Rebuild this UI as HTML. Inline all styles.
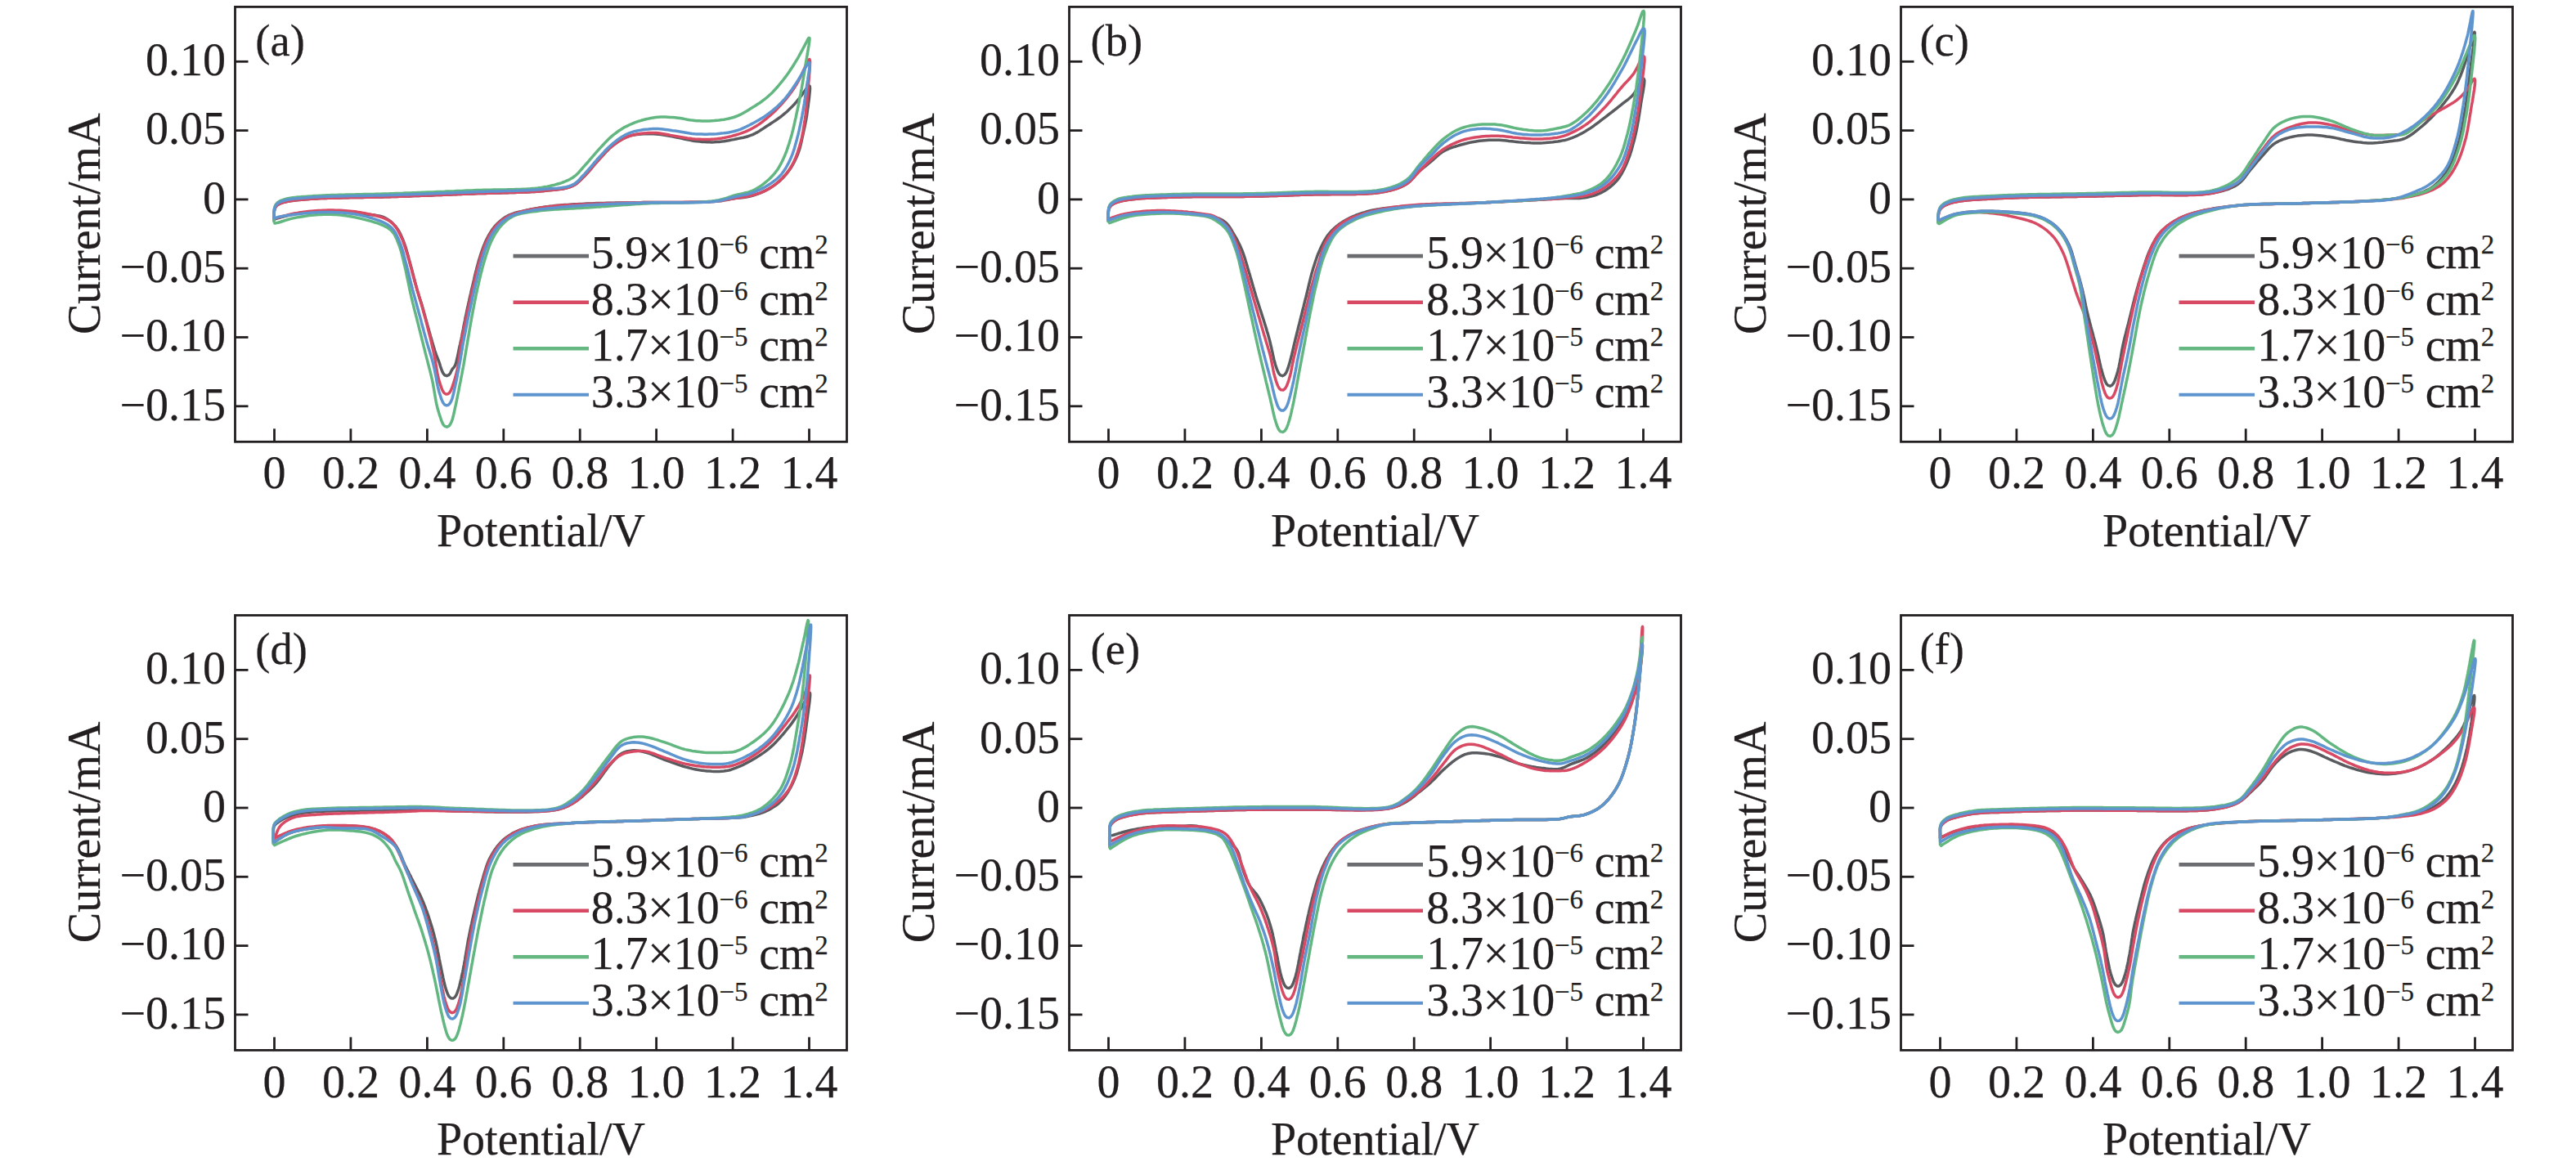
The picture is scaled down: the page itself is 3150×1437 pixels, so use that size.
<!DOCTYPE html>
<html><head><meta charset="utf-8"><style>
html,body{margin:0;padding:0;background:#fff;width:3150px;height:1437px;overflow:hidden}
svg{display:block}
text{font-family:"Liberation Serif",serif;font-size:56px;fill:#231f20;stroke:#231f20;stroke-width:0.25px}
</style></head><body>
<svg width="3150" height="1437" viewBox="0 0 3150 1437">
<g><path d="M334.9,269.2 334.9,266.9 334.8,264.0 335.0,261.0 335.4,258.0 336.1,255.1 337.4,252.5 339.5,250.5 342.1,249.1 344.9,248.1 347.8,247.2 350.7,246.6 353.6,246.0 356.6,245.5 359.6,245.2 362.6,244.8 365.5,244.5 368.5,244.3 371.5,244.0 374.5,243.8 377.5,243.6 380.5,243.3 383.5,243.1 386.5,242.9 389.5,242.8 392.5,242.6 395.5,242.5 398.5,242.4 401.5,242.3 404.5,242.2 407.5,242.1 410.5,242.0 413.5,241.9 416.5,241.9 419.5,241.8 422.5,241.8 425.5,241.7 428.5,241.6 431.5,241.6 434.5,241.5 437.5,241.5 440.5,241.4 443.5,241.4 446.5,241.3 449.5,241.3 452.5,241.2 455.5,241.2 458.5,241.1 461.5,241.0 464.5,241.0 467.5,240.9 470.5,240.8 473.5,240.8 476.5,240.7 479.5,240.6 482.5,240.5 485.4,240.4 488.4,240.3 491.4,240.2 494.4,240.1 497.4,240.0 500.4,239.9 503.4,239.7 506.4,239.6 509.4,239.5 512.4,239.4 515.4,239.3 518.4,239.2 521.4,239.1 524.4,239.0 527.4,238.9 530.4,238.7 533.4,238.6 536.4,238.5 539.4,238.4 542.4,238.3 545.4,238.1 548.4,238.0 551.4,237.9 554.4,237.8 557.4,237.7 560.4,237.6 563.4,237.4 566.4,237.3 569.4,237.2 572.4,237.1 575.4,237.0 578.4,236.9 581.4,236.7 584.4,236.6 587.4,236.5 590.4,236.4 593.4,236.4 596.4,236.3 599.4,236.2 602.4,236.1 605.4,236.0 608.4,236.0 611.4,235.9 614.4,235.8 617.4,235.7 620.4,235.7 623.4,235.6 626.4,235.5 629.4,235.4 632.4,235.3 635.4,235.2 638.4,235.1 641.4,235.0 644.4,234.9 647.3,234.7 650.3,234.6 653.3,234.4 656.3,234.2 659.3,234.0 662.3,233.7 665.3,233.4 668.3,233.1 671.3,232.8 674.3,232.5 677.2,232.3 680.2,231.9 683.2,231.6 686.2,231.2 689.1,230.7 692.1,230.1 695.0,229.3 697.8,228.4 700.5,227.2 703.2,225.7 705.6,224.0 707.9,222.0 710.1,220.0 712.2,217.8 714.3,215.7 716.4,213.6 718.4,211.4 720.4,209.1 722.4,206.8 724.3,204.5 726.2,202.2 728.1,199.9 730.1,197.7 732.1,195.4 734.1,193.2 736.2,191.0 738.2,188.8 740.2,186.6 742.3,184.4 744.4,182.3 746.6,180.3 748.9,178.4 751.3,176.5 753.7,174.8 756.2,173.1 758.7,171.5 761.3,170.0 764.0,168.6 766.8,167.4 769.6,166.4 772.5,165.6 775.4,165.0 778.4,164.5 781.3,164.2 784.3,163.9 787.3,163.8 790.3,163.7 793.3,163.6 796.3,163.7 799.3,163.7 802.3,163.9 805.3,164.2 808.3,164.5 811.2,165.0 814.2,165.5 817.2,166.0 820.1,166.6 823.0,167.1 826.0,167.7 828.9,168.3 831.9,168.9 834.8,169.5 837.7,170.2 840.7,170.8 843.6,171.4 846.6,172.0 849.5,172.4 852.5,172.8 855.5,173.1 858.5,173.4 861.5,173.6 864.5,173.7 867.4,173.8 870.4,173.9 873.4,173.8 876.4,173.6 879.4,173.4 882.4,173.1 885.4,172.7 888.3,172.2 891.3,171.7 894.3,171.1 897.2,170.6 900.1,170.0 903.1,169.4 906.0,168.8 909.0,168.2 911.9,167.5 914.8,166.7 917.6,165.7 920.4,164.6 923.1,163.3 925.7,161.9 928.3,160.4 930.8,158.8 933.4,157.1 935.8,155.5 938.4,153.8 940.9,152.2 943.4,150.5 945.9,148.9 948.4,147.2 950.9,145.5 953.3,143.8 955.7,142.0 958.0,140.1 960.3,138.2 962.6,136.2 964.8,134.1 966.9,132.0 969.0,129.9 971.1,127.7 973.1,125.5 975.0,123.2 976.9,120.9 978.7,118.5 980.5,116.1 982.3,113.6 984.0,111.2 985.7,108.7 987.5,106.3 989.2,104.7 990.3,105.6 990.5,108.3 990.3,111.3 990.0,114.3 989.7,117.3 989.4,120.3 989.0,123.2 988.6,126.2 988.3,129.2 987.8,132.2 987.4,135.1 987.0,138.1 986.6,141.1 986.1,144.0 985.6,147.0 985.0,149.9 984.4,152.9 983.8,155.8 983.2,158.7 982.5,161.7 981.9,164.6 981.2,167.5 980.6,170.5 980.0,173.4 979.3,176.3 978.6,179.2 977.8,182.1 976.8,185.0 975.8,187.8 974.7,190.6 973.5,193.3 972.2,196.0 970.9,198.7 969.4,201.3 967.9,203.9 966.2,206.4 964.5,208.9 962.7,211.3 960.8,213.6 958.8,215.8 956.8,218.0 954.6,220.1 952.4,222.1 950.1,224.0 947.7,225.9 945.2,227.6 942.7,229.2 940.2,230.8 937.6,232.2 934.9,233.6 932.2,234.9 929.4,236.1 926.6,237.1 923.8,238.1 920.9,239.0 918.0,239.8 915.1,240.5 912.2,241.0 909.2,241.4 906.2,241.7 903.2,241.9 900.2,242.3 897.3,242.7 894.3,243.3 891.4,243.8 888.4,244.4 885.5,244.9 882.5,245.4 879.5,245.8 876.5,246.1 873.6,246.4 870.6,246.6 867.6,246.7 864.6,246.9 861.6,247.0 858.6,247.1 855.6,247.2 852.6,247.2 849.6,247.3 846.6,247.3 843.6,247.3 840.6,247.4 837.6,247.4 834.6,247.4 831.6,247.4 828.6,247.4 825.6,247.4 822.6,247.4 819.6,247.4 816.6,247.4 813.6,247.4 810.6,247.4 807.6,247.4 804.6,247.4 801.6,247.5 798.6,247.5 795.6,247.5 792.6,247.5 789.6,247.6 786.6,247.6 783.6,247.7 780.6,247.7 777.6,247.8 774.6,247.8 771.6,247.9 768.6,247.9 765.6,247.9 762.6,248.0 759.6,248.0 756.6,248.1 753.6,248.1 750.6,248.2 747.6,248.2 744.6,248.3 741.6,248.3 738.6,248.4 735.6,248.5 732.6,248.6 729.6,248.6 726.6,248.7 723.6,248.9 720.6,249.0 717.6,249.1 714.6,249.2 711.6,249.4 708.6,249.5 705.6,249.7 702.6,249.8 699.6,250.0 696.6,250.2 693.6,250.4 690.6,250.6 687.6,250.8 684.7,251.1 681.7,251.3 678.7,251.6 675.7,252.0 672.7,252.3 669.7,252.7 666.8,253.1 663.8,253.5 660.8,253.9 657.9,254.4 654.9,254.9 652.0,255.4 649.0,256.0 646.1,256.6 643.1,257.3 640.2,257.9 637.3,258.6 634.4,259.2 631.5,260.0 628.6,260.8 625.7,261.8 623.0,262.9 620.3,264.3 617.7,265.8 615.2,267.5 612.8,269.3 610.6,271.2 608.4,273.3 606.3,275.4 604.3,277.7 602.5,280.1 600.8,282.6 599.2,285.1 597.7,287.7 596.3,290.3 594.9,293.0 593.6,295.7 592.5,298.5 591.3,301.3 590.3,304.1 589.3,306.9 588.3,309.7 587.4,312.6 586.5,315.5 585.6,318.3 584.8,321.2 584.0,324.1 583.2,327.0 582.5,329.9 581.7,332.8 581.0,335.7 580.3,338.6 579.7,341.6 579.0,344.5 578.3,347.4 577.6,350.3 576.9,353.2 576.2,356.2 575.6,359.1 574.9,362.0 574.2,364.9 573.6,367.9 572.9,370.8 572.3,373.7 571.6,376.7 571.0,379.6 570.4,382.5 569.8,385.5 569.1,388.4 568.6,391.3 568.0,394.3 567.4,397.2 566.8,400.2 566.3,403.1 565.7,406.1 565.1,409.0 564.6,412.0 564.0,414.9 563.3,417.8 562.7,420.8 562.0,423.7 561.4,426.6 560.8,429.6 560.2,432.5 559.6,435.4 558.9,438.4 558.3,441.3 557.5,444.2 556.5,447.0 555.0,449.4 553.2,451.3 551.8,453.8 550.6,456.5 548.8,458.7 546.3,459.7 543.8,458.8 542.0,456.6 540.6,453.9 539.6,451.1 538.6,448.2 537.8,445.4 536.8,442.5 535.7,439.7 534.6,437.0 533.5,434.2 532.6,431.3 531.6,428.5 530.7,425.6 529.9,422.7 529.0,419.9 528.2,417.0 527.4,414.1 526.5,411.2 525.7,408.3 524.9,405.4 524.1,402.6 523.3,399.7 522.5,396.8 521.7,393.9 520.9,391.0 520.1,388.1 519.3,385.2 518.5,382.3 517.7,379.4 516.9,376.5 516.1,373.6 515.2,370.8 514.3,367.9 513.3,365.1 512.4,362.2 511.5,359.3 510.6,356.5 509.8,353.6 509.0,350.7 508.3,347.8 507.5,344.9 506.8,342.0 506.0,339.1 505.3,336.2 504.5,333.3 503.8,330.4 503.0,327.5 502.2,324.6 501.4,321.7 500.6,318.8 499.8,315.9 499.1,313.0 498.3,310.1 497.4,307.2 496.6,304.3 495.7,301.5 494.7,298.6 493.7,295.8 492.6,293.0 491.4,290.3 490.2,287.5 488.9,284.8 487.5,282.2 485.8,279.7 484.0,277.3 482.0,275.1 479.9,272.9 477.7,270.9 475.3,269.1 472.8,267.5 470.1,266.1 467.3,265.0 464.5,264.2 461.5,263.6 458.6,263.1 455.6,262.8 452.6,262.5 449.6,262.2 446.6,262.0 443.6,261.6 440.7,261.3 437.7,260.9 434.7,260.6 431.7,260.2 428.7,259.9 425.8,259.6 422.8,259.3 419.8,259.0 416.8,258.8 413.8,258.6 410.8,258.4 407.8,258.2 404.8,258.2 401.8,258.1 398.8,258.1 395.8,258.2 392.8,258.3 389.8,258.4 386.8,258.6 383.8,258.8 380.8,259.0 377.9,259.3 374.9,259.6 371.9,259.9 368.9,260.3 365.9,260.7 363.0,261.2 360.0,261.7 357.1,262.3 354.2,263.0 351.2,263.7 348.3,264.5 345.5,265.2 342.6,266.1 339.7,266.9 337.2,267.7 336.6,267.9" fill="none" stroke="#5a5b5f" stroke-width="3.5" stroke-linejoin="round" stroke-linecap="round"/><path d="M334.9,269.2 334.9,266.9 334.8,264.0 335.0,261.0 335.4,258.0 336.1,255.1 337.4,252.5 339.5,250.5 342.1,249.1 344.9,248.1 347.8,247.2 350.7,246.6 353.6,246.0 356.6,245.5 359.6,245.2 362.6,244.8 365.5,244.5 368.5,244.3 371.5,244.0 374.5,243.8 377.5,243.6 380.5,243.3 383.5,243.1 386.5,242.9 389.5,242.8 392.5,242.6 395.5,242.5 398.5,242.4 401.5,242.3 404.5,242.2 407.5,242.1 410.5,242.0 413.5,241.9 416.5,241.9 419.5,241.8 422.5,241.8 425.5,241.7 428.5,241.6 431.5,241.6 434.5,241.5 437.5,241.5 440.5,241.4 443.5,241.4 446.5,241.3 449.5,241.3 452.5,241.2 455.5,241.2 458.5,241.1 461.5,241.0 464.5,241.0 467.5,240.9 470.5,240.8 473.5,240.8 476.5,240.7 479.5,240.6 482.5,240.5 485.4,240.4 488.4,240.3 491.4,240.2 494.4,240.1 497.4,240.0 500.4,239.9 503.4,239.7 506.4,239.6 509.4,239.5 512.4,239.4 515.4,239.3 518.4,239.2 521.4,239.1 524.4,239.0 527.4,238.9 530.4,238.7 533.4,238.6 536.4,238.5 539.4,238.4 542.4,238.3 545.4,238.1 548.4,238.0 551.4,237.9 554.4,237.8 557.4,237.7 560.4,237.6 563.4,237.4 566.4,237.3 569.4,237.2 572.4,237.1 575.4,237.0 578.4,236.9 581.4,236.7 584.4,236.6 587.4,236.5 590.4,236.4 593.4,236.4 596.4,236.3 599.4,236.2 602.4,236.1 605.4,236.0 608.4,236.0 611.4,235.9 614.4,235.8 617.4,235.7 620.4,235.7 623.4,235.6 626.4,235.5 629.4,235.4 632.4,235.3 635.4,235.2 638.4,235.1 641.4,235.0 644.4,234.9 647.3,234.7 650.3,234.6 653.3,234.4 656.3,234.2 659.3,234.0 662.3,233.7 665.3,233.4 668.3,233.1 671.3,232.8 674.3,232.5 677.2,232.3 680.2,231.9 683.2,231.6 686.2,231.2 689.1,230.7 692.1,230.1 695.0,229.3 697.8,228.4 700.5,227.2 703.2,225.7 705.6,224.0 707.9,222.0 710.1,220.0 712.2,217.8 714.3,215.7 716.4,213.6 718.4,211.4 720.4,209.1 722.4,206.8 724.3,204.5 726.2,202.2 728.1,199.9 730.1,197.7 732.1,195.4 734.1,193.2 736.2,191.0 738.2,188.8 740.2,186.6 742.3,184.4 744.4,182.3 746.6,180.3 748.9,178.4 751.3,176.5 753.7,174.8 756.2,173.1 758.8,171.5 761.4,170.0 764.0,168.7 766.8,167.5 769.6,166.4 772.5,165.5 775.4,164.8 778.3,164.2 781.3,163.7 784.2,163.3 787.2,163.0 790.2,162.8 793.2,162.6 796.2,162.5 799.2,162.5 802.2,162.6 805.2,162.8 808.2,163.2 811.1,163.7 814.1,164.2 817.0,164.8 820.0,165.4 822.9,165.9 825.9,166.4 828.8,166.9 831.8,167.4 834.8,167.9 837.7,168.4 840.7,168.9 843.6,169.3 846.6,169.7 849.6,170.0 852.6,170.2 855.6,170.3 858.6,170.5 861.6,170.5 864.6,170.5 867.6,170.5 870.6,170.3 873.6,170.1 876.6,169.8 879.5,169.4 882.5,169.0 885.5,168.5 888.4,167.9 891.3,167.3 894.3,166.6 897.2,165.8 900.0,165.0 902.9,164.1 905.8,163.2 908.6,162.1 911.4,161.1 914.1,159.9 916.8,158.6 919.5,157.2 922.1,155.8 924.7,154.2 927.2,152.6 929.7,150.8 932.1,149.1 934.5,147.2 936.8,145.4 939.1,143.5 941.4,141.5 943.6,139.5 945.8,137.5 948.0,135.4 950.1,133.3 952.2,131.1 954.2,128.9 956.2,126.7 958.2,124.4 960.2,122.1 962.1,119.8 963.9,117.5 965.8,115.1 967.5,112.7 969.3,110.2 971.0,107.8 972.6,105.2 974.2,102.7 975.7,100.1 977.1,97.5 978.5,94.8 979.8,92.1 981.0,89.4 982.3,86.6 983.6,83.9 984.8,81.2 986.1,78.5 987.3,75.7 988.6,73.2 989.9,72.5 990.5,74.5 990.5,77.5 990.4,80.5 990.2,83.5 990.0,86.4 989.8,89.4 989.5,92.4 989.2,95.4 989.0,98.4 988.7,101.4 988.4,104.4 988.2,107.4 987.9,110.4 987.7,113.3 987.5,116.3 987.2,119.3 986.9,122.3 986.7,125.3 986.4,128.3 986.1,131.3 985.8,134.3 985.4,137.2 985.1,140.2 984.7,143.2 984.3,146.2 983.8,149.1 983.4,152.1 982.9,155.1 982.4,158.0 981.9,161.0 981.3,163.9 980.8,166.9 980.1,169.8 979.4,172.7 978.6,175.6 977.8,178.5 976.9,181.4 976.0,184.2 975.1,187.1 974.1,189.9 973.0,192.7 971.8,195.4 970.6,198.2 969.2,200.8 967.7,203.5 966.2,206.0 964.5,208.5 962.7,210.9 960.8,213.3 958.9,215.5 956.8,217.7 954.7,219.8 952.5,221.9 950.2,223.8 947.9,225.7 945.4,227.4 943.0,229.1 940.4,230.7 937.8,232.2 935.1,233.5 932.4,234.7 929.6,235.8 926.7,236.8 923.9,237.7 921.0,238.5 918.1,239.3 915.2,239.9 912.2,240.5 909.3,241.0 906.3,241.4 903.3,241.8 900.4,242.3 897.4,242.8 894.4,243.3 891.5,243.9 888.5,244.4 885.6,244.9 882.6,245.4 879.7,245.8 876.7,246.1 873.7,246.3 870.7,246.6 867.7,246.7 864.7,246.9 861.7,247.0 858.7,247.1 855.7,247.1 852.7,247.2 849.7,247.2 846.7,247.3 843.7,247.3 840.7,247.3 837.7,247.3 834.7,247.4 831.7,247.4 828.7,247.4 825.7,247.4 822.7,247.4 819.7,247.4 816.7,247.4 813.7,247.4 810.7,247.4 807.7,247.4 804.7,247.4 801.7,247.4 798.7,247.4 795.7,247.5 792.7,247.5 789.7,247.6 786.7,247.6 783.7,247.7 780.7,247.8 777.7,247.8 774.7,247.9 771.7,248.0 768.7,248.0 765.7,248.1 762.7,248.2 759.7,248.2 756.7,248.3 753.7,248.4 750.7,248.5 747.7,248.5 744.7,248.6 741.7,248.7 738.7,248.8 735.7,248.9 732.7,249.0 729.7,249.1 726.7,249.2 723.7,249.3 720.7,249.5 717.7,249.6 714.7,249.7 711.7,249.9 708.7,250.0 705.7,250.1 702.7,250.3 699.8,250.4 696.8,250.6 693.8,250.7 690.8,250.9 687.8,251.1 684.8,251.3 681.8,251.6 678.8,251.8 675.8,252.2 672.8,252.5 669.9,252.9 666.9,253.3 663.9,253.7 661.0,254.1 658.0,254.6 655.0,255.2 652.1,255.7 649.2,256.3 646.2,257.0 643.3,257.6 640.4,258.2 637.4,258.9 634.5,259.6 631.6,260.4 628.8,261.3 625.9,262.3 623.2,263.5 620.5,264.9 618.0,266.4 615.5,268.1 613.1,270.0 610.9,271.9 608.7,274.0 606.6,276.2 604.7,278.5 602.9,280.9 601.3,283.4 599.7,285.9 598.2,288.5 596.8,291.2 595.5,293.9 594.3,296.6 593.1,299.4 592.0,302.2 591.0,305.0 590.0,307.8 589.0,310.7 588.1,313.5 587.2,316.4 586.4,319.3 585.5,322.1 584.7,325.0 584.0,327.9 583.2,330.8 582.5,333.8 581.8,336.7 581.1,339.6 580.4,342.5 579.8,345.4 579.1,348.4 578.4,351.3 577.7,354.2 577.0,357.1 576.4,360.0 575.7,363.0 575.0,365.9 574.4,368.8 573.7,371.8 573.1,374.7 572.4,377.6 571.8,380.5 571.2,383.5 570.6,386.4 569.9,389.4 569.3,392.3 568.7,395.2 568.1,398.2 567.5,401.1 566.9,404.0 566.3,407.0 565.7,409.9 565.1,412.9 564.6,415.8 564.1,418.8 563.6,421.7 563.1,424.7 562.7,427.7 562.3,430.6 562.0,433.6 561.6,436.6 561.3,439.6 560.8,442.6 560.4,445.5 559.9,448.5 559.3,451.4 558.6,454.3 557.9,457.2 557.1,460.1 556.3,463.0 555.4,465.9 554.5,468.8 553.6,471.6 552.6,474.5 551.5,477.2 550.0,479.8 548.0,481.7 545.4,482.1 543.1,480.6 541.5,478.2 540.2,475.5 539.2,472.6 538.3,469.8 537.4,466.9 536.5,464.1 535.8,461.2 535.1,458.2 534.6,455.3 534.1,452.3 533.6,449.4 533.1,446.4 532.7,443.4 532.2,440.5 531.6,437.5 531.0,434.6 530.4,431.6 529.8,428.7 529.1,425.8 528.4,422.9 527.8,419.9 527.1,417.0 526.4,414.1 525.7,411.2 524.9,408.3 524.2,405.4 523.5,402.5 522.7,399.6 522.0,396.6 521.2,393.7 520.5,390.8 519.7,388.0 518.9,385.1 518.1,382.2 517.3,379.3 516.5,376.4 515.7,373.5 514.9,370.6 514.1,367.7 513.2,364.8 512.4,362.0 511.5,359.1 510.7,356.2 509.8,353.3 509.0,350.4 508.1,347.6 507.3,344.7 506.5,341.8 505.7,338.9 504.9,336.0 504.1,333.1 503.4,330.2 502.6,327.3 501.8,324.4 501.1,321.5 500.3,318.6 499.4,315.7 498.6,312.9 497.7,310.0 496.8,307.1 496.0,304.3 495.1,301.4 494.1,298.5 493.1,295.7 492.0,292.9 490.8,290.2 489.5,287.5 488.1,284.8 486.7,282.2 485.2,279.6 483.5,277.1 481.6,274.8 479.5,272.7 477.1,270.8 474.6,269.2 471.9,267.9 469.2,266.7 466.3,265.7 463.5,264.8 460.6,264.0 457.7,263.3 454.8,262.6 451.8,262.0 448.9,261.4 445.9,260.8 443.0,260.3 440.0,259.7 437.1,259.3 434.1,258.8 431.1,258.5 428.1,258.2 425.2,257.9 422.2,257.7 419.2,257.5 416.2,257.3 413.2,257.2 410.2,257.2 407.2,257.1 404.2,257.1 401.2,257.1 398.2,257.2 395.2,257.3 392.2,257.4 389.2,257.6 386.2,257.8 383.2,258.0 380.2,258.3 377.2,258.6 374.3,258.9 371.3,259.3 368.3,259.7 365.3,260.1 362.4,260.6 359.4,261.1 356.5,261.8 353.6,262.4 350.7,263.2 347.8,263.9 344.9,264.7 342.0,265.6 339.1,266.4 336.6,267.2 336.0,267.4" fill="none" stroke="#d84a64" stroke-width="3.5" stroke-linejoin="round" stroke-linecap="round"/><path d="M334.9,271.0 334.9,268.8 334.8,265.8 334.8,262.8 334.9,259.8 335.2,256.8 335.7,253.9 336.7,251.1 338.4,248.7 340.7,246.8 343.3,245.4 346.1,244.3 348.9,243.4 351.9,242.7 354.8,242.2 357.8,241.8 360.8,241.4 363.7,241.1 366.7,240.9 369.7,240.6 372.7,240.4 375.7,240.2 378.7,240.0 381.7,239.8 384.7,239.5 387.7,239.4 390.7,239.2 393.7,239.1 396.7,238.9 399.7,238.8 402.7,238.7 405.7,238.6 408.7,238.5 411.7,238.4 414.7,238.3 417.7,238.2 420.7,238.2 423.7,238.1 426.7,238.0 429.7,238.0 432.7,237.9 435.7,237.8 438.7,237.8 441.7,237.7 444.7,237.6 447.7,237.6 450.7,237.5 453.7,237.4 456.7,237.4 459.6,237.3 462.6,237.2 465.6,237.2 468.6,237.1 471.6,237.0 474.6,236.9 477.6,236.8 480.6,236.7 483.6,236.6 486.6,236.5 489.6,236.4 492.6,236.3 495.6,236.1 498.6,236.0 501.6,235.9 504.6,235.8 507.6,235.7 510.6,235.6 513.6,235.5 516.6,235.3 519.6,235.2 522.6,235.1 525.6,235.0 528.6,234.9 531.6,234.7 534.6,234.6 537.6,234.5 540.6,234.4 543.6,234.3 546.6,234.1 549.6,234.0 552.6,233.9 555.6,233.8 558.6,233.6 561.6,233.5 564.6,233.4 567.6,233.2 570.6,233.1 573.6,233.0 576.6,232.9 579.6,232.7 582.6,232.6 585.6,232.5 588.6,232.4 591.6,232.3 594.6,232.3 597.6,232.2 600.6,232.2 603.6,232.1 606.6,232.1 609.6,232.0 612.6,232.0 615.6,231.9 618.6,231.9 621.6,231.8 624.5,231.8 627.5,231.7 630.5,231.6 633.5,231.5 636.5,231.4 639.5,231.3 642.5,231.2 645.5,231.0 648.5,230.8 651.5,230.5 654.5,230.3 657.5,230.0 660.5,229.6 663.4,229.1 666.4,228.6 669.3,228.1 672.3,227.5 675.2,226.8 678.1,226.1 681.0,225.3 683.9,224.5 686.7,223.6 689.6,222.5 692.3,221.4 695.1,220.2 697.7,218.8 700.3,217.2 702.7,215.5 705.0,213.6 707.2,211.5 709.2,209.2 711.1,207.0 713.1,204.7 715.1,202.4 717.1,200.2 719.1,198.0 721.0,195.7 723.0,193.4 724.9,191.1 726.9,188.8 728.8,186.6 730.8,184.3 732.8,182.1 734.9,179.9 736.9,177.7 739.0,175.5 741.0,173.4 743.1,171.2 745.3,169.1 747.5,167.1 749.8,165.2 752.2,163.3 754.6,161.5 757.0,159.8 759.5,158.2 762.1,156.6 764.7,155.1 767.4,153.8 770.1,152.5 772.8,151.3 775.6,150.2 778.4,149.2 781.3,148.2 784.2,147.3 787.0,146.5 789.9,145.8 792.9,145.1 795.8,144.5 798.8,144.0 801.7,143.6 804.7,143.3 807.7,143.1 810.7,143.1 813.7,143.1 816.7,143.2 819.7,143.4 822.7,143.6 825.7,143.8 828.7,144.2 831.6,144.6 834.6,145.1 837.5,145.6 840.5,146.2 843.4,146.7 846.4,147.1 849.4,147.4 852.4,147.7 855.4,147.8 858.4,147.9 861.4,148.0 864.4,148.0 867.4,148.0 870.4,147.8 873.4,147.6 876.4,147.3 879.3,147.0 882.3,146.6 885.3,146.2 888.2,145.6 891.2,145.0 894.1,144.3 897.0,143.5 899.8,142.5 902.6,141.4 905.3,140.2 908.0,138.8 910.6,137.3 913.2,135.8 915.7,134.2 918.3,132.6 920.8,131.0 923.4,129.5 925.9,127.8 928.4,126.2 930.9,124.5 933.3,122.7 935.7,120.9 938.0,119.0 940.2,117.0 942.4,115.0 944.6,112.9 946.6,110.7 948.7,108.5 950.7,106.3 952.6,104.0 954.5,101.7 956.4,99.4 958.3,97.0 960.1,94.6 961.9,92.2 963.7,89.8 965.4,87.3 967.0,84.8 968.7,82.3 970.3,79.8 971.9,77.2 973.4,74.7 975.0,72.1 976.5,69.5 977.9,66.9 979.4,64.2 980.8,61.6 982.2,58.9 983.6,56.3 985.0,53.6 986.4,51.0 987.7,48.3 989.1,46.3 990.0,46.7 989.9,49.3 989.5,52.3 989.1,55.2 988.6,58.2 988.1,61.2 987.6,64.1 987.1,67.1 986.6,70.0 986.1,73.0 985.6,75.9 985.1,78.9 984.6,81.9 984.2,84.8 983.7,87.8 983.2,90.8 982.7,93.7 982.2,96.7 981.7,99.6 981.2,102.6 980.7,105.5 980.2,108.5 979.6,111.4 979.1,114.4 978.5,117.3 977.9,120.3 977.4,123.2 976.8,126.2 976.2,129.1 975.6,132.1 975.0,135.0 974.3,137.9 973.7,140.9 973.1,143.8 972.4,146.7 971.8,149.7 971.1,152.6 970.5,155.5 969.8,158.4 969.0,161.3 968.3,164.2 967.5,167.1 966.6,170.0 965.7,172.9 964.9,175.7 963.9,178.6 963.0,181.4 962.0,184.3 960.9,187.1 959.8,189.8 958.6,192.6 957.4,195.3 956.1,198.0 954.7,200.7 953.2,203.3 951.7,205.9 950.0,208.4 948.2,210.8 946.3,213.1 944.3,215.3 942.2,217.5 940.1,219.5 937.8,221.5 935.5,223.4 933.1,225.3 930.7,227.1 928.2,228.8 925.7,230.3 923.1,231.8 920.4,233.1 917.6,234.2 914.7,235.1 911.8,235.8 908.9,236.5 906.0,237.1 903.0,237.7 900.1,238.4 897.2,239.2 894.4,240.1 891.5,241.1 888.7,242.1 885.8,243.0 882.9,243.8 880.0,244.5 877.1,245.1 874.1,245.6 871.2,246.0 868.2,246.3 865.2,246.6 862.2,246.9 859.2,247.0 856.2,247.2 853.2,247.4 850.2,247.5 847.2,247.6 844.2,247.7 841.2,247.7 838.2,247.8 835.2,247.9 832.2,247.9 829.2,248.0 826.2,248.0 823.2,248.1 820.2,248.1 817.2,248.2 814.2,248.2 811.2,248.3 808.2,248.3 805.2,248.4 802.2,248.5 799.2,248.5 796.2,248.6 793.2,248.8 790.2,248.9 787.2,249.0 784.3,249.2 781.3,249.4 778.3,249.6 775.3,249.8 772.3,250.0 769.3,250.2 766.3,250.4 763.3,250.6 760.3,250.8 757.3,251.1 754.3,251.3 751.3,251.5 748.3,251.7 745.3,252.0 742.4,252.2 739.4,252.4 736.4,252.6 733.4,252.9 730.4,253.1 727.4,253.3 724.4,253.5 721.4,253.7 718.4,253.9 715.4,254.1 712.4,254.2 709.4,254.4 706.4,254.6 703.4,254.7 700.4,254.9 697.4,255.0 694.5,255.2 691.5,255.4 688.5,255.6 685.5,255.8 682.5,255.9 679.5,256.1 676.5,256.3 673.5,256.5 670.5,256.7 667.5,257.0 664.5,257.3 661.5,257.6 658.6,258.0 655.6,258.4 652.6,258.7 649.6,259.1 646.7,259.5 643.7,260.0 640.7,260.5 637.8,261.1 634.9,261.8 632.0,262.6 629.2,263.7 626.5,264.9 623.9,266.4 621.4,268.1 619.1,270.0 616.8,272.0 614.7,274.1 612.6,276.2 610.7,278.5 608.9,280.9 607.2,283.4 605.6,285.9 604.1,288.5 602.7,291.2 601.3,293.8 600.1,296.6 598.9,299.3 597.8,302.1 596.8,305.0 595.9,307.8 594.9,310.6 594.0,313.5 593.1,316.4 592.3,319.2 591.4,322.1 590.6,325.0 589.8,327.9 589.1,330.8 588.3,333.7 587.6,336.6 586.9,339.5 586.2,342.5 585.5,345.4 584.9,348.3 584.2,351.2 583.5,354.2 582.9,357.1 582.3,360.0 581.7,363.0 581.1,365.9 580.5,368.8 579.9,371.8 579.4,374.7 578.8,377.7 578.2,380.6 577.7,383.6 577.1,386.5 576.6,389.5 576.1,392.4 575.5,395.4 575.0,398.3 574.5,401.3 574.0,404.3 573.5,407.2 573.0,410.2 572.5,413.1 572.0,416.1 571.5,419.0 571.0,422.0 570.5,425.0 570.0,427.9 569.5,430.9 569.0,433.8 568.5,436.8 568.0,439.8 567.5,442.7 567.0,445.7 566.5,448.6 565.9,451.6 565.3,454.5 564.8,457.5 564.2,460.4 563.6,463.4 563.1,466.3 562.5,469.2 561.9,472.2 561.3,475.1 560.8,478.1 560.2,481.0 559.6,484.0 559.0,486.9 558.4,489.8 557.8,492.8 557.2,495.7 556.5,498.6 555.9,501.6 555.3,504.5 554.6,507.4 553.9,510.3 553.1,513.2 552.0,516.0 550.7,518.7 549.0,521.0 546.5,522.2 544.0,521.4 542.1,519.3 540.7,516.7 539.6,513.9 538.7,511.0 537.7,508.2 536.8,505.3 536.0,502.5 535.1,499.6 534.4,496.7 533.7,493.7 533.1,490.8 532.6,487.9 532.1,484.9 531.6,481.9 531.1,479.0 530.6,476.0 530.1,473.1 529.6,470.1 529.0,467.2 528.4,464.2 527.7,461.3 527.0,458.4 526.3,455.5 525.6,452.6 524.8,449.7 524.1,446.8 523.3,443.9 522.6,440.9 521.8,438.0 521.1,435.1 520.3,432.2 519.6,429.3 518.9,426.4 518.1,423.5 517.4,420.6 516.7,417.7 515.9,414.8 515.2,411.9 514.5,409.0 513.8,406.0 513.0,403.1 512.3,400.2 511.6,397.3 510.8,394.4 510.1,391.5 509.4,388.6 508.6,385.7 507.9,382.8 507.1,379.9 506.4,377.0 505.7,374.0 504.9,371.1 504.2,368.2 503.5,365.3 502.8,362.4 502.2,359.5 501.5,356.5 500.9,353.6 500.3,350.7 499.7,347.7 499.1,344.8 498.5,341.9 497.8,338.9 497.2,336.0 496.6,333.0 496.0,330.1 495.3,327.2 494.6,324.3 493.9,321.4 493.2,318.4 492.5,315.5 491.8,312.6 491.1,309.7 490.3,306.8 489.4,303.9 488.5,301.1 487.4,298.3 486.3,295.5 485.2,292.7 483.9,290.0 482.6,287.3 480.9,284.8 479.0,282.5 476.8,280.5 474.4,278.8 471.8,277.3 469.1,276.0 466.3,274.8 463.5,273.7 460.7,272.7 457.8,271.8 455.0,270.9 452.1,270.1 449.2,269.4 446.3,268.6 443.4,267.9 440.4,267.1 437.5,266.5 434.6,265.9 431.6,265.3 428.7,264.8 425.7,264.3 422.8,263.8 419.8,263.5 416.8,263.1 413.8,262.8 410.8,262.6 407.8,262.4 404.8,262.3 401.8,262.2 398.8,262.2 395.8,262.3 392.8,262.4 389.8,262.5 386.9,262.7 383.9,263.0 380.9,263.3 377.9,263.6 374.9,264.0 372.0,264.4 369.0,264.9 366.0,265.4 363.1,265.9 360.1,266.5 357.2,267.1 354.3,267.9 351.4,268.7 348.6,269.6 345.7,270.5 342.8,271.5 340.0,272.3 337.2,272.9 335.9,273.1" fill="none" stroke="#62b680" stroke-width="3.5" stroke-linejoin="round" stroke-linecap="round"/><path d="M334.9,266.6 334.9,264.3 334.9,261.3 335.1,258.3 335.6,255.4 336.5,252.6 338.1,250.1 340.4,248.3 343.0,246.9 345.8,245.8 348.7,245.0 351.6,244.3 354.6,243.8 357.6,243.3 360.5,243.0 363.5,242.7 366.5,242.4 369.5,242.2 372.5,241.9 375.5,241.7 378.5,241.5 381.5,241.3 384.5,241.1 387.5,240.9 390.4,240.7 393.4,240.6 396.4,240.5 399.4,240.4 402.4,240.3 405.4,240.2 408.4,240.1 411.4,240.0 414.4,239.9 417.4,239.9 420.4,239.8 423.4,239.7 426.4,239.7 429.4,239.6 432.4,239.6 435.4,239.5 438.4,239.5 441.4,239.4 444.4,239.4 447.4,239.3 450.4,239.3 453.4,239.2 456.4,239.1 459.4,239.1 462.4,239.0 465.4,239.0 468.4,238.9 471.4,238.8 474.4,238.7 477.4,238.6 480.4,238.5 483.4,238.4 486.4,238.3 489.4,238.2 492.4,238.1 495.4,238.0 498.4,237.9 501.4,237.8 504.4,237.7 507.4,237.6 510.4,237.5 513.4,237.4 516.4,237.3 519.4,237.2 522.4,237.0 525.4,236.9 528.4,236.8 531.4,236.7 534.4,236.6 537.4,236.5 540.4,236.3 543.4,236.2 546.4,236.1 549.4,236.0 552.4,235.9 555.4,235.8 558.4,235.6 561.4,235.5 564.4,235.4 567.4,235.3 570.4,235.2 573.4,235.0 576.4,234.9 579.3,234.8 582.3,234.7 585.3,234.6 588.3,234.5 591.3,234.4 594.3,234.3 597.3,234.2 600.3,234.1 603.3,234.1 606.3,234.0 609.3,233.9 612.3,233.8 615.3,233.7 618.3,233.6 621.3,233.6 624.3,233.5 627.3,233.4 630.3,233.3 633.3,233.2 636.3,233.1 639.3,233.0 642.3,232.8 645.3,232.7 648.3,232.6 651.3,232.4 654.3,232.2 657.3,232.0 660.3,231.8 663.3,231.6 666.3,231.3 669.3,231.1 672.2,230.8 675.2,230.6 678.2,230.4 681.2,230.2 684.2,229.9 687.2,229.6 690.2,229.1 693.1,228.5 696.0,227.7 698.8,226.7 701.5,225.4 704.0,223.7 706.3,221.8 708.4,219.7 710.4,217.5 712.4,215.3 714.5,213.1 716.5,210.9 718.5,208.7 720.5,206.4 722.5,204.1 724.4,201.8 726.3,199.5 728.3,197.3 730.2,195.0 732.3,192.8 734.3,190.6 736.3,188.4 738.4,186.2 740.4,184.0 742.5,181.8 744.7,179.7 746.9,177.7 749.1,175.7 751.5,173.9 753.8,172.0 756.2,170.2 758.7,168.5 761.2,166.9 763.8,165.4 766.5,164.0 769.2,162.8 772.1,161.8 774.9,160.9 777.8,160.2 780.8,159.6 783.7,159.1 786.7,158.6 789.7,158.2 792.6,158.0 795.6,157.7 798.6,157.6 801.6,157.5 804.6,157.6 807.6,157.7 810.6,158.0 813.6,158.4 816.6,158.8 819.5,159.2 822.5,159.7 825.5,160.1 828.4,160.5 831.4,161.0 834.4,161.5 837.3,162.0 840.3,162.5 843.2,163.0 846.2,163.4 849.2,163.7 852.2,163.9 855.2,164.0 858.2,164.1 861.2,164.2 864.2,164.2 867.2,164.1 870.2,164.0 873.2,163.9 876.2,163.7 879.1,163.4 882.1,163.1 885.1,162.8 888.1,162.4 891.1,162.0 894.0,161.4 896.9,160.8 899.8,160.0 902.7,159.1 905.5,158.1 908.3,156.9 911.0,155.7 913.7,154.3 916.4,153.0 919.0,151.6 921.7,150.2 924.3,148.8 927.0,147.3 929.6,145.8 932.1,144.3 934.6,142.7 937.1,141.0 939.6,139.2 941.9,137.4 944.3,135.6 946.6,133.6 948.9,131.7 951.1,129.7 953.3,127.6 955.4,125.5 957.5,123.3 959.5,121.1 961.4,118.8 963.3,116.4 965.1,114.1 966.8,111.6 968.6,109.2 970.2,106.7 971.9,104.2 973.6,101.7 975.2,99.2 976.8,96.6 978.3,94.1 979.9,91.5 981.4,88.9 982.9,86.3 984.4,83.7 985.9,81.1 987.5,78.6 989.0,76.5 990.0,76.9 990.2,79.5 989.9,82.4 989.5,85.4 989.1,88.4 988.7,91.4 988.2,94.3 987.8,97.3 987.3,100.3 986.8,103.2 986.4,106.2 986.0,109.2 985.6,112.1 985.1,115.1 984.7,118.1 984.3,121.0 983.8,124.0 983.4,127.0 982.9,129.9 982.4,132.9 981.9,135.8 981.3,138.8 980.8,141.8 980.2,144.7 979.7,147.6 979.1,150.6 978.5,153.5 977.8,156.5 977.2,159.4 976.5,162.3 975.8,165.2 975.0,168.1 974.3,171.0 973.5,173.9 972.7,176.8 971.9,179.7 971.1,182.6 970.1,185.4 969.1,188.3 968.0,191.1 966.9,193.8 965.6,196.5 964.3,199.2 962.9,201.9 961.4,204.5 959.9,207.1 958.2,209.6 956.4,212.0 954.5,214.3 952.4,216.4 950.2,218.5 947.9,220.4 945.5,222.2 943.1,223.9 940.6,225.6 938.0,227.2 935.5,228.7 932.8,230.1 930.1,231.5 927.4,232.7 924.6,233.9 921.9,235.0 919.0,236.0 916.2,236.9 913.3,237.7 910.4,238.3 907.4,238.9 904.5,239.5 901.5,240.1 898.6,240.8 895.7,241.5 892.8,242.3 889.9,243.1 887.0,243.9 884.1,244.6 881.2,245.2 878.2,245.8 875.3,246.2 872.3,246.5 869.3,246.8 866.3,247.0 863.3,247.2 860.3,247.3 857.3,247.5 854.3,247.5 851.3,247.6 848.3,247.7 845.3,247.7 842.3,247.7 839.3,247.7 836.3,247.8 833.3,247.8 830.3,247.8 827.3,247.8 824.3,247.8 821.3,247.7 818.3,247.7 815.3,247.7 812.3,247.7 809.3,247.7 806.3,247.7 803.3,247.8 800.3,247.8 797.3,247.8 794.3,247.9 791.3,247.9 788.3,248.0 785.3,248.1 782.3,248.2 779.3,248.3 776.3,248.4 773.3,248.5 770.3,248.6 767.3,248.7 764.3,248.8 761.3,248.9 758.3,249.0 755.3,249.1 752.3,249.2 749.3,249.3 746.3,249.5 743.3,249.6 740.3,249.7 737.4,249.9 734.4,250.0 731.4,250.2 728.4,250.3 725.4,250.5 722.4,250.7 719.4,250.8 716.4,251.0 713.4,251.2 710.4,251.4 707.4,251.6 704.4,251.9 701.4,252.1 698.4,252.3 695.4,252.6 692.4,252.8 689.5,253.1 686.5,253.3 683.5,253.6 680.5,253.9 677.5,254.2 674.5,254.5 671.5,254.8 668.6,255.1 665.6,255.4 662.6,255.7 659.6,256.0 656.6,256.4 653.7,256.8 650.7,257.3 647.8,257.9 644.8,258.4 641.9,259.0 638.9,259.7 636.0,260.4 633.1,261.2 630.3,262.1 627.5,263.1 624.7,264.4 622.1,265.8 619.5,267.4 617.1,269.1 614.7,270.9 612.5,272.9 610.3,275.0 608.3,277.2 606.4,279.5 604.6,281.9 602.9,284.4 601.4,287.0 599.9,289.6 598.5,292.2 597.2,294.9 596.0,297.7 594.9,300.5 593.8,303.3 592.8,306.1 591.9,308.9 591.0,311.8 590.1,314.7 589.2,317.5 588.3,320.4 587.5,323.3 586.7,326.2 586.0,329.1 585.2,332.0 584.5,334.9 583.8,337.8 583.1,340.8 582.5,343.7 581.8,346.6 581.1,349.5 580.4,352.4 579.7,355.4 579.1,358.3 578.4,361.2 577.7,364.1 577.1,367.1 576.5,370.0 575.8,372.9 575.2,375.9 574.6,378.8 573.9,381.7 573.3,384.7 572.7,387.6 572.1,390.5 571.5,393.5 570.9,396.4 570.3,399.4 569.7,402.3 569.2,405.3 568.6,408.2 568.0,411.1 567.4,414.1 566.9,417.0 566.3,420.0 565.8,422.9 565.3,425.9 564.8,428.9 564.3,431.8 563.8,434.8 563.3,437.7 562.8,440.7 562.3,443.6 561.7,446.6 561.2,449.5 560.6,452.5 560.0,455.4 559.4,458.4 558.9,461.3 558.3,464.3 557.7,467.2 557.0,470.1 556.4,473.1 555.8,476.0 555.1,478.9 554.5,481.8 553.7,484.8 552.9,487.6 551.8,490.4 550.4,493.0 548.5,495.2 546.0,495.9 543.5,494.8 541.8,492.5 540.5,489.8 539.4,487.0 538.5,484.1 537.6,481.3 536.7,478.4 536.0,475.5 535.3,472.6 534.7,469.6 534.1,466.7 533.6,463.7 533.1,460.8 532.5,457.8 531.9,454.9 531.3,452.0 530.7,449.0 530.0,446.1 529.3,443.2 528.5,440.3 527.7,437.4 526.8,434.5 526.0,431.7 525.1,428.8 524.2,425.9 523.3,423.1 522.5,420.2 521.6,417.3 520.8,414.4 520.0,411.5 519.2,408.6 518.4,405.7 517.7,402.8 516.9,399.9 516.1,397.0 515.3,394.1 514.6,391.2 513.8,388.3 513.0,385.4 512.2,382.5 511.5,379.7 510.7,376.8 509.9,373.9 509.1,371.0 508.3,368.1 507.5,365.2 506.7,362.3 506.0,359.4 505.2,356.5 504.4,353.6 503.7,350.7 502.9,347.8 502.2,344.9 501.5,342.0 500.8,339.0 500.1,336.1 499.4,333.2 498.7,330.3 497.9,327.4 497.2,324.5 496.4,321.6 495.6,318.7 494.9,315.8 494.1,312.9 493.4,310.0 492.6,307.1 491.7,304.2 490.8,301.3 489.8,298.5 488.6,295.8 487.5,293.0 486.3,290.2 485.0,287.5 483.6,284.9 482.0,282.3 480.2,280.0 478.1,277.9 475.7,276.0 473.2,274.3 470.6,272.9 467.9,271.6 465.2,270.4 462.4,269.3 459.5,268.3 456.7,267.4 453.8,266.5 450.9,265.7 448.0,264.9 445.1,264.2 442.2,263.5 439.3,262.9 436.3,262.3 433.4,261.8 430.4,261.3 427.4,261.0 424.4,260.6 421.5,260.4 418.5,260.1 415.5,260.0 412.5,259.8 409.5,259.7 406.5,259.6 403.5,259.5 400.5,259.5 397.5,259.5 394.5,259.5 391.5,259.6 388.5,259.7 385.5,259.9 382.5,260.1 379.5,260.3 376.5,260.6 373.5,260.8 370.5,261.1 367.6,261.4 364.6,261.8 361.6,262.1 358.6,262.5 355.6,262.9 352.7,263.3 349.7,263.7 346.7,264.2 343.8,264.7 340.8,265.3 338.0,266.1 336.0,267.0" fill="none" stroke="#5f95cf" stroke-width="3.5" stroke-linejoin="round" stroke-linecap="round"/><rect x="287.5" y="8.4" width="748.0" height="531.9" fill="none" stroke="#231f20" stroke-width="2.8"/><line x1="287.5" y1="75.3" x2="303.5" y2="75.3" stroke="#231f20" stroke-width="2.8"/><text x="276.0" y="92.1" text-anchor="end">0.10</text><line x1="287.5" y1="159.6" x2="303.5" y2="159.6" stroke="#231f20" stroke-width="2.8"/><text x="276.0" y="176.4" text-anchor="end">0.05</text><line x1="287.5" y1="243.9" x2="303.5" y2="243.9" stroke="#231f20" stroke-width="2.8"/><text x="276.0" y="260.7" text-anchor="end">0</text><line x1="287.5" y1="328.2" x2="303.5" y2="328.2" stroke="#231f20" stroke-width="2.8"/><text x="276.0" y="345.0" text-anchor="end">−0.05</text><line x1="287.5" y1="412.5" x2="303.5" y2="412.5" stroke="#231f20" stroke-width="2.8"/><text x="276.0" y="429.3" text-anchor="end">−0.10</text><line x1="287.5" y1="496.8" x2="303.5" y2="496.8" stroke="#231f20" stroke-width="2.8"/><text x="276.0" y="513.6" text-anchor="end">−0.15</text><line x1="335.5" y1="540.3" x2="335.5" y2="524.3" stroke="#231f20" stroke-width="2.8"/><text x="335.5" y="597.4" text-anchor="middle">0</text><line x1="428.9" y1="540.3" x2="428.9" y2="524.3" stroke="#231f20" stroke-width="2.8"/><text x="428.9" y="597.4" text-anchor="middle">0.2</text><line x1="522.4" y1="540.3" x2="522.4" y2="524.3" stroke="#231f20" stroke-width="2.8"/><text x="522.4" y="597.4" text-anchor="middle">0.4</text><line x1="615.8" y1="540.3" x2="615.8" y2="524.3" stroke="#231f20" stroke-width="2.8"/><text x="615.8" y="597.4" text-anchor="middle">0.6</text><line x1="709.2" y1="540.3" x2="709.2" y2="524.3" stroke="#231f20" stroke-width="2.8"/><text x="709.2" y="597.4" text-anchor="middle">0.8</text><line x1="802.6" y1="540.3" x2="802.6" y2="524.3" stroke="#231f20" stroke-width="2.8"/><text x="802.6" y="597.4" text-anchor="middle">1.0</text><line x1="896.1" y1="540.3" x2="896.1" y2="524.3" stroke="#231f20" stroke-width="2.8"/><text x="896.1" y="597.4" text-anchor="middle">1.2</text><line x1="989.5" y1="540.3" x2="989.5" y2="524.3" stroke="#231f20" stroke-width="2.8"/><text x="989.5" y="597.4" text-anchor="middle">1.4</text><text x="661.5" y="667.9" text-anchor="middle">Potential/V</text><text transform="translate(121.7,273.7) rotate(-90)" text-anchor="middle">Current/mA</text><text x="312.3" y="67.9" style="font-size:54.5px">(a)</text><line x1="627.5" y1="313.2" x2="720.0" y2="313.2" stroke="#6b6c70" stroke-width="4.8"/><text x="722.8" y="328.2" style="letter-spacing:-0.15px">5.9×10<tspan font-size="33" dy="-18">−6</tspan><tspan dy="18"> cm</tspan><tspan font-size="33" dy="-18">2</tspan></text><line x1="627.5" y1="369.7" x2="720.0" y2="369.7" stroke="#d84a64" stroke-width="4.5"/><text x="722.8" y="384.7" style="letter-spacing:-0.15px">8.3×10<tspan font-size="33" dy="-18">−6</tspan><tspan dy="18"> cm</tspan><tspan font-size="33" dy="-18">2</tspan></text><line x1="627.5" y1="426.2" x2="720.0" y2="426.2" stroke="#66b883" stroke-width="4.5"/><text x="722.8" y="441.2" style="letter-spacing:-0.15px">1.7×10<tspan font-size="33" dy="-18">−5</tspan><tspan dy="18"> cm</tspan><tspan font-size="33" dy="-18">2</tspan></text><line x1="627.5" y1="482.7" x2="720.0" y2="482.7" stroke="#5f95cf" stroke-width="4.0"/><text x="722.8" y="497.7" style="letter-spacing:-0.15px">3.3×10<tspan font-size="33" dy="-18">−5</tspan><tspan dy="18"> cm</tspan><tspan font-size="33" dy="-18">2</tspan></text></g>
<g><path d="M1355.1,270.0 1355.1,267.7 1355.1,264.8 1355.2,261.8 1355.4,258.8 1355.9,255.8 1357.1,253.2 1359.0,251.0 1361.5,249.3 1364.2,248.0 1367.0,247.0 1369.9,246.2 1372.8,245.6 1375.8,245.0 1378.7,244.6 1381.7,244.1 1384.7,243.8 1387.7,243.4 1390.6,243.1 1393.6,242.8 1396.6,242.6 1399.6,242.4 1402.6,242.3 1405.6,242.1 1408.6,242.0 1411.6,241.9 1414.6,241.8 1417.6,241.7 1420.6,241.6 1423.6,241.5 1426.6,241.4 1429.6,241.3 1432.6,241.2 1435.6,241.1 1438.6,241.0 1441.6,241.0 1444.6,240.9 1447.6,240.8 1450.6,240.8 1453.6,240.7 1456.6,240.7 1459.6,240.6 1462.6,240.6 1465.6,240.6 1468.6,240.5 1471.6,240.5 1474.6,240.5 1477.6,240.5 1480.6,240.5 1483.6,240.5 1486.6,240.5 1489.6,240.5 1492.6,240.5 1495.6,240.5 1498.6,240.5 1501.6,240.5 1504.6,240.5 1507.6,240.5 1510.6,240.4 1513.6,240.4 1516.6,240.4 1519.6,240.4 1522.6,240.3 1525.6,240.3 1528.6,240.2 1531.6,240.2 1534.6,240.1 1537.6,240.1 1540.6,240.0 1543.6,239.9 1546.6,239.8 1549.6,239.7 1552.6,239.6 1555.6,239.6 1558.6,239.5 1561.6,239.4 1564.6,239.3 1567.6,239.1 1570.6,239.0 1573.6,238.9 1576.6,238.8 1579.6,238.7 1582.6,238.6 1585.6,238.5 1588.6,238.4 1591.6,238.3 1594.6,238.2 1597.5,238.1 1600.5,238.0 1603.5,237.9 1606.5,237.8 1609.5,237.8 1612.5,237.7 1615.5,237.7 1618.5,237.7 1621.5,237.7 1624.5,237.7 1627.5,237.6 1630.5,237.6 1633.5,237.6 1636.5,237.6 1639.5,237.6 1642.5,237.6 1645.5,237.6 1648.5,237.5 1651.5,237.5 1654.5,237.4 1657.5,237.4 1660.5,237.3 1663.5,237.2 1666.5,237.1 1669.5,237.0 1672.5,236.8 1675.5,236.6 1678.5,236.4 1681.5,236.1 1684.5,235.8 1687.5,235.4 1690.4,234.9 1693.4,234.4 1696.3,233.8 1699.2,233.1 1702.1,232.4 1705.0,231.5 1707.9,230.6 1710.7,229.6 1713.5,228.4 1716.2,227.1 1718.8,225.7 1721.3,224.0 1723.6,222.2 1725.8,220.1 1727.8,217.9 1729.8,215.6 1731.8,213.4 1733.8,211.2 1736.0,209.1 1738.2,207.2 1740.5,205.2 1742.9,203.3 1745.2,201.4 1747.5,199.5 1749.8,197.6 1752.1,195.7 1754.3,193.6 1756.5,191.6 1758.8,189.6 1761.1,187.7 1763.5,186.0 1766.1,184.4 1768.8,183.1 1771.5,181.9 1774.3,180.9 1777.2,179.9 1780.0,179.0 1782.9,178.1 1785.8,177.3 1788.7,176.5 1791.6,175.7 1794.5,175.0 1797.4,174.3 1800.3,173.7 1803.3,173.2 1806.3,172.7 1809.2,172.3 1812.2,172.0 1815.2,171.7 1818.2,171.5 1821.2,171.3 1824.2,171.3 1827.2,171.2 1830.2,171.2 1833.2,171.3 1836.2,171.4 1839.2,171.7 1842.2,172.0 1845.1,172.4 1848.1,172.7 1851.1,173.1 1854.1,173.4 1857.1,173.7 1860.0,173.9 1863.0,174.2 1866.0,174.4 1869.0,174.6 1872.0,174.8 1875.0,174.9 1878.0,175.0 1881.0,175.0 1884.0,174.9 1887.0,174.8 1890.0,174.6 1893.0,174.3 1896.0,174.0 1899.0,173.7 1901.9,173.3 1904.9,172.9 1907.9,172.4 1910.8,171.9 1913.8,171.4 1916.7,170.6 1919.5,169.7 1922.3,168.7 1925.1,167.5 1927.8,166.3 1930.5,165.0 1933.2,163.6 1935.8,162.2 1938.4,160.7 1941.0,159.1 1943.6,157.6 1946.1,155.9 1948.5,154.2 1950.9,152.4 1953.3,150.6 1955.7,148.8 1958.1,146.9 1960.5,145.1 1962.9,143.3 1965.3,141.5 1967.6,139.7 1970.0,137.8 1972.4,136.0 1974.8,134.2 1977.1,132.3 1979.5,130.4 1981.8,128.6 1984.2,126.7 1986.5,124.9 1988.9,123.1 1991.3,121.3 1993.6,119.3 1995.8,117.2 1997.7,114.9 1999.4,112.5 2001.0,109.9 2002.5,107.3 2003.9,104.7 2005.4,102.1 2006.9,99.5 2008.5,97.1 2010.1,96.3 2010.8,98.2 2010.7,101.1 2010.4,104.1 2009.9,107.1 2009.5,110.0 2009.0,113.0 2008.4,115.9 2007.9,118.9 2007.4,121.9 2006.9,124.8 2006.4,127.8 2006.0,130.7 2005.5,133.7 2005.1,136.7 2004.6,139.6 2004.1,142.6 2003.7,145.6 2003.2,148.5 2002.6,151.5 2002.1,154.4 2001.5,157.4 2000.9,160.3 2000.3,163.2 1999.6,166.2 1998.9,169.1 1998.2,172.0 1997.4,174.9 1996.6,177.8 1995.8,180.7 1995.0,183.6 1994.1,186.4 1993.2,189.3 1992.2,192.1 1991.1,194.9 1990.0,197.7 1988.8,200.5 1987.6,203.2 1986.4,205.9 1985.0,208.6 1983.6,211.3 1982.1,213.9 1980.5,216.4 1978.8,218.8 1976.9,221.1 1974.8,223.3 1972.7,225.4 1970.4,227.4 1968.1,229.3 1965.7,231.0 1963.2,232.7 1960.6,234.2 1957.9,235.6 1955.2,236.9 1952.4,238.0 1949.6,239.0 1946.7,239.8 1943.8,240.6 1940.9,241.2 1937.9,241.7 1935.0,242.1 1932.0,242.4 1929.0,242.5 1926.0,242.5 1923.0,242.4 1920.0,242.4 1917.0,242.5 1914.0,242.5 1911.0,242.7 1908.0,242.8 1905.0,243.0 1902.0,243.1 1899.0,243.2 1896.0,243.4 1893.0,243.6 1890.0,243.7 1887.0,243.9 1884.0,244.0 1881.0,244.2 1878.0,244.4 1875.0,244.5 1872.0,244.7 1869.0,244.9 1866.0,245.0 1863.1,245.2 1860.1,245.4 1857.1,245.5 1854.1,245.7 1851.1,245.9 1848.1,246.0 1845.1,246.2 1842.1,246.3 1839.1,246.5 1836.1,246.7 1833.1,246.8 1830.1,247.0 1827.1,247.1 1824.1,247.3 1821.1,247.4 1818.1,247.6 1815.1,247.7 1812.1,247.9 1809.1,248.0 1806.1,248.1 1803.1,248.2 1800.1,248.4 1797.1,248.5 1794.1,248.6 1791.1,248.7 1788.1,248.8 1785.1,248.9 1782.1,249.0 1779.1,249.2 1776.2,249.3 1773.2,249.4 1770.2,249.5 1767.2,249.6 1764.2,249.7 1761.2,249.8 1758.2,250.0 1755.2,250.1 1752.2,250.2 1749.2,250.4 1746.2,250.5 1743.2,250.7 1740.2,250.8 1737.2,251.0 1734.2,251.2 1731.2,251.4 1728.2,251.6 1725.2,251.8 1722.2,252.0 1719.2,252.3 1716.2,252.6 1713.3,252.8 1710.3,253.1 1707.3,253.3 1704.3,253.6 1701.3,253.9 1698.3,254.2 1695.3,254.5 1692.4,254.8 1689.4,255.2 1686.4,255.7 1683.5,256.1 1680.5,256.7 1677.6,257.3 1674.6,258.0 1671.7,258.7 1668.9,259.6 1666.0,260.4 1663.2,261.4 1660.3,262.4 1657.5,263.5 1654.8,264.7 1652.0,265.9 1649.3,267.2 1646.7,268.6 1644.1,270.1 1641.5,271.6 1639.0,273.3 1636.6,275.0 1634.2,276.9 1631.9,278.8 1629.7,280.9 1627.6,283.0 1625.7,285.3 1623.8,287.6 1622.1,290.1 1620.5,292.6 1619.0,295.2 1617.6,297.9 1616.3,300.6 1615.0,303.3 1613.8,306.0 1612.6,308.8 1611.4,311.5 1610.4,314.3 1609.4,317.2 1608.4,320.0 1607.5,322.9 1606.6,325.7 1605.7,328.6 1604.9,331.5 1604.0,334.4 1603.3,337.3 1602.5,340.2 1601.8,343.1 1601.1,346.0 1600.4,348.9 1599.7,351.8 1599.0,354.8 1598.3,357.7 1597.6,360.6 1596.9,363.5 1596.1,366.4 1595.4,369.3 1594.7,372.2 1594.0,375.1 1593.2,378.0 1592.5,381.0 1591.8,383.9 1591.1,386.8 1590.3,389.7 1589.6,392.6 1588.9,395.5 1588.1,398.4 1587.4,401.3 1586.7,404.2 1585.9,407.1 1585.2,410.1 1584.5,413.0 1583.8,415.9 1583.1,418.8 1582.4,421.7 1581.7,424.6 1581.0,427.6 1580.4,430.5 1579.7,433.4 1579.0,436.3 1578.2,439.2 1577.5,442.1 1576.6,445.0 1575.8,447.9 1574.8,450.7 1573.8,453.5 1572.5,456.2 1570.7,458.5 1568.3,459.7 1565.8,458.9 1563.9,456.8 1562.5,454.2 1561.4,451.4 1560.4,448.5 1559.5,445.7 1558.7,442.8 1557.9,439.9 1557.2,437.0 1556.6,434.0 1556.0,431.1 1555.3,428.2 1554.7,425.2 1554.0,422.3 1553.3,419.4 1552.6,416.5 1551.8,413.6 1551.0,410.7 1550.2,407.8 1549.3,404.9 1548.5,402.1 1547.6,399.2 1546.7,396.4 1545.8,393.5 1544.9,390.6 1544.0,387.8 1543.1,384.9 1542.2,382.0 1541.2,379.2 1540.3,376.3 1539.4,373.5 1538.5,370.6 1537.6,367.8 1536.7,364.9 1535.8,362.0 1535.0,359.2 1534.1,356.3 1533.3,353.4 1532.4,350.5 1531.6,347.6 1530.8,344.7 1530.0,341.9 1529.1,339.0 1528.3,336.1 1527.4,333.2 1526.6,330.4 1525.7,327.5 1524.9,324.6 1524.0,321.7 1523.1,318.8 1522.3,316.0 1521.3,313.1 1520.4,310.3 1519.3,307.5 1518.2,304.7 1517.0,301.9 1515.8,299.2 1514.4,296.5 1513.1,293.9 1511.6,291.2 1510.1,288.6 1508.6,286.1 1507.1,283.5 1505.6,280.9 1504.0,278.3 1502.2,275.9 1500.3,273.6 1498.1,271.6 1495.7,269.8 1493.0,268.4 1490.3,267.2 1487.5,266.2 1484.6,265.3 1481.7,264.6 1478.8,263.9 1475.9,263.2 1472.9,262.6 1470.0,262.1 1467.0,261.6 1464.0,261.3 1461.0,260.9 1458.1,260.6 1455.1,260.4 1452.1,260.2 1449.1,260.0 1446.1,259.9 1443.1,259.7 1440.1,259.6 1437.1,259.4 1434.1,259.3 1431.1,259.2 1428.1,259.2 1425.1,259.1 1422.1,259.1 1419.1,259.2 1416.1,259.2 1413.1,259.3 1410.1,259.4 1407.1,259.6 1404.1,259.7 1401.1,259.9 1398.1,260.1 1395.1,260.4 1392.2,260.7 1389.2,260.9 1386.2,261.3 1383.2,261.6 1380.2,262.1 1377.3,262.5 1374.3,263.1 1371.4,263.7 1368.5,264.5 1365.6,265.3 1362.8,266.3 1359.9,267.2 1357.5,268.1 1356.9,268.3" fill="none" stroke="#5a5b5f" stroke-width="3.5" stroke-linejoin="round" stroke-linecap="round"/><path d="M1355.1,268.3 1355.1,266.0 1355.2,263.1 1355.3,260.1 1355.6,257.1 1356.5,254.3 1358.1,251.9 1360.4,250.0 1363.0,248.5 1365.8,247.4 1368.6,246.6 1371.6,245.8 1374.5,245.3 1377.4,244.8 1380.4,244.3 1383.4,243.9 1386.4,243.6 1389.4,243.2 1392.3,242.9 1395.3,242.7 1398.3,242.5 1401.3,242.3 1404.3,242.2 1407.3,242.1 1410.3,242.0 1413.3,241.9 1416.3,241.8 1419.3,241.7 1422.3,241.5 1425.3,241.4 1428.3,241.3 1431.3,241.2 1434.3,241.1 1437.3,241.1 1440.3,241.0 1443.3,240.9 1446.3,240.8 1449.3,240.8 1452.3,240.7 1455.3,240.7 1458.3,240.6 1461.3,240.6 1464.3,240.6 1467.3,240.6 1470.3,240.5 1473.3,240.5 1476.3,240.5 1479.3,240.5 1482.3,240.5 1485.3,240.5 1488.3,240.5 1491.3,240.5 1494.3,240.5 1497.3,240.5 1500.3,240.5 1503.3,240.5 1506.3,240.5 1509.3,240.4 1512.3,240.4 1515.3,240.4 1518.3,240.4 1521.3,240.4 1524.3,240.3 1527.3,240.3 1530.3,240.2 1533.3,240.2 1536.3,240.1 1539.3,240.0 1542.3,239.9 1545.3,239.9 1548.3,239.8 1551.3,239.7 1554.3,239.6 1557.3,239.5 1560.3,239.4 1563.3,239.3 1566.3,239.2 1569.3,239.1 1572.3,239.0 1575.3,238.9 1578.3,238.8 1581.3,238.7 1584.3,238.5 1587.3,238.4 1590.3,238.3 1593.3,238.2 1596.3,238.1 1599.3,238.0 1602.2,237.9 1605.2,237.9 1608.2,237.8 1611.2,237.8 1614.2,237.7 1617.2,237.7 1620.2,237.7 1623.2,237.7 1626.2,237.7 1629.2,237.6 1632.2,237.6 1635.2,237.6 1638.2,237.6 1641.2,237.6 1644.2,237.6 1647.2,237.6 1650.2,237.5 1653.2,237.5 1656.2,237.4 1659.2,237.3 1662.2,237.3 1665.2,237.2 1668.2,237.0 1671.2,236.9 1674.2,236.7 1677.2,236.5 1680.2,236.2 1683.2,235.9 1686.2,235.6 1689.1,235.1 1692.1,234.6 1695.0,234.0 1698.0,233.4 1700.9,232.7 1703.8,231.9 1706.7,231.0 1709.5,230.1 1712.3,228.9 1715.0,227.7 1717.7,226.3 1720.2,224.8 1722.7,223.0 1724.9,221.1 1727.0,218.9 1729.0,216.7 1731.0,214.4 1733.0,212.2 1735.0,210.0 1737.1,207.9 1739.2,205.7 1741.3,203.6 1743.4,201.4 1745.5,199.3 1747.7,197.2 1749.9,195.1 1752.1,193.1 1754.3,191.1 1756.5,189.1 1758.8,187.1 1761.1,185.3 1763.6,183.5 1766.1,181.8 1768.6,180.3 1771.2,178.8 1773.9,177.4 1776.6,176.0 1779.3,174.8 1782.1,173.6 1784.9,172.6 1787.7,171.6 1790.6,170.8 1793.5,170.0 1796.4,169.4 1799.4,168.8 1802.3,168.3 1805.3,167.8 1808.2,167.4 1811.2,167.1 1814.2,166.8 1817.2,166.6 1820.2,166.4 1823.2,166.3 1826.2,166.2 1829.2,166.2 1832.2,166.3 1835.2,166.4 1838.2,166.6 1841.2,166.9 1844.1,167.2 1847.1,167.6 1850.1,168.0 1853.1,168.3 1856.1,168.6 1859.1,168.9 1862.0,169.1 1865.0,169.3 1868.0,169.5 1871.0,169.7 1874.0,169.9 1877.0,170.0 1880.0,170.0 1883.0,170.0 1886.0,169.9 1889.0,169.7 1892.0,169.5 1895.0,169.3 1898.0,169.0 1901.0,168.6 1903.9,168.2 1906.9,167.6 1909.8,166.9 1912.7,166.1 1915.5,165.1 1918.3,164.0 1921.0,162.7 1923.7,161.4 1926.4,160.1 1929.0,158.7 1931.7,157.2 1934.2,155.7 1936.8,154.1 1939.3,152.4 1941.7,150.7 1944.1,148.8 1946.4,146.9 1948.6,144.9 1950.8,142.9 1953.0,140.8 1955.1,138.7 1957.2,136.6 1959.3,134.4 1961.4,132.3 1963.5,130.1 1965.5,127.8 1967.4,125.6 1969.4,123.3 1971.3,121.0 1973.2,118.7 1975.1,116.3 1977.0,114.0 1978.8,111.7 1980.7,109.3 1982.7,107.0 1984.6,104.8 1986.6,102.5 1988.7,100.4 1990.8,98.2 1992.8,96.0 1994.8,93.7 1996.6,91.4 1998.4,88.9 1999.9,86.4 2001.3,83.7 2002.7,81.0 2004.0,78.3 2005.3,75.6 2006.6,72.9 2008.0,70.3 2009.6,68.6 2010.8,69.6 2011.0,72.3 2010.9,75.3 2010.6,78.3 2010.3,81.3 2010.0,84.3 2009.6,87.2 2009.2,90.2 2008.8,93.2 2008.4,96.2 2008.0,99.1 2007.6,102.1 2007.3,105.1 2006.9,108.1 2006.6,111.0 2006.2,114.0 2005.8,117.0 2005.4,120.0 2005.0,122.9 2004.6,125.9 2004.2,128.9 2003.7,131.9 2003.3,134.8 2002.8,137.8 2002.3,140.7 2001.8,143.7 2001.2,146.6 2000.6,149.6 2000.1,152.5 1999.5,155.5 1998.9,158.4 1998.3,161.3 1997.6,164.3 1997.0,167.2 1996.3,170.1 1995.6,173.0 1994.8,175.9 1994.0,178.8 1993.2,181.7 1992.3,184.6 1991.4,187.4 1990.4,190.3 1989.5,193.1 1988.5,196.0 1987.4,198.8 1986.2,201.5 1985.0,204.2 1983.6,206.9 1982.0,209.5 1980.3,211.9 1978.5,214.3 1976.6,216.6 1974.5,218.8 1972.4,220.9 1970.2,223.0 1968.0,225.0 1965.6,226.8 1963.2,228.6 1960.7,230.3 1958.2,231.8 1955.5,233.3 1952.8,234.5 1950.1,235.7 1947.3,236.8 1944.4,237.7 1941.5,238.6 1938.6,239.3 1935.7,239.9 1932.7,240.4 1929.8,240.8 1926.8,241.0 1923.8,241.3 1920.8,241.5 1917.8,241.8 1914.8,242.0 1911.8,242.3 1908.8,242.5 1905.8,242.8 1902.9,243.0 1899.9,243.2 1896.9,243.4 1893.9,243.6 1890.9,243.8 1887.9,244.0 1884.9,244.1 1881.9,244.3 1878.9,244.5 1875.9,244.7 1872.9,244.8 1869.9,245.0 1866.9,245.1 1863.9,245.3 1860.9,245.5 1857.9,245.6 1854.9,245.8 1851.9,245.9 1848.9,246.1 1845.9,246.2 1843.0,246.4 1840.0,246.5 1837.0,246.7 1834.0,246.8 1831.0,247.0 1828.0,247.1 1825.0,247.3 1822.0,247.4 1819.0,247.5 1816.0,247.7 1813.0,247.8 1810.0,247.9 1807.0,248.0 1804.0,248.1 1801.0,248.2 1798.0,248.3 1795.0,248.4 1792.0,248.5 1789.0,248.5 1786.0,248.6 1783.0,248.7 1780.0,248.7 1777.0,248.8 1774.0,248.9 1771.0,248.9 1768.0,249.0 1765.0,249.1 1762.0,249.2 1759.0,249.3 1756.0,249.3 1753.0,249.4 1750.0,249.6 1747.0,249.7 1744.0,249.8 1741.0,249.9 1738.0,250.1 1735.0,250.3 1732.0,250.5 1729.0,250.7 1726.1,250.9 1723.1,251.2 1720.1,251.5 1717.1,251.8 1714.1,252.1 1711.1,252.5 1708.2,252.8 1705.2,253.2 1702.2,253.6 1699.2,254.1 1696.3,254.5 1693.3,255.0 1690.4,255.5 1687.4,256.1 1684.5,256.7 1681.6,257.4 1678.6,258.1 1675.7,258.8 1672.9,259.7 1670.0,260.5 1667.1,261.4 1664.2,262.3 1661.4,263.3 1658.6,264.3 1655.8,265.3 1653.0,266.4 1650.3,267.7 1647.6,269.0 1644.9,270.4 1642.4,271.9 1639.9,273.6 1637.5,275.5 1635.2,277.4 1633.1,279.5 1631.0,281.7 1629.1,284.0 1627.2,286.4 1625.5,288.8 1623.9,291.3 1622.3,293.9 1620.9,296.5 1619.7,299.2 1618.5,302.0 1617.5,304.8 1616.6,307.7 1615.7,310.6 1614.8,313.4 1614.0,316.3 1613.1,319.2 1612.2,322.0 1611.3,324.9 1610.4,327.8 1609.5,330.6 1608.6,333.5 1607.8,336.4 1607.0,339.3 1606.2,342.2 1605.4,345.0 1604.6,347.9 1603.8,350.8 1603.0,353.7 1602.3,356.6 1601.5,359.5 1600.8,362.5 1600.1,365.4 1599.4,368.3 1598.7,371.2 1597.9,374.1 1597.2,377.0 1596.5,379.9 1595.8,382.8 1595.1,385.8 1594.3,388.7 1593.6,391.6 1592.9,394.5 1592.2,397.4 1591.4,400.3 1590.7,403.2 1590.0,406.1 1589.2,409.0 1588.5,412.0 1587.8,414.9 1587.0,417.8 1586.3,420.7 1585.5,423.6 1584.8,426.5 1584.1,429.4 1583.4,432.3 1582.7,435.2 1582.0,438.2 1581.4,441.1 1580.8,444.0 1580.2,447.0 1579.6,449.9 1579.0,452.9 1578.4,455.8 1577.7,458.7 1576.9,461.6 1576.1,464.5 1575.1,467.3 1574.1,470.2 1572.9,472.9 1571.3,475.4 1569.1,477.0 1566.5,476.8 1564.4,475.1 1562.9,472.5 1561.7,469.8 1560.7,466.9 1559.8,464.1 1559.0,461.2 1558.2,458.3 1557.5,455.4 1556.9,452.5 1556.4,449.5 1555.8,446.6 1555.2,443.6 1554.6,440.7 1554.0,437.7 1553.3,434.8 1552.5,431.9 1551.7,429.0 1550.8,426.2 1550.0,423.3 1549.1,420.4 1548.2,417.6 1547.4,414.7 1546.5,411.8 1545.6,408.9 1544.8,406.1 1544.0,403.2 1543.1,400.3 1542.3,397.4 1541.4,394.5 1540.6,391.7 1539.8,388.8 1538.9,385.9 1538.1,383.0 1537.2,380.1 1536.4,377.2 1535.6,374.4 1534.7,371.5 1533.9,368.6 1533.0,365.7 1532.2,362.8 1531.4,360.0 1530.5,357.1 1529.7,354.2 1528.8,351.3 1528.0,348.4 1527.2,345.6 1526.4,342.7 1525.6,339.8 1524.7,336.9 1523.9,334.0 1523.1,331.1 1522.2,328.3 1521.4,325.4 1520.5,322.5 1519.6,319.7 1518.7,316.8 1517.8,313.9 1516.9,311.1 1515.9,308.2 1514.9,305.4 1513.9,302.6 1512.8,299.8 1511.7,297.0 1510.5,294.3 1509.2,291.5 1508.0,288.8 1506.6,286.1 1505.2,283.5 1503.6,280.9 1501.9,278.5 1500.0,276.1 1498.0,274.0 1495.7,272.0 1493.4,270.1 1491.0,268.3 1488.5,266.7 1485.9,265.2 1483.2,263.9 1480.4,262.9 1477.4,262.4 1474.4,262.1 1471.5,261.7 1468.5,261.3 1465.5,260.9 1462.6,260.5 1459.6,260.1 1456.6,259.8 1453.6,259.5 1450.6,259.1 1447.6,258.9 1444.7,258.6 1441.7,258.4 1438.7,258.2 1435.7,258.0 1432.7,257.9 1429.7,257.8 1426.7,257.7 1423.7,257.6 1420.7,257.6 1417.7,257.6 1414.7,257.6 1411.7,257.7 1408.7,257.8 1405.7,257.9 1402.7,258.1 1399.7,258.3 1396.7,258.6 1393.7,258.9 1390.7,259.2 1387.8,259.6 1384.8,260.0 1381.8,260.4 1378.9,260.9 1375.9,261.4 1373.0,262.1 1370.1,262.8 1367.2,263.7 1364.4,264.6 1361.5,265.6 1358.8,266.7 1356.7,267.5" fill="none" stroke="#d84a64" stroke-width="3.5" stroke-linejoin="round" stroke-linecap="round"/><path d="M1355.1,271.1 1355.1,268.8 1355.1,265.9 1355.1,262.9 1355.2,259.9 1355.4,256.9 1355.8,254.0 1356.8,251.2 1358.5,248.8 1360.8,246.9 1363.3,245.3 1366.0,244.0 1368.8,243.0 1371.7,242.2 1374.7,241.6 1377.6,241.2 1380.6,240.7 1383.6,240.4 1386.5,240.0 1389.5,239.7 1392.5,239.4 1395.5,239.2 1398.5,239.0 1401.5,238.8 1404.5,238.7 1407.5,238.6 1410.5,238.5 1413.5,238.3 1416.5,238.2 1419.5,238.1 1422.5,238.0 1425.5,237.9 1428.5,237.8 1431.5,237.7 1434.5,237.6 1437.5,237.6 1440.5,237.5 1443.5,237.4 1446.5,237.3 1449.5,237.3 1452.5,237.2 1455.5,237.2 1458.5,237.1 1461.5,237.1 1464.5,237.1 1467.5,237.0 1470.5,237.0 1473.5,237.0 1476.5,237.0 1479.5,237.0 1482.5,237.0 1485.5,237.0 1488.5,237.0 1491.5,237.0 1494.5,237.0 1497.5,237.0 1500.5,237.0 1503.5,237.0 1506.5,237.0 1509.5,236.9 1512.5,236.9 1515.5,236.9 1518.5,236.9 1521.5,236.8 1524.5,236.8 1527.5,236.8 1530.5,236.7 1533.5,236.7 1536.5,236.6 1539.5,236.5 1542.5,236.4 1545.5,236.4 1548.5,236.3 1551.5,236.2 1554.4,236.1 1557.4,236.0 1560.4,235.9 1563.4,235.8 1566.4,235.7 1569.4,235.6 1572.4,235.5 1575.4,235.3 1578.4,235.2 1581.4,235.1 1584.4,235.0 1587.4,234.9 1590.4,234.8 1593.4,234.7 1596.4,234.6 1599.4,234.5 1602.4,234.4 1605.4,234.4 1608.4,234.3 1611.4,234.3 1614.4,234.3 1617.4,234.3 1620.4,234.3 1623.4,234.3 1626.4,234.4 1629.4,234.4 1632.4,234.4 1635.4,234.4 1638.4,234.5 1641.4,234.5 1644.4,234.5 1647.4,234.5 1650.4,234.5 1653.4,234.5 1656.4,234.4 1659.4,234.4 1662.4,234.3 1665.4,234.2 1668.4,234.1 1671.4,234.0 1674.4,233.8 1677.4,233.6 1680.4,233.3 1683.4,233.0 1686.3,232.5 1689.3,232.0 1692.2,231.5 1695.2,230.8 1698.1,230.0 1700.9,229.2 1703.8,228.2 1706.6,227.2 1709.4,226.0 1712.1,224.8 1714.7,223.3 1717.3,221.8 1719.8,220.1 1722.1,218.2 1724.3,216.2 1726.3,213.9 1728.1,211.6 1729.9,209.2 1731.7,206.8 1733.5,204.4 1735.4,202.0 1737.3,199.8 1739.3,197.5 1741.2,195.2 1743.1,192.9 1745.1,190.6 1747.0,188.3 1749.0,186.1 1751.0,183.9 1753.1,181.6 1755.1,179.4 1757.2,177.3 1759.3,175.1 1761.5,173.1 1763.7,171.1 1766.0,169.2 1768.4,167.4 1770.8,165.6 1773.3,163.9 1775.8,162.3 1778.4,160.8 1781.1,159.3 1783.8,158.1 1786.6,156.9 1789.4,156.0 1792.3,155.1 1795.2,154.4 1798.1,153.8 1801.1,153.3 1804.1,152.9 1807.0,152.6 1810.0,152.3 1813.0,152.1 1816.0,151.9 1819.0,151.9 1822.0,151.9 1825.0,152.0 1828.0,152.1 1831.0,152.4 1834.0,152.7 1836.9,153.1 1839.9,153.7 1842.8,154.3 1845.7,155.0 1848.7,155.7 1851.6,156.4 1854.5,157.0 1857.5,157.5 1860.4,157.9 1863.4,158.4 1866.4,158.8 1869.3,159.2 1872.3,159.5 1875.3,159.8 1878.3,159.9 1881.3,160.0 1884.3,159.9 1887.3,159.7 1890.3,159.4 1893.3,159.0 1896.2,158.5 1899.2,158.0 1902.1,157.4 1905.1,156.8 1908.0,156.2 1910.9,155.5 1913.8,154.8 1916.7,154.0 1919.5,152.8 1922.1,151.4 1924.6,149.8 1927.1,148.1 1929.5,146.3 1931.9,144.4 1934.2,142.5 1936.4,140.5 1938.6,138.5 1940.8,136.5 1942.9,134.3 1945.0,132.2 1947.0,130.0 1949.0,127.7 1951.0,125.4 1952.9,123.1 1954.7,120.7 1956.5,118.4 1958.3,116.0 1960.1,113.5 1961.8,111.1 1963.5,108.6 1965.2,106.1 1966.9,103.6 1968.5,101.1 1970.0,98.5 1971.6,96.0 1973.1,93.4 1974.6,90.8 1976.1,88.2 1977.5,85.5 1979.0,82.9 1980.4,80.3 1981.8,77.6 1983.2,75.0 1984.6,72.3 1985.9,69.6 1987.2,66.9 1988.5,64.2 1989.7,61.5 1991.0,58.7 1992.2,56.0 1993.4,53.2 1994.6,50.5 1995.8,47.7 1996.9,45.0 1998.1,42.2 1999.3,39.4 2000.4,36.7 2001.5,33.9 2002.6,31.1 2003.6,28.3 2004.6,25.4 2005.5,22.6 2006.5,19.7 2007.5,16.9 2008.6,14.3 2009.9,13.4 2010.5,15.3 2010.5,18.2 2010.4,21.2 2010.2,24.2 2009.9,27.2 2009.7,30.2 2009.4,33.2 2009.1,36.2 2008.9,39.2 2008.6,42.2 2008.2,45.1 2007.9,48.1 2007.6,51.1 2007.3,54.1 2007.0,57.1 2006.6,60.0 2006.3,63.0 2006.0,66.0 2005.6,69.0 2005.3,72.0 2005.0,75.0 2004.6,77.9 2004.3,80.9 2004.0,83.9 2003.6,86.9 2003.2,89.9 2002.8,92.8 2002.4,95.8 2002.0,98.8 2001.6,101.7 2001.2,104.7 2000.8,107.7 2000.3,110.6 1999.8,113.6 1999.4,116.6 1998.9,119.5 1998.4,122.5 1997.9,125.5 1997.4,128.4 1996.9,131.4 1996.3,134.3 1995.8,137.3 1995.3,140.2 1994.7,143.2 1994.1,146.1 1993.5,149.0 1992.9,152.0 1992.2,154.9 1991.5,157.8 1990.8,160.7 1990.1,163.6 1989.3,166.5 1988.5,169.4 1987.7,172.3 1986.9,175.2 1986.1,178.1 1985.2,181.0 1984.2,183.8 1983.2,186.6 1982.1,189.4 1980.9,192.2 1979.7,194.9 1978.3,197.6 1977.0,200.3 1975.5,202.9 1974.0,205.5 1972.5,208.1 1970.8,210.6 1969.1,213.0 1967.3,215.4 1965.3,217.7 1963.3,219.9 1961.1,221.9 1958.8,223.8 1956.3,225.6 1953.8,227.2 1951.2,228.7 1948.6,230.1 1945.9,231.4 1943.1,232.6 1940.4,233.7 1937.5,234.8 1934.7,235.6 1931.8,236.4 1928.8,237.0 1925.9,237.6 1922.9,238.1 1920.0,238.7 1917.0,239.2 1914.1,239.7 1911.1,240.2 1908.2,240.7 1905.2,241.1 1902.2,241.5 1899.2,241.9 1896.3,242.3 1893.3,242.6 1890.3,242.9 1887.3,243.3 1884.3,243.6 1881.3,243.9 1878.4,244.1 1875.4,244.4 1872.4,244.6 1869.4,244.8 1866.4,245.0 1863.4,245.2 1860.4,245.4 1857.4,245.5 1854.4,245.7 1851.4,245.9 1848.4,246.0 1845.4,246.2 1842.4,246.3 1839.4,246.5 1836.4,246.6 1833.4,246.8 1830.4,246.9 1827.4,247.1 1824.5,247.2 1821.5,247.4 1818.5,247.6 1815.5,247.8 1812.5,247.9 1809.5,248.1 1806.5,248.2 1803.5,248.4 1800.5,248.5 1797.5,248.7 1794.5,248.8 1791.5,248.9 1788.5,249.1 1785.5,249.2 1782.5,249.4 1779.5,249.5 1776.5,249.6 1773.5,249.8 1770.5,249.9 1767.5,250.1 1764.5,250.2 1761.5,250.4 1758.5,250.6 1755.5,250.7 1752.5,250.9 1749.6,251.1 1746.6,251.2 1743.6,251.4 1740.6,251.6 1737.6,251.9 1734.6,252.1 1731.6,252.3 1728.6,252.6 1725.6,252.9 1722.6,253.2 1719.7,253.5 1716.7,253.9 1713.7,254.3 1710.7,254.7 1707.8,255.2 1704.8,255.6 1701.9,256.2 1698.9,256.7 1696.0,257.3 1693.0,257.9 1690.1,258.6 1687.2,259.2 1684.3,259.9 1681.3,260.6 1678.4,261.3 1675.5,262.0 1672.6,262.8 1669.7,263.6 1666.9,264.5 1664.1,265.6 1661.3,266.7 1658.5,267.9 1655.8,269.2 1653.2,270.6 1650.5,272.0 1647.9,273.5 1645.4,275.1 1642.9,276.8 1640.5,278.6 1638.2,280.5 1636.0,282.5 1634.0,284.7 1632.1,287.1 1630.4,289.5 1628.8,292.1 1627.3,294.7 1626.0,297.4 1624.7,300.1 1623.4,302.8 1622.3,305.6 1621.1,308.3 1620.0,311.1 1618.9,313.9 1617.9,316.7 1616.9,319.6 1616.1,322.4 1615.2,325.3 1614.4,328.2 1613.7,331.1 1612.9,334.0 1612.2,336.9 1611.5,339.9 1610.8,342.8 1610.1,345.7 1609.4,348.6 1608.7,351.5 1608.0,354.4 1607.3,357.4 1606.7,360.3 1606.1,363.2 1605.5,366.2 1604.9,369.1 1604.3,372.1 1603.7,375.0 1603.1,377.9 1602.5,380.9 1601.9,383.8 1601.4,386.8 1600.8,389.7 1600.2,392.7 1599.7,395.6 1599.1,398.6 1598.6,401.5 1598.1,404.5 1597.5,407.4 1597.0,410.4 1596.4,413.3 1595.9,416.3 1595.3,419.2 1594.8,422.2 1594.2,425.1 1593.7,428.1 1593.1,431.0 1592.6,434.0 1592.0,436.9 1591.5,439.9 1590.9,442.8 1590.4,445.7 1589.8,448.7 1589.2,451.6 1588.7,454.6 1588.1,457.5 1587.6,460.5 1587.1,463.4 1586.5,466.4 1586.0,469.3 1585.5,472.3 1584.9,475.3 1584.4,478.2 1583.9,481.2 1583.3,484.1 1582.7,487.1 1582.2,490.0 1581.6,492.9 1580.9,495.9 1580.3,498.8 1579.6,501.7 1579.0,504.7 1578.3,507.6 1577.5,510.5 1576.8,513.4 1575.9,516.2 1575.0,519.1 1573.9,521.9 1572.7,524.6 1571.0,527.0 1568.6,528.4 1566.1,527.9 1564.1,525.9 1562.7,523.3 1561.5,520.5 1560.6,517.7 1559.7,514.8 1558.8,511.9 1558.1,509.0 1557.4,506.1 1556.7,503.2 1556.1,500.2 1555.5,497.3 1554.8,494.4 1554.1,491.5 1553.5,488.5 1552.8,485.6 1552.1,482.7 1551.4,479.8 1550.7,476.9 1550.0,474.0 1549.3,471.0 1548.5,468.1 1547.8,465.2 1547.2,462.3 1546.5,459.4 1545.8,456.4 1545.1,453.5 1544.4,450.6 1543.7,447.7 1543.0,444.8 1542.3,441.8 1541.6,438.9 1541.0,436.0 1540.3,433.1 1539.6,430.2 1538.9,427.2 1538.3,424.3 1537.6,421.4 1536.9,418.5 1536.3,415.5 1535.6,412.6 1535.0,409.7 1534.3,406.7 1533.7,403.8 1533.1,400.9 1532.4,397.9 1531.8,395.0 1531.2,392.1 1530.5,389.2 1529.9,386.2 1529.2,383.3 1528.6,380.4 1528.0,377.4 1527.3,374.5 1526.7,371.6 1526.1,368.6 1525.5,365.7 1524.8,362.8 1524.2,359.8 1523.6,356.9 1522.9,354.0 1522.3,351.0 1521.6,348.1 1521.0,345.2 1520.3,342.3 1519.6,339.3 1519.0,336.4 1518.3,333.5 1517.7,330.6 1517.0,327.6 1516.3,324.7 1515.7,321.8 1515.0,318.9 1514.2,316.0 1513.4,313.1 1512.6,310.2 1511.7,307.3 1510.7,304.5 1509.7,301.6 1508.7,298.8 1507.7,296.0 1506.6,293.2 1505.4,290.4 1504.1,287.7 1502.7,285.1 1501.1,282.6 1499.3,280.2 1497.3,278.0 1495.1,275.9 1492.8,274.0 1490.4,272.2 1487.9,270.5 1485.4,268.9 1482.8,267.4 1480.0,266.2 1477.2,265.3 1474.3,264.6 1471.3,264.1 1468.4,263.7 1465.4,263.3 1462.4,263.0 1459.4,262.7 1456.4,262.4 1453.4,262.1 1450.4,261.9 1447.5,261.7 1444.5,261.5 1441.5,261.3 1438.5,261.2 1435.5,261.1 1432.5,261.0 1429.5,261.0 1426.5,260.9 1423.5,261.0 1420.5,261.1 1417.5,261.2 1414.5,261.3 1411.5,261.5 1408.5,261.6 1405.5,261.8 1402.5,262.0 1399.5,262.2 1396.5,262.5 1393.5,262.8 1390.6,263.1 1387.6,263.5 1384.6,264.0 1381.7,264.6 1378.8,265.3 1375.9,266.0 1373.0,266.9 1370.1,267.8 1367.3,268.8 1364.5,269.8 1361.6,270.8 1358.9,271.8 1356.7,272.6" fill="none" stroke="#62b680" stroke-width="3.5" stroke-linejoin="round" stroke-linecap="round"/><path d="M1355.1,268.7 1355.1,266.4 1355.1,263.5 1355.2,260.5 1355.4,257.5 1355.9,254.5 1357.0,251.8 1358.9,249.6 1361.3,247.8 1363.9,246.3 1366.6,245.2 1369.5,244.3 1372.4,243.6 1375.4,243.0 1378.3,242.6 1381.3,242.2 1384.3,241.8 1387.3,241.5 1390.2,241.1 1393.2,240.9 1396.2,240.6 1399.2,240.5 1402.2,240.3 1405.2,240.2 1408.2,240.0 1411.2,239.9 1414.2,239.8 1417.2,239.7 1420.2,239.6 1423.2,239.5 1426.2,239.4 1429.2,239.3 1432.2,239.2 1435.2,239.1 1438.2,239.0 1441.2,239.0 1444.2,238.9 1447.2,238.8 1450.2,238.8 1453.2,238.7 1456.2,238.7 1459.2,238.6 1462.2,238.6 1465.2,238.6 1468.2,238.5 1471.2,238.5 1474.2,238.5 1477.2,238.5 1480.2,238.5 1483.2,238.5 1486.2,238.5 1489.2,238.5 1492.2,238.5 1495.2,238.5 1498.2,238.5 1501.2,238.5 1504.2,238.5 1507.2,238.5 1510.2,238.4 1513.2,238.4 1516.2,238.4 1519.2,238.4 1522.2,238.3 1525.2,238.3 1528.2,238.3 1531.2,238.2 1534.2,238.1 1537.2,238.1 1540.2,238.0 1543.2,237.9 1546.2,237.8 1549.2,237.7 1552.2,237.7 1555.2,237.6 1558.2,237.5 1561.2,237.4 1564.2,237.3 1567.2,237.2 1570.2,237.0 1573.2,236.9 1576.2,236.8 1579.2,236.7 1582.2,236.6 1585.2,236.5 1588.2,236.4 1591.1,236.3 1594.1,236.2 1597.1,236.1 1600.1,236.0 1603.1,235.9 1606.1,235.9 1609.1,235.8 1612.1,235.8 1615.1,235.8 1618.1,235.7 1621.1,235.7 1624.1,235.7 1627.1,235.8 1630.1,235.8 1633.1,235.8 1636.1,235.8 1639.1,235.8 1642.1,235.8 1645.1,235.8 1648.1,235.8 1651.1,235.7 1654.1,235.7 1657.1,235.6 1660.1,235.6 1663.1,235.5 1666.1,235.4 1669.1,235.3 1672.1,235.1 1675.1,234.9 1678.1,234.7 1681.1,234.4 1684.1,234.1 1687.1,233.7 1690.0,233.2 1693.0,232.7 1695.9,232.0 1698.8,231.3 1701.7,230.6 1704.6,229.7 1707.4,228.8 1710.2,227.7 1713.0,226.5 1715.6,225.1 1718.2,223.6 1720.7,221.9 1723.0,220.0 1725.0,217.8 1727.0,215.5 1728.8,213.1 1730.5,210.7 1732.3,208.3 1734.2,206.0 1736.2,203.7 1738.3,201.6 1740.4,199.4 1742.5,197.3 1744.7,195.2 1746.8,193.1 1749.0,191.0 1751.1,188.9 1753.1,186.7 1755.2,184.5 1757.2,182.3 1759.3,180.2 1761.5,178.1 1763.7,176.1 1766.0,174.2 1768.4,172.4 1770.8,170.6 1773.3,168.9 1775.8,167.3 1778.4,165.8 1781.1,164.3 1783.8,163.1 1786.6,161.9 1789.4,160.9 1792.3,160.1 1795.2,159.4 1798.1,158.8 1801.1,158.3 1804.0,157.9 1807.0,157.6 1810.0,157.4 1813.0,157.3 1816.0,157.3 1819.0,157.4 1822.0,157.6 1825.0,157.9 1828.0,158.2 1830.9,158.6 1833.9,159.0 1836.9,159.5 1839.8,160.1 1842.7,160.7 1845.7,161.4 1848.6,162.1 1851.5,162.7 1854.5,163.3 1857.4,163.7 1860.4,164.1 1863.4,164.4 1866.4,164.6 1869.4,164.8 1872.4,164.9 1875.4,165.0 1878.4,165.0 1881.4,165.0 1884.4,164.9 1887.4,164.8 1890.4,164.6 1893.4,164.4 1896.3,164.1 1899.3,163.7 1902.3,163.3 1905.3,162.9 1908.2,162.4 1911.2,161.8 1914.1,161.1 1916.9,160.2 1919.7,159.0 1922.3,157.6 1924.9,156.0 1927.4,154.4 1929.8,152.6 1932.2,150.8 1934.5,148.9 1936.8,147.0 1939.1,145.0 1941.3,143.0 1943.5,140.9 1945.6,138.8 1947.7,136.6 1949.7,134.4 1951.7,132.2 1953.6,129.9 1955.5,127.6 1957.4,125.3 1959.3,122.9 1961.1,120.5 1962.9,118.1 1964.6,115.7 1966.4,113.2 1968.0,110.7 1969.7,108.2 1971.3,105.7 1972.9,103.1 1974.5,100.6 1976.0,98.0 1977.5,95.4 1979.0,92.8 1980.5,90.2 1982.0,87.6 1983.5,85.0 1985.0,82.4 1986.4,79.7 1987.7,77.1 1989.1,74.4 1990.4,71.7 1991.7,69.0 1993.1,66.3 1994.4,63.6 1995.7,60.9 1997.0,58.2 1998.3,55.5 1999.6,52.8 2001.0,50.2 2002.4,47.5 2003.7,44.8 2005.0,42.1 2006.3,39.4 2007.7,36.8 2009.3,34.8 2010.7,35.2 2011.1,37.7 2011.1,40.7 2011.0,43.7 2010.7,46.7 2010.5,49.7 2010.2,52.7 2009.9,55.7 2009.6,58.7 2009.2,61.6 2008.9,64.6 2008.6,67.6 2008.2,70.6 2007.9,73.6 2007.6,76.5 2007.3,79.5 2007.0,82.5 2006.7,85.5 2006.3,88.5 2006.0,91.5 2005.7,94.4 2005.3,97.4 2005.0,100.4 2004.6,103.4 2004.2,106.4 2003.8,109.3 2003.4,112.3 2003.0,115.3 2002.6,118.2 2002.1,121.2 2001.7,124.2 2001.2,127.1 2000.7,130.1 2000.2,133.1 1999.7,136.0 1999.2,139.0 1998.7,141.9 1998.2,144.9 1997.6,147.8 1997.1,150.8 1996.5,153.7 1995.9,156.7 1995.3,159.6 1994.6,162.5 1993.9,165.4 1993.2,168.4 1992.4,171.3 1991.6,174.1 1990.8,177.0 1990.0,179.9 1989.2,182.8 1988.3,185.7 1987.3,188.5 1986.3,191.3 1985.2,194.1 1984.0,196.9 1982.7,199.6 1981.3,202.2 1979.7,204.8 1978.1,207.3 1976.4,209.8 1974.6,212.2 1972.8,214.6 1970.9,216.8 1968.8,219.1 1966.7,221.2 1964.5,223.2 1962.2,225.1 1959.8,226.9 1957.3,228.5 1954.7,230.0 1952.0,231.3 1949.2,232.5 1946.4,233.6 1943.6,234.7 1940.8,235.6 1937.9,236.5 1935.0,237.3 1932.1,237.9 1929.1,238.5 1926.2,238.9 1923.2,239.4 1920.2,239.8 1917.3,240.2 1914.3,240.5 1911.3,240.8 1908.3,241.2 1905.3,241.4 1902.3,241.7 1899.4,242.0 1896.4,242.3 1893.4,242.5 1890.4,242.7 1887.4,243.0 1884.4,243.2 1881.4,243.4 1878.4,243.6 1875.4,243.9 1872.4,244.1 1869.4,244.3 1866.5,244.5 1863.5,244.7 1860.5,244.9 1857.5,245.1 1854.5,245.3 1851.5,245.5 1848.5,245.7 1845.5,245.9 1842.5,246.1 1839.5,246.2 1836.5,246.4 1833.5,246.6 1830.5,246.8 1827.5,247.0 1824.5,247.2 1821.5,247.4 1818.6,247.6 1815.6,247.8 1812.6,248.0 1809.6,248.1 1806.6,248.3 1803.6,248.4 1800.6,248.6 1797.6,248.7 1794.6,248.8 1791.6,249.0 1788.6,249.1 1785.6,249.2 1782.6,249.3 1779.6,249.5 1776.6,249.6 1773.6,249.7 1770.6,249.8 1767.6,249.9 1764.6,250.1 1761.6,250.2 1758.6,250.3 1755.6,250.5 1752.6,250.6 1749.6,250.8 1746.6,250.9 1743.6,251.1 1740.6,251.3 1737.6,251.5 1734.7,251.7 1731.7,251.9 1728.7,252.1 1725.7,252.4 1722.7,252.7 1719.7,253.0 1716.7,253.3 1713.8,253.7 1710.8,254.0 1707.8,254.3 1704.8,254.7 1701.8,255.1 1698.9,255.4 1695.9,255.9 1692.9,256.3 1690.0,256.8 1687.0,257.3 1684.1,257.9 1681.1,258.6 1678.2,259.3 1675.3,260.1 1672.5,261.0 1669.6,262.0 1666.8,263.0 1664.0,264.1 1661.2,265.2 1658.5,266.4 1655.8,267.6 1653.1,269.0 1650.4,270.4 1647.8,271.9 1645.3,273.5 1642.8,275.2 1640.4,277.0 1638.1,278.9 1635.9,280.9 1633.7,283.0 1631.7,285.2 1629.8,287.5 1628.0,289.9 1626.3,292.4 1624.7,294.9 1623.1,297.5 1621.7,300.1 1620.4,302.8 1619.2,305.5 1618.1,308.3 1617.1,311.2 1616.2,314.0 1615.3,316.9 1614.5,319.8 1613.6,322.7 1612.8,325.5 1612.0,328.4 1611.2,331.3 1610.3,334.2 1609.5,337.1 1608.7,340.0 1608.0,342.9 1607.3,345.8 1606.5,348.7 1605.8,351.6 1605.2,354.5 1604.5,357.5 1603.8,360.4 1603.1,363.3 1602.4,366.2 1601.8,369.2 1601.1,372.1 1600.5,375.0 1599.8,377.9 1599.2,380.9 1598.6,383.8 1598.0,386.8 1597.4,389.7 1596.8,392.6 1596.2,395.6 1595.5,398.5 1594.9,401.4 1594.3,404.4 1593.6,407.3 1593.0,410.2 1592.4,413.2 1591.7,416.1 1591.1,419.0 1590.5,422.0 1589.8,424.9 1589.2,427.8 1588.6,430.8 1588.0,433.7 1587.4,436.6 1586.8,439.6 1586.2,442.5 1585.7,445.5 1585.2,448.4 1584.6,451.4 1584.1,454.3 1583.5,457.3 1583.0,460.2 1582.4,463.2 1581.8,466.1 1581.1,469.0 1580.5,472.0 1579.8,474.9 1579.1,477.8 1578.4,480.7 1577.7,483.6 1576.9,486.5 1576.1,489.4 1575.2,492.3 1574.2,495.1 1573.0,497.8 1571.4,500.3 1569.2,502.0 1566.6,501.9 1564.4,500.1 1562.9,497.6 1561.7,494.8 1560.8,492.0 1559.9,489.1 1559.0,486.2 1558.3,483.3 1557.6,480.4 1556.9,477.5 1556.2,474.6 1555.6,471.7 1554.9,468.7 1554.1,465.8 1553.4,462.9 1552.6,460.0 1551.9,457.1 1551.1,454.2 1550.3,451.3 1549.5,448.4 1548.8,445.5 1548.0,442.6 1547.2,439.7 1546.5,436.8 1545.7,433.9 1545.0,431.0 1544.2,428.1 1543.5,425.2 1542.8,422.3 1542.1,419.4 1541.3,416.5 1540.6,413.6 1539.9,410.6 1539.2,407.7 1538.5,404.8 1537.7,401.9 1537.0,399.0 1536.3,396.1 1535.5,393.2 1534.8,390.3 1534.1,387.4 1533.4,384.4 1532.6,381.5 1531.9,378.6 1531.2,375.7 1530.5,372.8 1529.7,369.9 1529.0,367.0 1528.3,364.1 1527.6,361.2 1526.8,358.2 1526.1,355.3 1525.4,352.4 1524.7,349.5 1524.0,346.6 1523.3,343.7 1522.5,340.8 1521.8,337.9 1521.0,335.0 1520.3,332.1 1519.5,329.2 1518.7,326.3 1518.0,323.4 1517.2,320.5 1516.4,317.6 1515.6,314.7 1514.8,311.8 1513.9,308.9 1513.0,306.1 1512.0,303.2 1511.0,300.4 1510.0,297.6 1508.9,294.8 1507.9,292.0 1506.7,289.2 1505.5,286.4 1504.2,283.8 1502.7,281.2 1501.0,278.7 1499.1,276.4 1497.0,274.2 1494.8,272.3 1492.4,270.5 1489.9,268.8 1487.3,267.2 1484.7,265.8 1481.9,264.7 1479.1,263.9 1476.1,263.5 1473.1,263.2 1470.1,262.8 1467.2,262.4 1464.2,262.1 1461.2,261.8 1458.2,261.4 1455.2,261.1 1452.2,260.9 1449.2,260.6 1446.3,260.4 1443.3,260.2 1440.3,260.0 1437.3,259.9 1434.3,259.7 1431.3,259.7 1428.3,259.6 1425.3,259.6 1422.3,259.6 1419.3,259.6 1416.3,259.6 1413.3,259.7 1410.3,259.8 1407.3,260.0 1404.3,260.1 1401.3,260.3 1398.3,260.5 1395.3,260.8 1392.3,261.0 1389.3,261.3 1386.4,261.6 1383.4,262.0 1380.4,262.4 1377.4,262.9 1374.5,263.4 1371.6,264.1 1368.7,264.9 1365.8,265.8 1363.0,266.8 1360.2,267.8 1357.5,268.9 1356.2,269.4" fill="none" stroke="#5f95cf" stroke-width="3.5" stroke-linejoin="round" stroke-linecap="round"/><rect x="1307.5" y="8.4" width="748.0" height="531.9" fill="none" stroke="#231f20" stroke-width="2.8"/><line x1="1307.5" y1="75.3" x2="1323.5" y2="75.3" stroke="#231f20" stroke-width="2.8"/><text x="1296.0" y="92.1" text-anchor="end">0.10</text><line x1="1307.5" y1="159.6" x2="1323.5" y2="159.6" stroke="#231f20" stroke-width="2.8"/><text x="1296.0" y="176.4" text-anchor="end">0.05</text><line x1="1307.5" y1="243.9" x2="1323.5" y2="243.9" stroke="#231f20" stroke-width="2.8"/><text x="1296.0" y="260.7" text-anchor="end">0</text><line x1="1307.5" y1="328.2" x2="1323.5" y2="328.2" stroke="#231f20" stroke-width="2.8"/><text x="1296.0" y="345.0" text-anchor="end">−0.05</text><line x1="1307.5" y1="412.5" x2="1323.5" y2="412.5" stroke="#231f20" stroke-width="2.8"/><text x="1296.0" y="429.3" text-anchor="end">−0.10</text><line x1="1307.5" y1="496.8" x2="1323.5" y2="496.8" stroke="#231f20" stroke-width="2.8"/><text x="1296.0" y="513.6" text-anchor="end">−0.15</text><line x1="1355.5" y1="540.3" x2="1355.5" y2="524.3" stroke="#231f20" stroke-width="2.8"/><text x="1355.5" y="597.4" text-anchor="middle">0</text><line x1="1448.9" y1="540.3" x2="1448.9" y2="524.3" stroke="#231f20" stroke-width="2.8"/><text x="1448.9" y="597.4" text-anchor="middle">0.2</text><line x1="1542.4" y1="540.3" x2="1542.4" y2="524.3" stroke="#231f20" stroke-width="2.8"/><text x="1542.4" y="597.4" text-anchor="middle">0.4</text><line x1="1635.8" y1="540.3" x2="1635.8" y2="524.3" stroke="#231f20" stroke-width="2.8"/><text x="1635.8" y="597.4" text-anchor="middle">0.6</text><line x1="1729.2" y1="540.3" x2="1729.2" y2="524.3" stroke="#231f20" stroke-width="2.8"/><text x="1729.2" y="597.4" text-anchor="middle">0.8</text><line x1="1822.6" y1="540.3" x2="1822.6" y2="524.3" stroke="#231f20" stroke-width="2.8"/><text x="1822.6" y="597.4" text-anchor="middle">1.0</text><line x1="1916.1" y1="540.3" x2="1916.1" y2="524.3" stroke="#231f20" stroke-width="2.8"/><text x="1916.1" y="597.4" text-anchor="middle">1.2</text><line x1="2009.5" y1="540.3" x2="2009.5" y2="524.3" stroke="#231f20" stroke-width="2.8"/><text x="2009.5" y="597.4" text-anchor="middle">1.4</text><text x="1681.5" y="667.9" text-anchor="middle">Potential/V</text><text transform="translate(1141.7,273.7) rotate(-90)" text-anchor="middle">Current/mA</text><text x="1333.6" y="67.9" style="font-size:54.5px">(b)</text><line x1="1647.5" y1="313.2" x2="1740.0" y2="313.2" stroke="#6b6c70" stroke-width="4.8"/><text x="1744.3" y="328.2" style="letter-spacing:-0.15px">5.9×10<tspan font-size="33" dy="-18">−6</tspan><tspan dy="18"> cm</tspan><tspan font-size="33" dy="-18">2</tspan></text><line x1="1647.5" y1="369.7" x2="1740.0" y2="369.7" stroke="#d84a64" stroke-width="4.5"/><text x="1744.3" y="384.7" style="letter-spacing:-0.15px">8.3×10<tspan font-size="33" dy="-18">−6</tspan><tspan dy="18"> cm</tspan><tspan font-size="33" dy="-18">2</tspan></text><line x1="1647.5" y1="426.2" x2="1740.0" y2="426.2" stroke="#66b883" stroke-width="4.5"/><text x="1744.3" y="441.2" style="letter-spacing:-0.15px">1.7×10<tspan font-size="33" dy="-18">−5</tspan><tspan dy="18"> cm</tspan><tspan font-size="33" dy="-18">2</tspan></text><line x1="1647.5" y1="482.7" x2="1740.0" y2="482.7" stroke="#5f95cf" stroke-width="4.0"/><text x="1744.3" y="497.7" style="letter-spacing:-0.15px">3.3×10<tspan font-size="33" dy="-18">−5</tspan><tspan dy="18"> cm</tspan><tspan font-size="33" dy="-18">2</tspan></text></g>
<g><path d="M2370.0,271.6 2369.9,269.3 2370.0,266.4 2370.3,263.4 2370.7,260.4 2371.6,257.6 2373.1,255.1 2375.3,253.1 2377.8,251.5 2380.5,250.2 2383.3,249.1 2386.1,248.2 2389.0,247.4 2392.0,246.8 2394.9,246.3 2397.9,245.8 2400.8,245.4 2403.8,245.0 2406.8,244.7 2409.8,244.5 2412.8,244.3 2415.8,244.1 2418.8,243.9 2421.8,243.8 2424.8,243.6 2427.8,243.4 2430.8,243.3 2433.8,243.1 2436.8,242.9 2439.7,242.8 2442.7,242.7 2445.7,242.5 2448.7,242.4 2451.7,242.3 2454.7,242.1 2457.7,242.0 2460.7,241.9 2463.7,241.8 2466.7,241.7 2469.7,241.6 2472.7,241.6 2475.7,241.5 2478.7,241.4 2481.7,241.3 2484.7,241.3 2487.7,241.2 2490.7,241.1 2493.7,241.1 2496.7,241.0 2499.7,241.0 2502.7,240.9 2505.7,240.9 2508.7,240.8 2511.7,240.8 2514.7,240.7 2517.7,240.7 2520.7,240.7 2523.7,240.6 2526.7,240.6 2529.7,240.5 2532.7,240.5 2535.7,240.4 2538.7,240.4 2541.7,240.3 2544.7,240.3 2547.7,240.2 2550.7,240.1 2553.7,240.1 2556.7,240.0 2559.7,240.0 2562.7,239.9 2565.7,239.8 2568.7,239.8 2571.7,239.7 2574.7,239.6 2577.7,239.6 2580.7,239.5 2583.7,239.4 2586.7,239.3 2589.7,239.3 2592.7,239.2 2595.7,239.1 2598.7,239.1 2601.7,239.0 2604.7,238.9 2607.7,238.8 2610.7,238.7 2613.7,238.7 2616.7,238.6 2619.7,238.5 2622.7,238.4 2625.7,238.4 2628.7,238.4 2631.7,238.3 2634.7,238.3 2637.7,238.3 2640.7,238.3 2643.7,238.4 2646.7,238.4 2649.7,238.4 2652.7,238.4 2655.7,238.4 2658.7,238.4 2661.7,238.4 2664.7,238.4 2667.7,238.4 2670.7,238.4 2673.7,238.4 2676.7,238.3 2679.7,238.2 2682.7,238.1 2685.7,238.0 2688.7,237.9 2691.7,237.7 2694.7,237.5 2697.7,237.2 2700.6,236.8 2703.6,236.4 2706.6,235.9 2709.5,235.4 2712.4,234.7 2715.4,234.0 2718.3,233.3 2721.1,232.4 2724.0,231.5 2726.8,230.4 2729.5,229.2 2732.2,227.9 2734.8,226.4 2737.3,224.7 2739.6,222.8 2741.8,220.7 2743.7,218.5 2745.6,216.1 2747.3,213.7 2749.1,211.2 2750.9,208.9 2752.8,206.5 2754.7,204.3 2756.7,202.0 2758.6,199.7 2760.5,197.4 2762.5,195.1 2764.5,192.8 2766.5,190.6 2768.5,188.4 2770.5,186.1 2772.4,183.9 2774.5,181.6 2776.6,179.5 2778.8,177.5 2781.1,175.7 2783.7,174.1 2786.3,172.7 2789.1,171.5 2791.9,170.4 2794.7,169.5 2797.6,168.6 2800.5,167.9 2803.4,167.2 2806.4,166.6 2809.3,166.1 2812.3,165.7 2815.3,165.4 2818.3,165.2 2821.3,165.1 2824.3,165.0 2827.3,165.1 2830.3,165.2 2833.3,165.4 2836.2,165.7 2839.2,166.1 2842.2,166.4 2845.2,166.9 2848.1,167.3 2851.1,167.8 2854.1,168.3 2857.0,168.9 2859.9,169.5 2862.9,170.2 2865.8,170.8 2868.7,171.5 2871.7,172.0 2874.6,172.5 2877.6,173.0 2880.6,173.4 2883.5,173.8 2886.5,174.1 2889.5,174.5 2892.5,174.7 2895.5,174.9 2898.5,175.0 2901.5,175.0 2904.5,174.8 2907.5,174.6 2910.4,174.3 2913.4,174.0 2916.4,173.6 2919.4,173.2 2922.3,172.8 2925.3,172.4 2928.3,172.0 2931.3,171.7 2934.2,171.2 2937.1,170.5 2940.0,169.5 2942.7,168.3 2945.3,166.8 2947.8,165.2 2950.3,163.5 2952.7,161.7 2955.0,159.8 2957.4,157.9 2959.7,156.0 2962.0,154.1 2964.3,152.1 2966.5,150.1 2968.7,148.1 2970.9,146.0 2973.0,143.9 2975.1,141.8 2977.1,139.6 2979.1,137.4 2981.1,135.1 2983.1,132.8 2985.0,130.5 2986.9,128.2 2988.8,125.9 2990.6,123.5 2992.5,121.1 2994.3,118.7 2996.0,116.3 2997.7,113.8 2999.3,111.3 3000.9,108.7 3002.4,106.1 3003.8,103.5 3005.2,100.8 3006.4,98.1 3007.6,95.3 3008.8,92.6 3009.8,89.8 3010.9,87.0 3011.9,84.1 3012.9,81.3 3013.8,78.4 3014.7,75.6 3015.6,72.7 3016.5,69.9 3017.5,67.0 3018.4,64.2 3019.3,61.3 3020.2,58.4 3021.0,55.5 3021.8,52.6 3022.5,49.7 3023.3,46.8 3024.1,43.9 3024.9,41.1 3025.8,39.2 3026.2,40.2 3026.1,43.0 3025.8,46.0 3025.5,49.0 3025.1,51.9 3024.7,54.9 3024.4,57.9 3024.0,60.9 3023.6,63.8 3023.2,66.8 3022.8,69.8 3022.4,72.8 3022.0,75.7 3021.6,78.7 3021.3,81.7 3020.9,84.7 3020.5,87.6 3020.2,90.6 3019.8,93.6 3019.5,96.6 3019.1,99.6 3018.7,102.5 3018.4,105.5 3018.0,108.5 3017.6,111.5 3017.3,114.4 3016.9,117.4 3016.5,120.4 3016.0,123.4 3015.6,126.3 3015.2,129.3 3014.7,132.3 3014.2,135.2 3013.7,138.2 3013.2,141.1 3012.7,144.1 3012.3,147.1 3011.7,150.0 3011.2,153.0 3010.7,155.9 3010.1,158.9 3009.5,161.8 3008.9,164.7 3008.2,167.7 3007.5,170.6 3006.7,173.5 3005.9,176.4 3005.0,179.2 3004.1,182.1 3003.2,185.0 3002.3,187.8 3001.3,190.6 3000.2,193.4 2999.1,196.2 2997.9,199.0 2996.6,201.7 2995.2,204.3 2993.8,206.9 2992.2,209.5 2990.5,212.0 2988.7,214.4 2986.9,216.8 2984.9,219.1 2982.9,221.3 2980.8,223.4 2978.6,225.4 2976.3,227.3 2973.9,229.1 2971.4,230.7 2968.7,232.2 2966.0,233.4 2963.2,234.6 2960.4,235.6 2957.6,236.6 2954.7,237.5 2951.8,238.3 2949.0,239.2 2946.1,239.9 2943.1,240.6 2940.2,241.2 2937.2,241.7 2934.3,242.2 2931.3,242.6 2928.3,243.0 2925.4,243.3 2922.4,243.7 2919.4,243.9 2916.4,244.2 2913.4,244.5 2910.4,244.7 2907.4,244.9 2904.4,245.2 2901.4,245.4 2898.4,245.6 2895.5,245.7 2892.5,245.9 2889.5,246.1 2886.5,246.3 2883.5,246.4 2880.5,246.6 2877.5,246.7 2874.5,246.9 2871.5,247.0 2868.5,247.1 2865.5,247.2 2862.5,247.3 2859.5,247.4 2856.5,247.5 2853.5,247.6 2850.5,247.7 2847.5,247.8 2844.5,247.8 2841.5,247.9 2838.5,248.0 2835.5,248.1 2832.5,248.2 2829.5,248.2 2826.5,248.3 2823.5,248.4 2820.5,248.5 2817.5,248.6 2814.5,248.7 2811.5,248.8 2808.5,248.9 2805.5,248.9 2802.5,249.0 2799.5,249.1 2796.5,249.1 2793.5,249.2 2790.5,249.2 2787.5,249.3 2784.5,249.3 2781.5,249.3 2778.5,249.4 2775.5,249.4 2772.5,249.5 2769.5,249.6 2766.5,249.6 2763.5,249.7 2760.5,249.8 2757.5,249.9 2754.5,250.1 2751.5,250.2 2748.5,250.4 2745.5,250.6 2742.6,250.8 2739.6,251.0 2736.6,251.3 2733.6,251.6 2730.6,251.9 2727.6,252.2 2724.6,252.6 2721.7,253.0 2718.7,253.4 2715.7,253.8 2712.8,254.2 2709.8,254.6 2706.8,255.1 2703.9,255.6 2700.9,256.2 2698.0,256.7 2695.0,257.3 2692.1,258.0 2689.2,258.7 2686.3,259.4 2683.4,260.2 2680.5,261.1 2677.7,262.0 2674.8,263.0 2672.0,264.0 2669.2,265.2 2666.5,266.4 2663.8,267.7 2661.2,269.1 2658.6,270.6 2656.0,272.2 2653.5,273.9 2651.1,275.6 2648.8,277.5 2646.5,279.5 2644.4,281.6 2642.3,283.8 2640.4,286.1 2638.6,288.5 2636.9,291.0 2635.3,293.5 2633.8,296.1 2632.4,298.7 2631.0,301.4 2629.7,304.1 2628.5,306.8 2627.3,309.6 2626.2,312.4 2625.2,315.2 2624.2,318.1 2623.3,320.9 2622.3,323.7 2621.4,326.6 2620.5,329.5 2619.6,332.3 2618.7,335.2 2617.8,338.0 2616.9,340.9 2616.1,343.8 2615.2,346.7 2614.4,349.6 2613.6,352.4 2612.8,355.3 2612.0,358.2 2611.2,361.1 2610.4,364.0 2609.7,366.9 2609.0,369.8 2608.2,372.7 2607.5,375.7 2606.8,378.6 2606.1,381.5 2605.4,384.4 2604.7,387.3 2603.9,390.2 2603.2,393.1 2602.5,396.0 2601.7,398.9 2601.0,401.8 2600.2,404.8 2599.5,407.7 2598.7,410.6 2598.0,413.5 2597.3,416.4 2596.6,419.3 2596.0,422.2 2595.4,425.2 2594.8,428.1 2594.3,431.1 2593.8,434.0 2593.3,437.0 2592.7,440.0 2592.2,442.9 2591.6,445.8 2591.0,448.8 2590.3,451.7 2589.6,454.6 2588.7,457.5 2587.8,460.3 2586.9,463.2 2585.8,466.0 2584.5,468.7 2582.7,471.0 2580.3,472.2 2577.8,471.4 2575.9,469.3 2574.5,466.7 2573.4,463.9 2572.4,461.1 2571.5,458.2 2570.7,455.4 2569.9,452.5 2569.1,449.6 2568.4,446.7 2567.7,443.7 2567.1,440.8 2566.4,437.9 2565.8,434.9 2565.2,432.0 2564.5,429.1 2563.8,426.2 2563.1,423.3 2562.3,420.3 2561.6,417.4 2560.8,414.5 2560.0,411.6 2559.3,408.7 2558.5,405.8 2557.7,402.9 2556.9,400.0 2556.2,397.1 2555.4,394.2 2554.7,391.3 2553.9,388.4 2553.2,385.5 2552.5,382.6 2551.8,379.7 2551.2,376.8 2550.5,373.8 2549.9,370.9 2549.3,367.9 2548.7,365.0 2548.1,362.1 2547.4,359.1 2546.8,356.2 2546.1,353.3 2545.3,350.4 2544.6,347.5 2543.8,344.6 2543.0,341.7 2542.2,338.8 2541.3,335.9 2540.5,333.1 2539.6,330.2 2538.8,327.3 2537.9,324.4 2537.1,321.6 2536.3,318.7 2535.5,315.8 2534.7,312.9 2533.9,310.0 2533.0,307.1 2532.0,304.3 2530.9,301.5 2529.7,298.8 2528.3,296.1 2526.9,293.4 2525.4,290.8 2523.8,288.3 2522.1,285.8 2520.3,283.4 2518.4,281.2 2516.3,279.0 2514.2,276.9 2511.9,275.0 2509.5,273.2 2507.0,271.5 2504.4,269.9 2501.8,268.5 2499.1,267.2 2496.4,266.0 2493.5,265.0 2490.7,264.1 2487.8,263.3 2484.9,262.6 2481.9,262.0 2479.0,261.5 2476.0,261.1 2473.0,260.7 2470.0,260.4 2467.1,260.1 2464.1,259.8 2461.1,259.6 2458.1,259.4 2455.1,259.2 2452.1,259.0 2449.1,258.8 2446.1,258.7 2443.1,258.5 2440.1,258.4 2437.1,258.3 2434.1,258.2 2431.1,258.2 2428.1,258.2 2425.1,258.2 2422.1,258.3 2419.1,258.5 2416.1,258.7 2413.1,258.9 2410.1,259.1 2407.1,259.3 2404.2,259.6 2401.2,260.0 2398.2,260.4 2395.3,260.9 2392.3,261.5 2389.4,262.2 2386.6,263.1 2383.8,264.2 2381.0,265.4 2378.3,266.6 2375.6,267.9 2372.9,269.2 2370.9,270.3" fill="none" stroke="#5a5b5f" stroke-width="3.5" stroke-linejoin="round" stroke-linecap="round"/><path d="M2370.0,270.7 2369.9,268.5 2370.1,265.5 2370.4,262.5 2370.9,259.6 2372.0,256.8 2373.7,254.4 2375.9,252.6 2378.5,251.1 2381.3,249.8 2384.1,248.8 2386.9,247.9 2389.9,247.2 2392.8,246.7 2395.8,246.1 2398.7,245.7 2401.7,245.3 2404.7,244.9 2407.7,244.7 2410.6,244.4 2413.6,244.2 2416.6,244.0 2419.6,243.9 2422.6,243.7 2425.6,243.6 2428.6,243.4 2431.6,243.2 2434.6,243.1 2437.6,242.9 2440.6,242.8 2443.6,242.6 2446.6,242.5 2449.6,242.3 2452.6,242.2 2455.6,242.1 2458.6,242.0 2461.6,241.9 2464.6,241.8 2467.6,241.7 2470.6,241.6 2473.6,241.5 2476.6,241.4 2479.6,241.4 2482.6,241.3 2485.6,241.2 2488.6,241.2 2491.6,241.1 2494.6,241.1 2497.6,241.0 2500.6,241.0 2503.6,240.9 2506.6,240.9 2509.6,240.8 2512.6,240.8 2515.6,240.7 2518.6,240.7 2521.6,240.7 2524.6,240.6 2527.6,240.6 2530.6,240.5 2533.6,240.5 2536.6,240.4 2539.6,240.4 2542.6,240.3 2545.6,240.3 2548.6,240.2 2551.6,240.1 2554.6,240.1 2557.6,240.0 2560.6,239.9 2563.6,239.9 2566.6,239.8 2569.6,239.7 2572.6,239.7 2575.6,239.6 2578.6,239.5 2581.6,239.5 2584.6,239.4 2587.6,239.3 2590.6,239.3 2593.6,239.2 2596.6,239.1 2599.6,239.0 2602.6,239.0 2605.5,238.9 2608.5,238.8 2611.5,238.7 2614.5,238.6 2617.5,238.6 2620.5,238.5 2623.5,238.4 2626.5,238.4 2629.5,238.4 2632.5,238.4 2635.5,238.4 2638.5,238.4 2641.5,238.4 2644.5,238.5 2647.5,238.5 2650.5,238.6 2653.5,238.6 2656.5,238.6 2659.5,238.7 2662.5,238.7 2665.5,238.7 2668.5,238.7 2671.5,238.7 2674.5,238.7 2677.5,238.6 2680.5,238.5 2683.5,238.4 2686.5,238.3 2689.5,238.1 2692.5,237.9 2695.5,237.6 2698.5,237.3 2701.5,236.9 2704.4,236.4 2707.4,235.8 2710.3,235.1 2713.2,234.3 2716.0,233.4 2718.9,232.4 2721.7,231.3 2724.4,230.2 2727.1,228.8 2729.7,227.4 2732.3,225.8 2734.8,224.1 2737.1,222.3 2739.4,220.3 2741.4,218.1 2743.2,215.7 2744.9,213.3 2746.6,210.8 2748.2,208.2 2749.8,205.7 2751.5,203.2 2753.3,200.8 2755.0,198.4 2756.8,196.0 2758.6,193.6 2760.4,191.1 2762.2,188.7 2764.0,186.3 2765.8,184.0 2767.7,181.6 2769.5,179.2 2771.3,176.8 2773.1,174.5 2775.0,172.1 2777.0,169.8 2779.0,167.7 2781.3,165.7 2783.6,163.8 2786.1,162.2 2788.7,160.7 2791.4,159.3 2794.1,158.1 2796.9,156.9 2799.7,155.9 2802.5,154.8 2805.4,153.9 2808.2,153.0 2811.1,152.2 2814.0,151.5 2817.0,150.9 2819.9,150.5 2822.9,150.1 2825.9,150.0 2828.9,149.9 2831.9,150.0 2834.9,150.3 2837.9,150.6 2840.9,151.0 2843.8,151.5 2846.8,152.0 2849.7,152.6 2852.6,153.2 2855.5,154.0 2858.4,154.9 2861.3,155.8 2864.1,156.8 2866.9,157.7 2869.8,158.7 2872.7,159.5 2875.6,160.3 2878.5,161.0 2881.4,161.7 2884.3,162.4 2887.3,163.0 2890.2,163.6 2893.2,164.1 2896.1,164.6 2899.1,164.9 2902.1,165.2 2905.1,165.4 2908.1,165.4 2911.1,165.5 2914.1,165.4 2917.1,165.3 2920.1,165.2 2923.1,165.1 2926.1,164.9 2929.1,164.8 2932.1,164.7 2935.0,164.4 2938.0,163.8 2940.8,162.8 2943.5,161.4 2946.0,159.9 2948.4,158.1 2950.8,156.3 2953.2,154.4 2955.5,152.6 2957.9,150.7 2960.3,149.0 2962.8,147.3 2965.4,145.7 2967.9,144.2 2970.5,142.6 2973.1,141.1 2975.7,139.6 2978.3,138.1 2980.8,136.5 2983.4,135.0 2986.0,133.5 2988.6,132.1 2991.3,130.6 2993.9,129.1 2996.5,127.6 2999.0,126.1 3001.5,124.4 3004.0,122.6 3006.3,120.7 3008.5,118.7 3010.7,116.7 3012.7,114.5 3014.7,112.2 3016.6,109.9 3018.3,107.4 3019.9,104.9 3021.3,102.3 3022.8,99.6 3024.3,97.2 3025.9,96.3 3026.6,98.2 3026.5,101.1 3026.3,104.1 3025.9,107.1 3025.5,110.0 3025.0,113.0 3024.5,116.0 3024.1,118.9 3023.6,121.9 3023.1,124.8 3022.5,127.8 3022.0,130.8 3021.5,133.7 3021.1,136.7 3020.6,139.6 3020.1,142.6 3019.7,145.6 3019.2,148.5 3018.7,151.5 3018.2,154.4 3017.7,157.4 3017.1,160.3 3016.5,163.3 3015.9,166.2 3015.2,169.1 3014.4,172.0 3013.6,174.9 3012.8,177.8 3011.9,180.7 3011.0,183.5 3010.1,186.4 3009.1,189.2 3008.0,192.0 3006.9,194.8 3005.7,197.6 3004.4,200.3 3003.0,202.9 3001.6,205.6 3000.1,208.2 2998.5,210.7 2996.9,213.2 2995.1,215.6 2993.3,218.0 2991.3,220.3 2989.2,222.4 2987.0,224.4 2984.6,226.3 2982.2,228.0 2979.6,229.5 2977.0,231.0 2974.3,232.3 2971.5,233.5 2968.8,234.7 2965.9,235.7 2963.1,236.6 2960.2,237.4 2957.3,238.2 2954.4,238.9 2951.5,239.6 2948.5,240.3 2945.6,240.9 2942.7,241.4 2939.7,241.9 2936.7,242.4 2933.8,242.8 2930.8,243.1 2927.8,243.5 2924.8,243.8 2921.8,244.0 2918.8,244.3 2915.9,244.5 2912.9,244.7 2909.9,244.9 2906.9,245.1 2903.9,245.3 2900.9,245.5 2897.9,245.7 2894.9,245.8 2891.9,246.0 2888.9,246.1 2885.9,246.3 2882.9,246.5 2879.9,246.6 2876.9,246.7 2873.9,246.8 2870.9,247.0 2867.9,247.1 2864.9,247.2 2861.9,247.3 2858.9,247.4 2855.9,247.5 2852.9,247.6 2849.9,247.6 2846.9,247.7 2843.9,247.8 2840.9,247.9 2837.9,248.0 2834.9,248.1 2831.9,248.1 2828.9,248.2 2825.9,248.3 2822.9,248.4 2819.9,248.5 2816.9,248.6 2813.9,248.7 2810.9,248.8 2807.9,248.9 2805.0,248.9 2802.0,249.0 2799.0,249.1 2796.0,249.1 2793.0,249.2 2790.0,249.2 2787.0,249.3 2784.0,249.3 2781.0,249.4 2778.0,249.4 2775.0,249.5 2772.0,249.5 2769.0,249.6 2766.0,249.7 2763.0,249.7 2760.0,249.8 2757.0,250.0 2754.0,250.1 2751.0,250.2 2748.0,250.4 2745.0,250.6 2742.0,250.8 2739.0,251.1 2736.0,251.4 2733.0,251.7 2730.0,252.0 2727.1,252.3 2724.1,252.7 2721.1,253.0 2718.1,253.4 2715.2,253.8 2712.2,254.3 2709.2,254.7 2706.3,255.2 2703.3,255.7 2700.4,256.3 2697.4,256.8 2694.5,257.4 2691.6,258.1 2688.6,258.8 2685.7,259.6 2682.8,260.4 2680.0,261.2 2677.1,262.1 2674.3,263.1 2671.5,264.2 2668.7,265.3 2666.0,266.6 2663.3,267.9 2660.7,269.4 2658.1,270.9 2655.6,272.5 2653.1,274.2 2650.6,276.0 2648.3,277.8 2646.0,279.8 2643.8,281.8 2641.8,284.0 2639.8,286.3 2638.1,288.7 2636.5,291.2 2635.0,293.8 2633.6,296.5 2632.4,299.2 2631.2,302.0 2630.0,304.8 2628.9,307.5 2627.8,310.3 2626.7,313.1 2625.6,315.9 2624.5,318.7 2623.5,321.6 2622.6,324.4 2621.7,327.2 2620.8,330.1 2619.9,333.0 2619.0,335.9 2618.2,338.7 2617.3,341.6 2616.5,344.5 2615.7,347.4 2615.0,350.3 2614.2,353.2 2613.5,356.1 2612.8,359.0 2612.0,361.9 2611.4,364.8 2610.7,367.8 2610.0,370.7 2609.3,373.6 2608.6,376.5 2608.0,379.5 2607.3,382.4 2606.7,385.3 2606.0,388.3 2605.4,391.2 2604.8,394.1 2604.2,397.1 2603.5,400.0 2602.9,402.9 2602.3,405.9 2601.7,408.8 2601.1,411.7 2600.5,414.7 2599.9,417.6 2599.2,420.5 2598.6,423.5 2598.0,426.4 2597.4,429.4 2596.8,432.3 2596.2,435.2 2595.6,438.2 2595.0,441.1 2594.4,444.1 2593.9,447.0 2593.3,450.0 2592.8,452.9 2592.3,455.9 2591.8,458.8 2591.2,461.8 2590.6,464.7 2590.0,467.6 2589.2,470.5 2588.4,473.4 2587.5,476.3 2586.5,479.1 2585.4,481.9 2584.0,484.5 2582.0,486.6 2579.5,487.1 2577.1,485.9 2575.4,483.5 2574.1,480.8 2573.1,478.0 2572.1,475.1 2571.3,472.3 2570.5,469.4 2569.7,466.5 2569.1,463.5 2568.5,460.6 2567.9,457.7 2567.3,454.7 2566.8,451.8 2566.2,448.8 2565.6,445.9 2564.9,443.0 2564.3,440.0 2563.7,437.1 2563.1,434.2 2562.4,431.2 2561.8,428.3 2561.1,425.4 2560.4,422.5 2559.6,419.6 2558.9,416.7 2558.1,413.8 2557.3,410.9 2556.5,408.0 2555.6,405.1 2554.8,402.2 2553.9,399.3 2553.0,396.5 2552.1,393.6 2551.2,390.8 2550.2,387.9 2549.2,385.1 2548.1,382.3 2547.0,379.5 2545.9,376.7 2544.8,373.9 2543.7,371.1 2542.6,368.3 2541.6,365.5 2540.5,362.7 2539.5,359.9 2538.5,357.1 2537.6,354.2 2536.7,351.4 2535.8,348.5 2534.9,345.6 2534.0,342.8 2533.1,339.9 2532.3,337.0 2531.4,334.2 2530.5,331.3 2529.7,328.4 2528.8,325.6 2527.9,322.7 2526.9,319.8 2525.9,317.0 2524.9,314.2 2523.8,311.4 2522.6,308.7 2521.3,306.0 2519.9,303.3 2518.5,300.6 2517.0,298.0 2515.4,295.5 2513.7,293.0 2511.9,290.7 2509.9,288.4 2507.8,286.3 2505.6,284.2 2503.4,282.2 2501.0,280.4 2498.6,278.6 2496.1,277.0 2493.5,275.4 2490.9,274.0 2488.2,272.7 2485.4,271.5 2482.6,270.5 2479.7,269.6 2476.9,268.8 2474.0,268.0 2471.0,267.3 2468.1,266.6 2465.2,265.9 2462.3,265.3 2459.3,264.6 2456.4,264.0 2453.5,263.3 2450.5,262.8 2447.6,262.3 2444.6,261.8 2441.6,261.4 2438.7,261.0 2435.7,260.7 2432.7,260.4 2429.7,260.1 2426.7,259.9 2423.7,259.7 2420.7,259.6 2417.7,259.6 2414.7,259.6 2411.7,259.7 2408.7,259.9 2405.7,260.1 2402.8,260.3 2399.8,260.7 2396.8,261.1 2393.9,261.6 2390.9,262.2 2388.0,263.0 2385.2,264.0 2382.4,265.1 2379.6,266.2 2376.9,267.4 2374.2,268.7 2371.8,269.8 2371.3,270.1" fill="none" stroke="#d84a64" stroke-width="3.5" stroke-linejoin="round" stroke-linecap="round"/><path d="M2370.0,272.9 2369.9,270.7 2369.9,267.7 2370.0,264.7 2370.2,261.7 2370.6,258.8 2371.4,255.9 2372.7,253.2 2374.6,251.0 2376.9,249.1 2379.5,247.6 2382.2,246.3 2385.0,245.2 2387.8,244.3 2390.8,243.6 2393.7,243.0 2396.7,242.5 2399.6,242.0 2402.6,241.6 2405.6,241.3 2408.6,241.0 2411.6,240.8 2414.5,240.6 2417.5,240.5 2420.5,240.3 2423.5,240.1 2426.5,240.0 2429.5,239.8 2432.5,239.7 2435.5,239.5 2438.5,239.4 2441.5,239.2 2444.5,239.1 2447.5,238.9 2450.5,238.8 2453.5,238.7 2456.5,238.6 2459.5,238.5 2462.5,238.4 2465.5,238.3 2468.5,238.2 2471.5,238.1 2474.5,238.0 2477.5,237.9 2480.5,237.8 2483.5,237.8 2486.5,237.7 2489.5,237.7 2492.5,237.6 2495.5,237.5 2498.5,237.5 2501.5,237.4 2504.5,237.4 2507.5,237.4 2510.5,237.3 2513.5,237.3 2516.5,237.2 2519.5,237.2 2522.5,237.1 2525.5,237.1 2528.5,237.0 2531.5,237.0 2534.5,237.0 2537.5,236.9 2540.5,236.8 2543.5,236.8 2546.5,236.7 2549.5,236.7 2552.5,236.6 2555.5,236.5 2558.5,236.5 2561.5,236.4 2564.5,236.3 2567.5,236.3 2570.5,236.2 2573.5,236.1 2576.5,236.1 2579.5,236.0 2582.5,235.9 2585.5,235.9 2588.5,235.8 2591.5,235.7 2594.5,235.6 2597.5,235.6 2600.5,235.5 2603.5,235.4 2606.5,235.3 2609.5,235.3 2612.5,235.2 2615.5,235.1 2618.5,235.0 2621.5,235.0 2624.5,234.9 2627.5,234.9 2630.5,234.9 2633.5,234.9 2636.5,235.0 2639.5,235.0 2642.4,235.1 2645.4,235.2 2648.4,235.2 2651.4,235.3 2654.4,235.4 2657.4,235.4 2660.4,235.5 2663.4,235.5 2666.4,235.6 2669.4,235.6 2672.4,235.6 2675.4,235.6 2678.4,235.5 2681.4,235.5 2684.4,235.4 2687.4,235.2 2690.4,235.0 2693.4,234.8 2696.4,234.5 2699.4,234.1 2702.3,233.6 2705.3,233.0 2708.2,232.3 2711.1,231.5 2713.9,230.6 2716.7,229.5 2719.5,228.4 2722.2,227.1 2724.9,225.8 2727.5,224.3 2730.0,222.7 2732.5,221.0 2734.9,219.2 2737.2,217.3 2739.4,215.2 2741.4,213.0 2743.3,210.6 2745.0,208.2 2746.7,205.7 2748.3,203.2 2749.9,200.6 2751.6,198.1 2753.3,195.7 2754.9,193.2 2756.6,190.7 2758.2,188.2 2759.9,185.7 2761.5,183.1 2763.2,180.6 2764.8,178.1 2766.5,175.7 2768.2,173.2 2769.9,170.7 2771.5,168.2 2773.2,165.7 2774.9,163.2 2776.6,160.8 2778.5,158.5 2780.6,156.3 2782.9,154.4 2785.3,152.6 2787.8,151.0 2790.5,149.5 2793.2,148.3 2795.9,147.1 2798.7,146.1 2801.6,145.1 2804.5,144.4 2807.4,143.7 2810.4,143.2 2813.4,142.8 2816.3,142.6 2819.3,142.5 2822.3,142.5 2825.3,142.6 2828.3,142.8 2831.3,143.2 2834.3,143.7 2837.2,144.3 2840.1,145.0 2843.0,145.7 2845.9,146.5 2848.8,147.3 2851.7,148.2 2854.5,149.2 2857.3,150.3 2860.0,151.5 2862.8,152.7 2865.5,153.9 2868.3,155.1 2871.1,156.2 2873.9,157.3 2876.7,158.3 2879.5,159.3 2882.4,160.3 2885.2,161.3 2888.0,162.2 2890.9,163.1 2893.8,163.8 2896.7,164.5 2899.7,165.0 2902.7,165.3 2905.7,165.5 2908.7,165.6 2911.7,165.5 2914.7,165.4 2917.7,165.3 2920.7,165.1 2923.7,165.0 2926.7,165.0 2929.7,165.2 2932.6,165.3 2935.6,165.1 2938.6,164.6 2941.4,163.6 2944.0,162.3 2946.6,160.7 2949.0,158.9 2951.3,157.0 2953.6,155.1 2955.9,153.1 2958.1,151.1 2960.4,149.1 2962.6,147.2 2964.9,145.2 2967.1,143.2 2969.3,141.1 2971.5,139.1 2973.6,137.0 2975.7,134.8 2977.8,132.6 2979.8,130.4 2981.7,128.1 2983.6,125.7 2985.4,123.4 2987.1,120.9 2988.8,118.4 2990.5,115.9 2992.1,113.4 2993.7,110.9 2995.2,108.3 2996.8,105.7 2998.3,103.1 2999.7,100.5 3001.2,97.9 3002.6,95.2 3004.0,92.6 3005.4,89.9 3006.7,87.2 3007.9,84.5 3009.1,81.8 3010.3,79.0 3011.5,76.2 3012.7,73.5 3013.8,70.7 3014.9,67.9 3016.1,65.1 3017.2,62.4 3018.4,59.6 3019.6,56.8 3020.7,54.1 3021.7,51.3 3022.8,48.5 3024.0,45.7 3025.3,43.5 3026.4,43.7 3026.7,46.3 3026.6,49.3 3026.4,52.2 3026.2,55.2 3025.9,58.2 3025.7,61.2 3025.4,64.2 3025.0,67.2 3024.7,70.2 3024.4,73.1 3024.1,76.1 3023.7,79.1 3023.4,82.1 3023.0,85.1 3022.7,88.1 3022.4,91.0 3022.0,94.0 3021.7,97.0 3021.4,100.0 3021.0,103.0 3020.7,105.9 3020.3,108.9 3020.0,111.9 3019.6,114.9 3019.2,117.8 3018.8,120.8 3018.4,123.8 3017.9,126.8 3017.5,129.7 3017.0,132.7 3016.6,135.7 3016.1,138.6 3015.6,141.6 3015.0,144.5 3014.5,147.5 3014.0,150.4 3013.4,153.4 3012.9,156.3 3012.3,159.3 3011.7,162.2 3011.0,165.1 3010.4,168.1 3009.6,171.0 3008.9,173.9 3008.1,176.8 3007.2,179.6 3006.3,182.5 3005.3,185.3 3004.4,188.2 3003.4,191.0 3002.3,193.8 3001.3,196.6 3000.1,199.4 2998.9,202.1 2997.6,204.8 2996.1,207.5 2994.6,210.0 2992.9,212.5 2991.0,214.9 2989.1,217.1 2987.1,219.3 2984.9,221.4 2982.7,223.5 2980.4,225.4 2978.0,227.2 2975.6,228.9 2973.1,230.6 2970.5,232.1 2967.8,233.4 2965.0,234.5 2962.2,235.5 2959.3,236.4 2956.4,237.2 2953.5,237.9 2950.6,238.7 2947.7,239.5 2944.8,240.2 2941.8,240.8 2938.9,241.4 2935.9,241.9 2933.0,242.3 2930.0,242.8 2927.0,243.1 2924.1,243.5 2921.1,243.8 2918.1,244.1 2915.1,244.3 2912.1,244.6 2909.1,244.8 2906.1,245.0 2903.1,245.2 2900.1,245.4 2897.1,245.6 2894.1,245.8 2891.2,246.0 2888.2,246.2 2885.2,246.4 2882.2,246.5 2879.2,246.7 2876.2,246.8 2873.2,246.9 2870.2,247.0 2867.2,247.1 2864.2,247.3 2861.2,247.3 2858.2,247.4 2855.2,247.5 2852.2,247.6 2849.2,247.7 2846.2,247.8 2843.2,247.9 2840.2,247.9 2837.2,248.0 2834.2,248.1 2831.2,248.2 2828.2,248.3 2825.2,248.4 2822.2,248.4 2819.2,248.5 2816.2,248.6 2813.2,248.7 2810.2,248.8 2807.2,248.9 2804.2,249.0 2801.2,249.0 2798.2,249.1 2795.2,249.1 2792.2,249.2 2789.2,249.2 2786.2,249.2 2783.2,249.3 2780.2,249.3 2777.2,249.4 2774.2,249.4 2771.2,249.5 2768.2,249.5 2765.2,249.6 2762.2,249.7 2759.2,249.8 2756.2,249.9 2753.2,250.0 2750.2,250.2 2747.2,250.4 2744.2,250.6 2741.3,250.8 2738.3,251.1 2735.3,251.5 2732.3,251.8 2729.3,252.3 2726.4,252.7 2723.4,253.2 2720.5,253.7 2717.5,254.3 2714.6,254.9 2711.7,255.6 2708.7,256.3 2705.8,257.0 2702.9,257.7 2700.0,258.5 2697.1,259.3 2694.2,260.1 2691.4,261.0 2688.5,261.9 2685.7,262.8 2682.8,263.8 2680.0,264.9 2677.3,266.2 2674.6,267.5 2672.0,268.9 2669.3,270.4 2666.8,271.9 2664.3,273.6 2661.8,275.3 2659.5,277.1 2657.2,279.1 2655.0,281.1 2652.8,283.2 2650.8,285.4 2648.9,287.7 2647.0,290.0 2645.2,292.5 2643.6,295.0 2642.0,297.5 2640.5,300.1 2639.1,302.8 2637.8,305.5 2636.6,308.2 2635.5,311.0 2634.5,313.8 2633.5,316.7 2632.5,319.5 2631.6,322.4 2630.7,325.2 2629.9,328.1 2629.0,331.0 2628.1,333.9 2627.3,336.7 2626.4,339.6 2625.6,342.5 2624.8,345.4 2624.1,348.3 2623.3,351.2 2622.6,354.1 2621.8,357.0 2621.1,359.9 2620.5,362.8 2619.8,365.8 2619.1,368.7 2618.5,371.6 2617.8,374.6 2617.2,377.5 2616.6,380.4 2616.0,383.4 2615.4,386.3 2614.8,389.3 2614.3,392.2 2613.7,395.2 2613.2,398.1 2612.7,401.1 2612.2,404.0 2611.6,407.0 2611.1,409.9 2610.6,412.9 2610.0,415.8 2609.5,418.8 2608.9,421.7 2608.4,424.7 2607.9,427.6 2607.3,430.6 2606.8,433.5 2606.2,436.5 2605.7,439.4 2605.1,442.4 2604.6,445.3 2604.0,448.3 2603.4,451.2 2602.9,454.2 2602.3,457.1 2601.7,460.0 2601.1,463.0 2600.4,465.9 2599.8,468.8 2599.2,471.8 2598.6,474.7 2597.9,477.6 2597.3,480.6 2596.6,483.5 2596.0,486.4 2595.4,489.4 2594.7,492.3 2594.1,495.2 2593.5,498.2 2592.9,501.1 2592.2,504.0 2591.6,507.0 2591.0,509.9 2590.3,512.8 2589.5,515.7 2588.7,518.6 2587.8,521.5 2586.9,524.3 2585.8,527.1 2584.6,529.8 2582.8,532.2 2580.4,533.4 2577.9,532.8 2576.0,530.7 2574.6,528.1 2573.5,525.3 2572.5,522.4 2571.6,519.6 2570.7,516.7 2570.0,513.8 2569.2,510.9 2568.5,508.0 2567.9,505.1 2567.2,502.1 2566.6,499.2 2566.0,496.2 2565.4,493.3 2564.9,490.4 2564.3,487.4 2563.8,484.4 2563.3,481.5 2562.8,478.5 2562.3,475.6 2561.9,472.6 2561.4,469.7 2560.9,466.7 2560.4,463.7 2560.0,460.8 2559.5,457.8 2559.0,454.8 2558.6,451.9 2558.1,448.9 2557.7,445.9 2557.2,443.0 2556.8,440.0 2556.3,437.0 2555.9,434.1 2555.4,431.1 2555.0,428.1 2554.5,425.2 2554.1,422.2 2553.7,419.2 2553.2,416.3 2552.8,413.3 2552.3,410.3 2551.9,407.4 2551.4,404.4 2551.0,401.4 2550.6,398.5 2550.1,395.5 2549.7,392.5 2549.2,389.6 2548.8,386.6 2548.3,383.6 2547.9,380.7 2547.5,377.7 2547.1,374.7 2546.7,371.7 2546.3,368.8 2545.9,365.8 2545.5,362.8 2545.1,359.9 2544.6,356.9 2544.1,353.9 2543.5,351.0 2542.9,348.1 2542.2,345.1 2541.4,342.2 2540.7,339.3 2539.9,336.4 2539.0,333.6 2538.2,330.7 2537.4,327.8 2536.5,324.9 2535.7,322.0 2534.9,319.1 2534.2,316.2 2533.4,313.3 2532.6,310.5 2531.7,307.6 2530.7,304.8 2529.6,302.0 2528.4,299.2 2527.1,296.5 2525.7,293.9 2524.2,291.3 2522.6,288.7 2520.9,286.3 2519.1,283.9 2517.1,281.6 2515.1,279.4 2512.9,277.4 2510.6,275.4 2508.2,273.6 2505.7,272.0 2503.1,270.4 2500.5,269.0 2497.8,267.7 2495.0,266.6 2492.2,265.6 2489.3,264.7 2486.4,263.9 2483.5,263.3 2480.5,262.8 2477.6,262.3 2474.6,261.9 2471.6,261.6 2468.6,261.3 2465.7,261.0 2462.7,260.7 2459.7,260.5 2456.7,260.3 2453.7,260.1 2450.7,260.0 2447.7,259.8 2444.7,259.7 2441.7,259.6 2438.7,259.5 2435.7,259.4 2432.7,259.3 2429.7,259.3 2426.7,259.4 2423.7,259.5 2420.7,259.6 2417.7,259.8 2414.7,260.0 2411.7,260.3 2408.7,260.5 2405.8,260.8 2402.8,261.1 2399.8,261.5 2396.8,262.0 2393.9,262.6 2391.0,263.4 2388.2,264.4 2385.4,265.6 2382.8,266.9 2380.1,268.4 2377.5,269.9 2375.0,271.4 2372.5,272.9 2371.4,273.7" fill="none" stroke="#62b680" stroke-width="3.5" stroke-linejoin="round" stroke-linecap="round"/><path d="M2370.0,268.7 2370.0,266.4 2370.1,263.5 2370.5,260.5 2371.2,257.6 2372.3,254.9 2374.1,252.6 2376.4,250.7 2379.0,249.1 2381.7,247.8 2384.5,246.8 2387.3,245.9 2390.2,245.2 2393.2,244.6 2396.1,244.1 2399.1,243.6 2402.1,243.2 2405.1,242.9 2408.0,242.6 2411.0,242.4 2414.0,242.2 2417.0,242.0 2420.0,241.8 2423.0,241.7 2426.0,241.5 2429.0,241.4 2432.0,241.2 2435.0,241.0 2438.0,240.9 2441.0,240.7 2444.0,240.6 2447.0,240.5 2450.0,240.3 2453.0,240.2 2456.0,240.1 2459.0,240.0 2462.0,239.9 2465.0,239.8 2468.0,239.7 2471.0,239.6 2474.0,239.5 2477.0,239.4 2480.0,239.4 2483.0,239.3 2486.0,239.2 2489.0,239.2 2492.0,239.1 2495.0,239.1 2498.0,239.0 2501.0,239.0 2504.0,238.9 2507.0,238.9 2510.0,238.8 2513.0,238.8 2516.0,238.7 2519.0,238.7 2522.0,238.6 2525.0,238.6 2528.0,238.6 2531.0,238.5 2534.0,238.5 2537.0,238.4 2540.0,238.4 2543.0,238.3 2546.0,238.2 2548.9,238.2 2551.9,238.1 2554.9,238.1 2557.9,238.0 2560.9,237.9 2563.9,237.9 2566.9,237.8 2569.9,237.7 2572.9,237.7 2575.9,237.6 2578.9,237.5 2581.9,237.4 2584.9,237.4 2587.9,237.3 2590.9,237.2 2593.9,237.2 2596.9,237.1 2599.9,237.0 2602.9,236.9 2605.9,236.9 2608.9,236.8 2611.9,236.7 2614.9,236.6 2617.9,236.6 2620.9,236.5 2623.9,236.4 2626.9,236.4 2629.9,236.4 2632.9,236.4 2635.9,236.4 2638.9,236.4 2641.9,236.4 2644.9,236.4 2647.9,236.5 2650.9,236.5 2653.9,236.5 2656.9,236.5 2659.9,236.6 2662.9,236.6 2665.9,236.6 2668.9,236.6 2671.9,236.6 2674.9,236.5 2677.9,236.5 2680.9,236.4 2683.9,236.3 2686.9,236.2 2689.9,236.0 2692.9,235.8 2695.9,235.6 2698.9,235.3 2701.9,234.9 2704.8,234.4 2707.8,233.9 2710.7,233.2 2713.6,232.5 2716.5,231.8 2719.4,230.9 2722.2,230.0 2725.0,228.9 2727.8,227.7 2730.5,226.4 2733.1,225.0 2735.7,223.4 2738.1,221.6 2740.4,219.7 2742.4,217.5 2744.4,215.2 2746.2,212.8 2748.0,210.4 2749.7,208.0 2751.5,205.6 2753.4,203.2 2755.2,200.8 2757.0,198.4 2758.8,196.0 2760.5,193.6 2762.3,191.2 2764.1,188.8 2765.9,186.4 2767.8,184.0 2769.6,181.6 2771.4,179.2 2773.2,176.9 2775.1,174.5 2777.1,172.2 2779.1,170.1 2781.4,168.1 2783.7,166.3 2786.2,164.6 2788.8,163.1 2791.4,161.7 2794.2,160.4 2796.9,159.3 2799.8,158.2 2802.6,157.4 2805.5,156.7 2808.5,156.1 2811.5,155.7 2814.5,155.5 2817.4,155.3 2820.4,155.1 2823.4,155.0 2826.4,155.0 2829.4,154.9 2832.4,154.9 2835.4,155.0 2838.4,155.2 2841.4,155.4 2844.4,155.6 2847.4,156.0 2850.4,156.4 2853.3,156.9 2856.2,157.6 2859.2,158.3 2862.1,159.1 2864.9,159.9 2867.8,160.7 2870.7,161.5 2873.6,162.3 2876.5,163.0 2879.4,163.9 2882.3,164.7 2885.2,165.6 2888.0,166.4 2890.9,167.2 2893.9,167.8 2896.8,168.4 2899.8,168.7 2902.8,169.0 2905.8,169.1 2908.8,169.1 2911.8,169.0 2914.8,168.9 2917.7,168.6 2920.7,168.2 2923.7,167.6 2926.6,166.9 2929.4,166.0 2932.2,165.0 2935.0,163.7 2937.6,162.4 2940.3,160.9 2942.9,159.4 2945.4,157.9 2948.0,156.3 2950.5,154.6 2952.9,152.9 2955.3,151.1 2957.7,149.2 2960.0,147.3 2962.2,145.3 2964.5,143.3 2966.6,141.3 2968.8,139.1 2970.9,137.0 2972.9,134.8 2974.9,132.5 2976.8,130.3 2978.7,127.9 2980.6,125.6 2982.3,123.1 2984.1,120.7 2985.7,118.2 2987.4,115.7 2989.0,113.1 2990.5,110.6 2992.0,108.0 2993.5,105.4 2994.9,102.7 2996.3,100.1 2997.7,97.4 2999.0,94.7 3000.3,92.0 3001.6,89.3 3002.9,86.6 3004.1,83.8 3005.2,81.1 3006.4,78.3 3007.4,75.5 3008.5,72.7 3009.5,69.8 3010.4,67.0 3011.4,64.1 3012.3,61.3 3013.1,58.4 3014.0,55.5 3014.8,52.7 3015.6,49.8 3016.4,46.9 3017.2,44.0 3017.9,41.1 3018.5,38.1 3019.1,35.2 3019.7,32.2 3020.3,29.3 3020.9,26.4 3021.4,23.4 3022.0,20.5 3022.6,17.5 3023.2,14.7 3023.9,13.5 3024.1,15.3 3024.0,18.2 3023.8,21.2 3023.5,24.2 3023.3,27.2 3023.0,30.2 3022.8,33.2 3022.5,36.2 3022.2,39.1 3021.9,42.1 3021.6,45.1 3021.3,48.1 3021.0,51.1 3020.7,54.1 3020.4,57.1 3020.1,60.0 3019.8,63.0 3019.5,66.0 3019.2,69.0 3018.9,72.0 3018.6,75.0 3018.3,77.9 3018.0,80.9 3017.6,83.9 3017.3,86.9 3017.0,89.9 3016.7,92.9 3016.4,95.8 3016.0,98.8 3015.7,101.8 3015.3,104.8 3015.0,107.8 3014.6,110.7 3014.2,113.7 3013.8,116.7 3013.4,119.7 3013.0,122.6 3012.5,125.6 3012.1,128.6 3011.6,131.5 3011.1,134.5 3010.7,137.4 3010.2,140.4 3009.7,143.4 3009.2,146.3 3008.7,149.3 3008.2,152.2 3007.6,155.2 3007.0,158.1 3006.4,161.1 3005.8,164.0 3005.1,166.9 3004.3,169.8 3003.5,172.7 3002.7,175.6 3001.9,178.5 3001.1,181.4 3000.2,184.2 2999.3,187.1 2998.3,189.9 2997.3,192.8 2996.2,195.6 2995.0,198.3 2993.7,201.0 2992.3,203.6 2990.7,206.2 2989.0,208.7 2987.2,211.0 2985.2,213.3 2983.1,215.4 2981.0,217.5 2978.7,219.5 2976.4,221.4 2974.1,223.3 2971.6,225.0 2969.1,226.7 2966.6,228.3 2963.9,229.7 2961.2,231.0 2958.5,232.2 2955.7,233.4 2953.0,234.5 2950.2,235.7 2947.4,236.8 2944.6,237.9 2941.8,238.9 2939.0,239.9 2936.1,240.8 2933.2,241.7 2930.3,242.4 2927.4,243.1 2924.5,243.7 2921.5,244.2 2918.5,244.6 2915.6,245.0 2912.6,245.2 2909.6,245.4 2906.6,245.5 2903.6,245.7 2900.6,245.8 2897.6,245.8 2894.6,245.9 2891.6,246.1 2888.6,246.2 2885.6,246.3 2882.6,246.5 2879.6,246.6 2876.6,246.7 2873.6,246.8 2870.6,246.9 2867.6,247.0 2864.6,247.1 2861.6,247.2 2858.6,247.3 2855.6,247.4 2852.6,247.5 2849.6,247.6 2846.6,247.7 2843.6,247.8 2840.6,247.9 2837.6,248.0 2834.6,248.1 2831.6,248.1 2828.6,248.2 2825.6,248.3 2822.6,248.4 2819.6,248.5 2816.6,248.6 2813.6,248.7 2810.6,248.8 2807.6,248.9 2804.6,248.9 2801.6,249.0 2798.6,249.1 2795.6,249.1 2792.6,249.1 2789.6,249.2 2786.6,249.2 2783.6,249.2 2780.6,249.3 2777.6,249.3 2774.6,249.4 2771.6,249.4 2768.6,249.5 2765.6,249.5 2762.6,249.6 2759.6,249.7 2756.6,249.8 2753.7,250.0 2750.7,250.1 2747.7,250.3 2744.7,250.5 2741.7,250.8 2738.7,251.1 2735.7,251.4 2732.7,251.7 2729.8,252.1 2726.8,252.5 2723.8,252.9 2720.8,253.3 2717.9,253.8 2714.9,254.3 2712.0,254.8 2709.0,255.3 2706.1,255.8 2703.1,256.4 2700.2,257.1 2697.2,257.7 2694.3,258.4 2691.4,259.2 2688.5,260.0 2685.7,260.8 2682.8,261.7 2680.0,262.7 2677.1,263.7 2674.3,264.8 2671.6,266.0 2668.9,267.2 2666.2,268.6 2663.6,270.1 2661.0,271.6 2658.5,273.3 2656.1,275.0 2653.7,276.9 2651.4,278.8 2649.3,280.9 2647.1,283.0 2645.1,285.2 2643.3,287.6 2641.5,290.0 2639.8,292.5 2638.3,295.1 2636.9,297.7 2635.6,300.4 2634.3,303.1 2633.1,305.9 2632.0,308.6 2630.8,311.4 2629.7,314.2 2628.7,317.0 2627.7,319.9 2626.7,322.7 2625.8,325.6 2624.9,328.4 2624.1,331.3 2623.2,334.2 2622.4,337.1 2621.6,340.0 2620.9,342.9 2620.1,345.8 2619.4,348.7 2618.6,351.6 2617.9,354.5 2617.2,357.4 2616.5,360.3 2615.8,363.2 2615.1,366.2 2614.5,369.1 2613.9,372.0 2613.3,375.0 2612.7,377.9 2612.1,380.8 2611.5,383.8 2610.9,386.7 2610.3,389.7 2609.7,392.6 2609.1,395.6 2608.5,398.5 2608.0,401.4 2607.4,404.4 2606.9,407.3 2606.4,410.3 2605.8,413.3 2605.3,416.2 2604.8,419.2 2604.2,422.1 2603.7,425.1 2603.1,428.0 2602.5,430.9 2601.9,433.9 2601.3,436.8 2600.7,439.8 2600.0,442.7 2599.4,445.6 2598.8,448.5 2598.1,451.5 2597.5,454.4 2596.8,457.3 2596.2,460.3 2595.6,463.2 2595.0,466.2 2594.4,469.1 2593.9,472.0 2593.3,475.0 2592.8,477.9 2592.3,480.9 2591.7,483.9 2591.2,486.8 2590.6,489.7 2590.0,492.7 2589.2,495.6 2588.4,498.5 2587.5,501.3 2586.5,504.2 2585.4,506.9 2584.0,509.5 2582.0,511.6 2579.4,512.1 2577.1,510.8 2575.4,508.5 2574.1,505.8 2573.1,503.0 2572.1,500.1 2571.2,497.2 2570.4,494.3 2569.7,491.4 2569.1,488.5 2568.4,485.6 2567.8,482.6 2567.3,479.7 2566.7,476.7 2566.1,473.8 2565.6,470.9 2565.0,467.9 2564.4,465.0 2563.9,462.0 2563.3,459.1 2562.8,456.1 2562.2,453.2 2561.7,450.2 2561.1,447.3 2560.6,444.3 2560.1,441.4 2559.5,438.4 2559.0,435.5 2558.4,432.5 2557.9,429.6 2557.4,426.6 2556.8,423.7 2556.3,420.7 2555.8,417.7 2555.2,414.8 2554.7,411.8 2554.2,408.9 2553.7,405.9 2553.2,403.0 2552.6,400.0 2552.1,397.1 2551.6,394.1 2551.1,391.2 2550.6,388.2 2550.1,385.2 2549.6,382.3 2549.2,379.3 2548.7,376.3 2548.3,373.4 2547.9,370.4 2547.5,367.4 2547.1,364.5 2546.7,361.5 2546.2,358.5 2545.7,355.6 2545.1,352.6 2544.5,349.7 2543.8,346.8 2543.0,343.9 2542.2,341.0 2541.4,338.1 2540.5,335.2 2539.6,332.4 2538.7,329.5 2537.9,326.6 2537.0,323.8 2536.2,320.9 2535.4,318.0 2534.6,315.1 2533.8,312.2 2533.0,309.3 2532.1,306.5 2531.0,303.6 2529.9,300.9 2528.7,298.1 2527.4,295.4 2525.9,292.8 2524.5,290.2 2522.9,287.6 2521.2,285.2 2519.4,282.8 2517.4,280.5 2515.4,278.3 2513.2,276.2 2510.9,274.3 2508.5,272.5 2506.0,270.9 2503.4,269.3 2500.8,267.9 2498.0,266.7 2495.3,265.6 2492.4,264.6 2489.6,263.7 2486.6,263.0 2483.7,262.4 2480.8,261.8 2477.8,261.4 2474.8,260.9 2471.9,260.6 2468.9,260.3 2465.9,260.0 2462.9,259.7 2459.9,259.5 2456.9,259.3 2453.9,259.1 2450.9,258.9 2447.9,258.8 2444.9,258.6 2441.9,258.5 2438.9,258.4 2435.9,258.3 2432.9,258.2 2429.9,258.2 2426.9,258.2 2423.9,258.3 2420.9,258.4 2417.9,258.5 2415.0,258.7 2412.0,259.0 2409.0,259.2 2406.0,259.5 2403.0,259.8 2400.0,260.2 2397.1,260.6 2394.1,261.1 2391.2,261.8 2388.3,262.5 2385.4,263.4 2382.6,264.5 2379.8,265.6 2377.0,266.7 2374.3,267.9 2371.9,269.0 2371.3,269.2" fill="none" stroke="#5f95cf" stroke-width="3.5" stroke-linejoin="round" stroke-linecap="round"/><rect x="2324.5" y="8.4" width="748.0" height="531.9" fill="none" stroke="#231f20" stroke-width="2.8"/><line x1="2324.5" y1="75.3" x2="2340.5" y2="75.3" stroke="#231f20" stroke-width="2.8"/><text x="2313.0" y="92.1" text-anchor="end">0.10</text><line x1="2324.5" y1="159.6" x2="2340.5" y2="159.6" stroke="#231f20" stroke-width="2.8"/><text x="2313.0" y="176.4" text-anchor="end">0.05</text><line x1="2324.5" y1="243.9" x2="2340.5" y2="243.9" stroke="#231f20" stroke-width="2.8"/><text x="2313.0" y="260.7" text-anchor="end">0</text><line x1="2324.5" y1="328.2" x2="2340.5" y2="328.2" stroke="#231f20" stroke-width="2.8"/><text x="2313.0" y="345.0" text-anchor="end">−0.05</text><line x1="2324.5" y1="412.5" x2="2340.5" y2="412.5" stroke="#231f20" stroke-width="2.8"/><text x="2313.0" y="429.3" text-anchor="end">−0.10</text><line x1="2324.5" y1="496.8" x2="2340.5" y2="496.8" stroke="#231f20" stroke-width="2.8"/><text x="2313.0" y="513.6" text-anchor="end">−0.15</text><line x1="2372.5" y1="540.3" x2="2372.5" y2="524.3" stroke="#231f20" stroke-width="2.8"/><text x="2372.5" y="597.4" text-anchor="middle">0</text><line x1="2465.9" y1="540.3" x2="2465.9" y2="524.3" stroke="#231f20" stroke-width="2.8"/><text x="2465.9" y="597.4" text-anchor="middle">0.2</text><line x1="2559.4" y1="540.3" x2="2559.4" y2="524.3" stroke="#231f20" stroke-width="2.8"/><text x="2559.4" y="597.4" text-anchor="middle">0.4</text><line x1="2652.8" y1="540.3" x2="2652.8" y2="524.3" stroke="#231f20" stroke-width="2.8"/><text x="2652.8" y="597.4" text-anchor="middle">0.6</text><line x1="2746.2" y1="540.3" x2="2746.2" y2="524.3" stroke="#231f20" stroke-width="2.8"/><text x="2746.2" y="597.4" text-anchor="middle">0.8</text><line x1="2839.6" y1="540.3" x2="2839.6" y2="524.3" stroke="#231f20" stroke-width="2.8"/><text x="2839.6" y="597.4" text-anchor="middle">1.0</text><line x1="2933.1" y1="540.3" x2="2933.1" y2="524.3" stroke="#231f20" stroke-width="2.8"/><text x="2933.1" y="597.4" text-anchor="middle">1.2</text><line x1="3026.5" y1="540.3" x2="3026.5" y2="524.3" stroke="#231f20" stroke-width="2.8"/><text x="3026.5" y="597.4" text-anchor="middle">1.4</text><text x="2698.5" y="667.9" text-anchor="middle">Potential/V</text><text transform="translate(2158.7,273.7) rotate(-90)" text-anchor="middle">Current/mA</text><text x="2347.4" y="67.9" style="font-size:54.5px">(c)</text><line x1="2664.5" y1="313.2" x2="2757.0" y2="313.2" stroke="#6b6c70" stroke-width="4.8"/><text x="2760.3" y="328.2" style="letter-spacing:-0.15px">5.9×10<tspan font-size="33" dy="-18">−6</tspan><tspan dy="18"> cm</tspan><tspan font-size="33" dy="-18">2</tspan></text><line x1="2664.5" y1="369.7" x2="2757.0" y2="369.7" stroke="#d84a64" stroke-width="4.5"/><text x="2760.3" y="384.7" style="letter-spacing:-0.15px">8.3×10<tspan font-size="33" dy="-18">−6</tspan><tspan dy="18"> cm</tspan><tspan font-size="33" dy="-18">2</tspan></text><line x1="2664.5" y1="426.2" x2="2757.0" y2="426.2" stroke="#66b883" stroke-width="4.5"/><text x="2760.3" y="441.2" style="letter-spacing:-0.15px">1.7×10<tspan font-size="33" dy="-18">−5</tspan><tspan dy="18"> cm</tspan><tspan font-size="33" dy="-18">2</tspan></text><line x1="2664.5" y1="482.7" x2="2757.0" y2="482.7" stroke="#5f95cf" stroke-width="4.0"/><text x="2760.3" y="497.7" style="letter-spacing:-0.15px">3.3×10<tspan font-size="33" dy="-18">−5</tspan><tspan dy="18"> cm</tspan><tspan font-size="33" dy="-18">2</tspan></text></g>
<g><path d="M334.3,1031.0 334.3,1028.7 334.2,1025.7 334.2,1022.7 334.3,1019.7 334.3,1016.7 334.4,1013.8 335.0,1010.9 336.6,1008.5 338.9,1006.5 341.3,1004.8 343.8,1003.2 346.4,1001.7 349.1,1000.4 351.9,999.2 354.7,998.1 357.5,997.1 360.4,996.2 363.3,995.5 366.2,994.9 369.2,994.3 372.1,993.9 375.1,993.5 378.1,993.2 381.1,993.0 384.1,992.8 387.1,992.6 390.1,992.5 393.1,992.3 396.0,992.2 399.0,992.1 402.0,992.0 405.0,991.9 408.0,991.8 411.0,991.7 414.0,991.6 417.0,991.5 420.0,991.4 423.0,991.4 426.0,991.3 429.0,991.3 432.0,991.2 435.0,991.2 438.0,991.2 441.0,991.1 444.0,991.1 447.0,991.0 450.0,991.0 453.0,990.9 456.0,990.9 459.0,990.8 462.0,990.8 465.0,990.7 468.0,990.6 471.0,990.6 474.0,990.5 477.0,990.5 480.0,990.4 483.0,990.4 486.0,990.3 489.0,990.3 492.0,990.2 495.0,990.2 498.0,990.2 501.0,990.1 504.0,990.1 507.0,990.1 510.0,990.1 513.0,990.1 516.0,990.1 519.0,990.2 522.0,990.2 525.0,990.3 528.0,990.4 531.0,990.6 534.0,990.7 537.0,990.9 540.0,991.1 543.0,991.3 546.0,991.5 549.0,991.6 552.0,991.8 555.0,991.9 558.0,992.0 561.0,992.0 564.0,992.1 567.0,992.1 570.0,992.2 573.0,992.3 576.0,992.3 579.0,992.4 582.0,992.4 585.0,992.5 588.0,992.6 591.0,992.6 594.0,992.7 597.0,992.7 600.0,992.8 603.0,992.8 606.0,992.9 609.0,992.9 612.0,992.9 615.0,993.0 618.0,993.0 621.0,993.0 624.0,993.0 627.0,993.0 630.0,993.0 633.0,993.0 636.0,993.0 639.0,992.9 642.0,992.9 645.0,992.9 648.0,992.8 651.0,992.7 654.0,992.6 657.0,992.5 660.0,992.4 663.0,992.2 665.9,992.0 668.9,991.8 671.9,991.5 674.9,991.1 677.9,990.7 680.8,990.2 683.8,989.5 686.6,988.7 689.5,987.8 692.3,986.7 695.0,985.4 697.6,984.0 700.3,982.6 702.8,981.0 705.3,979.3 707.7,977.6 710.1,975.7 712.4,973.8 714.6,971.8 716.9,969.8 719.1,967.8 721.3,965.7 723.4,963.6 725.5,961.5 727.5,959.3 729.5,957.0 731.5,954.7 733.3,952.3 735.1,949.9 736.8,947.5 738.5,945.0 740.3,942.6 742.1,940.2 743.9,937.8 745.8,935.5 747.8,933.2 749.7,931.0 751.7,928.7 753.8,926.5 756.0,924.5 758.3,922.7 760.9,921.1 763.6,919.9 766.5,919.0 769.4,918.4 772.4,918.0 775.4,917.8 778.4,917.9 781.3,918.2 784.3,918.8 787.2,919.5 790.1,920.3 792.9,921.2 795.8,922.2 798.6,923.3 801.3,924.4 804.1,925.6 806.9,926.8 809.6,927.9 812.4,929.0 815.3,930.0 818.1,931.1 820.9,932.1 823.7,933.2 826.5,934.2 829.3,935.2 832.2,936.1 835.0,937.0 837.9,937.9 840.8,938.6 843.7,939.4 846.7,940.1 849.6,940.7 852.5,941.3 855.5,941.8 858.4,942.2 861.4,942.6 864.4,942.9 867.4,943.1 870.4,943.3 873.4,943.4 876.4,943.4 879.4,943.4 882.4,943.2 885.4,943.0 888.3,942.6 891.3,942.0 894.2,941.2 897.0,940.2 899.8,939.2 902.6,938.0 905.3,936.8 908.1,935.6 910.8,934.2 913.4,932.9 916.1,931.5 918.7,930.0 921.3,928.5 923.9,927.0 926.4,925.4 928.9,923.8 931.4,922.1 933.9,920.4 936.3,918.6 938.7,916.8 941.0,914.9 943.3,912.9 945.5,910.9 947.6,908.8 949.7,906.6 951.7,904.4 953.7,902.2 955.7,899.9 957.7,897.7 959.6,895.4 961.5,893.0 963.4,890.7 965.3,888.4 967.1,886.0 968.9,883.6 970.6,881.1 972.3,878.7 973.9,876.1 975.5,873.6 977.1,871.0 978.5,868.4 980.0,865.8 981.4,863.1 982.8,860.5 984.2,857.8 985.5,855.1 986.8,852.4 988.0,849.7 989.3,847.3 990.4,847.2 990.7,849.5 990.5,852.5 990.2,855.5 989.9,858.5 989.5,861.4 989.1,864.4 988.7,867.4 988.3,870.4 987.9,873.3 987.5,876.3 987.1,879.3 986.7,882.2 986.3,885.2 985.9,888.2 985.5,891.2 985.1,894.1 984.6,897.1 984.2,900.1 983.8,903.0 983.3,906.0 982.8,909.0 982.3,911.9 981.7,914.9 981.2,917.8 980.6,920.8 979.9,923.7 979.2,926.6 978.5,929.5 977.8,932.4 977.1,935.3 976.3,938.3 975.5,941.1 974.7,944.0 973.8,946.9 972.8,949.7 971.7,952.5 970.5,955.3 969.3,958.0 968.0,960.7 966.6,963.4 965.1,966.0 963.6,968.6 962.0,971.1 960.3,973.5 958.4,975.9 956.5,978.2 954.4,980.3 952.2,982.4 949.9,984.3 947.4,986.0 944.9,987.6 942.3,989.2 939.7,990.6 937.0,991.9 934.3,993.1 931.5,994.2 928.6,995.1 925.7,995.9 922.8,996.6 919.9,997.3 916.9,997.9 914.0,998.5 911.0,999.0 908.1,999.4 905.1,999.7 902.1,999.9 899.1,1000.0 896.1,1000.2 893.1,1000.3 890.1,1000.5 887.1,1000.6 884.1,1000.7 881.1,1000.8 878.1,1000.8 875.1,1000.9 872.1,1001.0 869.1,1001.0 866.1,1001.1 863.1,1001.2 860.1,1001.2 857.1,1001.3 854.1,1001.4 851.1,1001.5 848.1,1001.6 845.1,1001.7 842.1,1001.7 839.1,1001.8 836.1,1001.9 833.1,1002.0 830.1,1002.1 827.1,1002.2 824.1,1002.3 821.1,1002.4 818.1,1002.5 815.1,1002.6 812.1,1002.7 809.1,1002.8 806.1,1002.9 803.1,1003.0 800.1,1003.1 797.2,1003.3 794.2,1003.4 791.2,1003.5 788.2,1003.6 785.2,1003.7 782.2,1003.8 779.2,1003.9 776.2,1004.0 773.2,1004.1 770.2,1004.2 767.2,1004.2 764.2,1004.3 761.2,1004.4 758.2,1004.5 755.2,1004.6 752.2,1004.7 749.2,1004.8 746.2,1004.8 743.2,1004.9 740.2,1005.0 737.2,1005.1 734.2,1005.2 731.2,1005.3 728.2,1005.4 725.2,1005.4 722.2,1005.5 719.2,1005.7 716.2,1005.8 713.2,1005.9 710.2,1006.0 707.2,1006.1 704.2,1006.3 701.2,1006.4 698.2,1006.6 695.2,1006.7 692.2,1006.9 689.2,1007.0 686.2,1007.2 683.2,1007.3 680.2,1007.5 677.2,1007.6 674.2,1007.8 671.2,1008.0 668.3,1008.3 665.3,1008.6 662.3,1008.9 659.3,1009.3 656.4,1009.8 653.4,1010.3 650.5,1010.9 647.5,1011.6 644.6,1012.3 641.7,1013.1 638.9,1014.0 636.0,1014.9 633.3,1016.1 630.5,1017.3 627.8,1018.6 625.2,1020.1 622.7,1021.7 620.2,1023.4 617.8,1025.2 615.5,1027.1 613.4,1029.2 611.3,1031.3 609.3,1033.6 607.4,1035.9 605.6,1038.4 604.0,1040.8 602.4,1043.4 600.9,1046.0 599.5,1048.6 598.1,1051.3 596.9,1054.1 595.8,1056.9 594.8,1059.7 593.9,1062.5 593.0,1065.4 592.1,1068.3 591.3,1071.1 590.5,1074.0 589.6,1076.9 588.8,1079.8 588.0,1082.7 587.2,1085.6 586.4,1088.5 585.7,1091.4 584.9,1094.3 584.2,1097.2 583.5,1100.1 582.8,1103.0 582.1,1106.0 581.4,1108.9 580.7,1111.8 580.1,1114.7 579.4,1117.6 578.7,1120.6 578.1,1123.5 577.4,1126.4 576.8,1129.3 576.1,1132.3 575.5,1135.2 574.9,1138.1 574.3,1141.1 573.7,1144.0 573.1,1147.0 572.5,1149.9 572.0,1152.9 571.5,1155.8 571.0,1158.8 570.5,1161.7 570.0,1164.7 569.5,1167.7 569.0,1170.6 568.6,1173.6 568.0,1176.5 567.5,1179.5 566.9,1182.4 566.4,1185.4 565.8,1188.3 565.1,1191.3 564.5,1194.2 563.9,1197.1 563.2,1200.0 562.5,1203.0 561.8,1205.9 561.0,1208.8 560.0,1211.6 559.0,1214.4 557.8,1217.2 556.2,1219.6 553.9,1221.1 551.3,1220.7 549.2,1218.8 547.8,1216.3 546.6,1213.5 545.6,1210.7 544.7,1207.8 544.0,1204.9 543.2,1202.0 542.6,1199.1 541.9,1196.1 541.3,1193.2 540.7,1190.3 540.1,1187.3 539.5,1184.4 538.9,1181.4 538.3,1178.5 537.7,1175.6 537.1,1172.6 536.6,1169.7 536.0,1166.7 535.4,1163.8 534.9,1160.8 534.3,1157.9 533.6,1155.0 533.0,1152.0 532.3,1149.1 531.5,1146.2 530.8,1143.3 530.0,1140.4 529.2,1137.5 528.4,1134.6 527.5,1131.8 526.6,1128.9 525.7,1126.0 524.8,1123.2 523.9,1120.3 522.9,1117.5 521.9,1114.7 520.8,1111.9 519.8,1109.0 518.7,1106.3 517.6,1103.5 516.4,1100.7 515.2,1098.0 514.0,1095.2 512.7,1092.5 511.3,1089.8 510.0,1087.2 508.6,1084.5 507.2,1081.8 505.8,1079.2 504.5,1076.5 503.1,1073.8 501.8,1071.1 500.4,1068.5 499.1,1065.8 497.7,1063.1 496.4,1060.4 495.1,1057.7 493.9,1055.0 492.7,1052.2 491.6,1049.4 490.5,1046.6 489.3,1043.9 488.1,1041.1 486.7,1038.5 485.2,1035.9 483.6,1033.4 481.8,1030.9 479.9,1028.6 477.8,1026.5 475.6,1024.4 473.3,1022.5 470.9,1020.7 468.4,1019.1 465.8,1017.6 463.2,1016.2 460.4,1015.0 457.6,1014.0 454.7,1013.2 451.8,1012.5 448.8,1011.9 445.9,1011.4 442.9,1011.0 439.9,1010.7 436.9,1010.5 433.9,1010.3 430.9,1010.1 427.9,1010.0 424.9,1010.0 422.0,1009.9 419.0,1009.9 416.0,1009.9 413.0,1010.0 410.0,1010.1 407.0,1010.3 404.0,1010.5 401.0,1010.7 398.0,1011.0 395.0,1011.3 392.0,1011.6 389.0,1012.0 386.1,1012.4 383.1,1012.8 380.1,1013.2 377.2,1013.6 374.2,1014.0 371.2,1014.5 368.3,1015.1 365.3,1015.7 362.4,1016.3 359.5,1017.1 356.7,1018.0 353.8,1019.0 351.1,1020.3 348.4,1021.6 345.8,1023.1 343.3,1024.7 340.8,1026.3 338.3,1028.0 336.1,1029.5 335.6,1029.8" fill="none" stroke="#5a5b5f" stroke-width="3.5" stroke-linejoin="round" stroke-linecap="round"/><path d="M336.4,1025.1 337.0,1022.9 337.8,1020.1 338.8,1017.3 340.0,1014.5 341.5,1011.9 343.3,1009.6 345.4,1007.5 347.8,1005.6 350.3,1003.9 352.9,1002.4 355.6,1001.1 358.3,1000.0 361.2,999.1 364.1,998.4 367.1,997.9 370.0,997.5 373.0,997.2 376.0,997.0 379.0,996.8 382.0,996.6 385.0,996.4 388.0,996.1 391.0,995.9 394.0,995.7 397.0,995.5 400.0,995.4 403.0,995.3 405.9,995.2 408.9,995.1 411.9,995.0 414.9,994.9 417.9,994.8 420.9,994.7 423.9,994.6 426.9,994.6 429.9,994.5 432.9,994.4 435.9,994.3 438.9,994.2 441.9,994.1 444.9,994.0 447.9,993.9 450.9,993.8 453.9,993.8 456.9,993.7 459.9,993.6 462.9,993.5 465.9,993.4 468.9,993.4 471.9,993.3 474.9,993.2 477.9,993.1 480.9,993.0 483.9,992.9 486.9,992.8 489.9,992.7 492.9,992.6 495.9,992.5 498.9,992.3 501.9,992.2 504.9,992.0 507.9,991.9 510.9,991.7 513.9,991.6 516.9,991.5 519.9,991.5 522.9,991.4 525.9,991.4 528.9,991.5 531.9,991.5 534.9,991.6 537.9,991.7 540.9,991.7 543.9,991.8 546.9,991.9 549.9,991.9 552.9,992.0 555.9,992.0 558.9,992.0 561.9,992.0 564.9,992.0 567.9,992.1 570.9,992.1 573.9,992.1 576.9,992.2 579.9,992.2 582.9,992.3 585.9,992.3 588.9,992.4 591.9,992.4 594.9,992.5 597.9,992.5 600.9,992.6 603.9,992.6 606.9,992.7 609.9,992.7 612.9,992.7 615.9,992.8 618.9,992.8 621.9,992.8 624.9,992.8 627.9,992.9 630.9,992.9 633.9,992.9 636.9,992.8 639.9,992.8 642.9,992.8 645.9,992.7 648.9,992.7 651.9,992.6 654.9,992.5 657.9,992.4 660.9,992.3 663.9,992.1 666.9,991.9 669.8,991.7 672.8,991.4 675.8,991.0 678.8,990.6 681.7,990.0 684.6,989.3 687.5,988.5 690.4,987.5 693.1,986.4 695.8,985.1 698.4,983.6 701.0,982.1 703.5,980.4 705.9,978.6 708.2,976.6 710.4,974.6 712.6,972.6 714.7,970.5 716.9,968.4 719.0,966.3 721.1,964.1 723.1,961.9 725.1,959.6 727.1,957.4 729.0,955.1 731.0,952.8 732.8,950.5 734.7,948.1 736.5,945.7 738.3,943.3 740.1,940.9 742.0,938.6 744.0,936.4 746.1,934.2 748.2,932.1 750.3,930.0 752.6,928.0 754.9,926.1 757.3,924.4 759.9,922.9 762.7,921.7 765.5,920.7 768.4,920.0 771.4,919.5 774.3,919.1 777.3,918.8 780.3,918.5 783.3,918.5 786.3,918.6 789.3,918.9 792.2,919.5 795.1,920.3 798.0,921.2 800.8,922.2 803.6,923.3 806.4,924.3 809.2,925.4 812.1,926.3 814.9,927.3 817.8,928.2 820.6,929.1 823.5,930.1 826.3,930.9 829.2,931.8 832.1,932.6 835.0,933.4 837.9,934.1 840.8,934.7 843.8,935.3 846.7,935.8 849.7,936.3 852.7,936.7 855.7,937.1 858.6,937.4 861.6,937.7 864.6,937.9 867.6,938.1 870.6,938.2 873.6,938.2 876.6,938.3 879.6,938.2 882.6,938.1 885.6,937.9 888.6,937.6 891.5,937.2 894.5,936.5 897.4,935.7 900.2,934.8 903.0,933.7 905.8,932.5 908.5,931.3 911.2,930.0 913.8,928.6 916.5,927.1 919.0,925.6 921.6,924.0 924.1,922.3 926.6,920.6 929.0,918.9 931.4,917.0 933.7,915.2 936.0,913.2 938.3,911.3 940.5,909.2 942.6,907.2 944.7,905.0 946.8,902.8 948.8,900.6 950.7,898.3 952.6,896.0 954.5,893.7 956.4,891.3 958.2,888.9 960.1,886.6 961.9,884.2 963.7,881.8 965.6,879.4 967.4,877.1 969.2,874.7 970.9,872.2 972.6,869.7 974.2,867.2 975.8,864.6 977.3,862.0 978.7,859.4 980.1,856.7 981.4,854.1 982.7,851.3 983.9,848.6 985.0,845.8 985.9,842.9 986.7,840.0 987.4,837.1 988.0,834.2 988.7,831.3 989.3,828.4 989.9,826.0 990.4,826.3 990.4,828.9 990.1,831.8 989.9,834.8 989.6,837.8 989.3,840.8 989.0,843.8 988.7,846.8 988.3,849.8 988.0,852.7 987.7,855.7 987.4,858.7 987.1,861.7 986.7,864.7 986.4,867.6 986.1,870.6 985.8,873.6 985.4,876.6 985.1,879.6 984.7,882.5 984.3,885.5 984.0,888.5 983.6,891.5 983.2,894.4 982.7,897.4 982.3,900.4 981.8,903.3 981.4,906.3 980.9,909.3 980.4,912.2 980.0,915.2 979.5,918.2 979.0,921.1 978.5,924.1 977.9,927.0 977.3,930.0 976.7,932.9 976.0,935.8 975.2,938.7 974.4,941.6 973.5,944.5 972.6,947.3 971.6,950.2 970.6,953.0 969.5,955.8 968.3,958.5 967.0,961.2 965.6,963.9 964.0,966.4 962.3,968.9 960.4,971.2 958.5,973.5 956.4,975.7 954.2,977.7 952.0,979.7 949.7,981.6 947.3,983.4 944.8,985.1 942.3,986.7 939.7,988.2 937.0,989.6 934.3,990.9 931.5,992.1 928.7,993.2 925.9,994.2 923.1,995.2 920.2,996.0 917.3,996.7 914.3,997.3 911.4,997.8 908.4,998.3 905.5,998.9 902.5,999.4 899.6,999.8 896.6,1000.1 893.6,1000.3 890.6,1000.5 887.6,1000.7 884.6,1000.8 881.6,1000.8 878.6,1000.9 875.6,1001.0 872.6,1001.0 869.6,1001.1 866.6,1001.1 863.6,1001.2 860.6,1001.2 857.6,1001.3 854.6,1001.4 851.6,1001.5 848.6,1001.5 845.6,1001.6 842.6,1001.7 839.6,1001.8 836.6,1001.9 833.6,1002.0 830.6,1002.1 827.6,1002.2 824.6,1002.3 821.6,1002.4 818.6,1002.5 815.6,1002.6 812.6,1002.7 809.6,1002.8 806.6,1002.9 803.6,1003.0 800.6,1003.1 797.6,1003.2 794.6,1003.3 791.6,1003.4 788.6,1003.5 785.6,1003.6 782.6,1003.7 779.6,1003.8 776.6,1003.9 773.6,1004.0 770.7,1004.1 767.7,1004.2 764.7,1004.3 761.7,1004.4 758.7,1004.5 755.7,1004.6 752.7,1004.7 749.7,1004.7 746.7,1004.8 743.7,1004.9 740.7,1005.0 737.7,1005.1 734.7,1005.2 731.7,1005.2 728.7,1005.3 725.7,1005.4 722.7,1005.5 719.7,1005.6 716.7,1005.7 713.7,1005.9 710.7,1006.0 707.7,1006.1 704.7,1006.3 701.7,1006.4 698.7,1006.6 695.7,1006.7 692.7,1006.9 689.7,1007.0 686.7,1007.1 683.7,1007.3 680.7,1007.4 677.7,1007.6 674.7,1007.7 671.7,1008.0 668.7,1008.2 665.8,1008.5 662.8,1008.8 659.8,1009.2 656.8,1009.7 653.9,1010.2 651.0,1010.9 648.0,1011.5 645.1,1012.3 642.2,1013.1 639.4,1014.0 636.6,1015.1 633.8,1016.2 631.1,1017.5 628.4,1018.9 625.8,1020.4 623.3,1022.0 620.9,1023.7 618.5,1025.6 616.3,1027.6 614.1,1029.6 612.0,1031.8 610.1,1034.1 608.2,1036.4 606.5,1038.9 604.8,1041.4 603.2,1043.9 601.8,1046.5 600.4,1049.2 599.1,1051.9 597.8,1054.6 596.7,1057.4 595.7,1060.2 594.7,1063.1 593.9,1065.9 593.0,1068.8 592.2,1071.7 591.5,1074.6 590.7,1077.5 590.0,1080.4 589.2,1083.3 588.4,1086.2 587.7,1089.1 586.9,1092.0 586.2,1094.9 585.5,1097.9 584.8,1100.8 584.1,1103.7 583.5,1106.6 582.8,1109.6 582.2,1112.5 581.5,1115.4 580.9,1118.4 580.3,1121.3 579.6,1124.2 579.0,1127.2 578.4,1130.1 577.7,1133.0 577.1,1136.0 576.5,1138.9 575.9,1141.8 575.3,1144.8 574.8,1147.7 574.2,1150.7 573.6,1153.6 573.1,1156.6 572.6,1159.5 572.1,1162.5 571.6,1165.4 571.2,1168.4 570.8,1171.4 570.4,1174.4 570.0,1177.3 569.6,1180.3 569.2,1183.3 568.8,1186.3 568.4,1189.2 567.9,1192.2 567.5,1195.1 567.0,1198.1 566.5,1201.1 565.9,1204.0 565.4,1207.0 564.9,1209.9 564.3,1212.9 563.7,1215.8 563.1,1218.7 562.3,1221.7 561.5,1224.5 560.6,1227.4 559.7,1230.2 558.6,1233.0 557.2,1235.7 555.3,1237.8 552.8,1238.7 550.4,1237.6 548.6,1235.4 547.3,1232.7 546.2,1229.9 545.3,1227.0 544.4,1224.2 543.6,1221.3 542.8,1218.4 542.2,1215.4 541.6,1212.5 541.0,1209.6 540.5,1206.6 539.9,1203.7 539.4,1200.7 538.8,1197.8 538.2,1194.8 537.7,1191.9 537.1,1188.9 536.6,1186.0 536.0,1183.0 535.5,1180.1 535.0,1177.1 534.4,1174.2 533.8,1171.2 533.2,1168.3 532.6,1165.4 531.9,1162.4 531.3,1159.5 530.6,1156.6 529.9,1153.7 529.2,1150.7 528.4,1147.8 527.7,1144.9 526.9,1142.0 526.1,1139.1 525.3,1136.2 524.5,1133.4 523.7,1130.5 522.9,1127.6 522.0,1124.7 521.1,1121.9 520.2,1119.0 519.3,1116.1 518.3,1113.3 517.3,1110.5 516.3,1107.7 515.2,1104.9 514.0,1102.1 512.8,1099.3 511.6,1096.6 510.3,1093.9 509.1,1091.2 507.8,1088.4 506.6,1085.7 505.4,1083.0 504.1,1080.2 502.9,1077.5 501.7,1074.8 500.5,1072.0 499.3,1069.3 498.0,1066.5 496.8,1063.8 495.6,1061.0 494.4,1058.3 493.2,1055.5 492.0,1052.8 490.9,1050.0 489.7,1047.3 488.4,1044.5 487.1,1041.8 485.8,1039.1 484.5,1036.4 483.2,1033.8 481.7,1031.1 480.1,1028.6 478.2,1026.3 476.0,1024.2 473.7,1022.3 471.3,1020.5 468.8,1018.9 466.2,1017.5 463.5,1016.1 460.7,1015.0 457.9,1014.0 455.0,1013.1 452.1,1012.3 449.2,1011.7 446.2,1011.2 443.3,1010.8 440.3,1010.5 437.3,1010.3 434.3,1010.1 431.3,1009.9 428.3,1009.8 425.3,1009.7 422.3,1009.6 419.3,1009.5 416.3,1009.4 413.3,1009.4 410.3,1009.4 407.3,1009.4 404.3,1009.4 401.3,1009.5 398.3,1009.7 395.3,1009.8 392.3,1010.0 389.3,1010.3 386.4,1010.6 383.4,1010.9 380.4,1011.2 377.4,1011.6 374.4,1012.1 371.5,1012.5 368.5,1013.1 365.6,1013.7 362.7,1014.3 359.8,1015.1 356.9,1016.0 354.1,1016.9 351.3,1018.0 348.5,1019.2 345.7,1020.4 343.0,1021.6 340.3,1022.9 337.9,1024.0 337.4,1024.3" fill="none" stroke="#d84a64" stroke-width="3.5" stroke-linejoin="round" stroke-linecap="round"/><path d="M334.3,1032.2 334.3,1029.9 334.2,1027.0 334.2,1024.0 334.2,1021.0 334.3,1018.0 334.3,1015.0 334.3,1012.0 334.9,1009.1 336.2,1006.5 338.3,1004.4 340.6,1002.5 343.0,1000.7 345.5,999.1 348.1,997.6 350.8,996.2 353.5,995.0 356.3,993.9 359.2,993.0 362.1,992.3 365.0,991.6 368.0,991.0 370.9,990.5 373.9,990.1 376.9,989.8 379.9,989.5 382.9,989.3 385.9,989.2 388.9,989.0 391.9,988.9 394.8,988.8 397.8,988.7 400.8,988.5 403.8,988.4 406.8,988.3 409.8,988.2 412.8,988.1 415.8,988.0 418.8,988.0 421.8,987.9 424.8,987.9 427.8,987.8 430.8,987.8 433.8,987.7 436.8,987.7 439.8,987.6 442.8,987.6 445.8,987.6 448.8,987.5 451.8,987.5 454.8,987.4 457.8,987.3 460.8,987.3 463.8,987.2 466.8,987.2 469.8,987.1 472.8,987.1 475.8,987.0 478.8,986.9 481.8,986.9 484.8,986.8 487.8,986.8 490.8,986.7 493.8,986.7 496.8,986.7 499.8,986.6 502.8,986.6 505.8,986.6 508.8,986.6 511.8,986.6 514.8,986.6 517.8,986.7 520.8,986.7 523.8,986.8 526.8,986.9 529.8,987.0 532.8,987.2 535.8,987.3 538.8,987.5 541.8,987.7 544.8,987.9 547.8,988.0 550.8,988.2 553.8,988.3 556.8,988.4 559.8,988.5 562.8,988.6 565.8,988.7 568.8,988.8 571.8,988.9 574.8,989.0 577.8,989.1 580.8,989.2 583.8,989.4 586.8,989.5 589.8,989.6 592.8,989.7 595.8,989.9 598.7,990.0 601.7,990.1 604.7,990.2 607.7,990.3 610.7,990.4 613.7,990.5 616.7,990.6 619.7,990.7 622.7,990.8 625.7,990.9 628.7,990.9 631.7,991.0 634.7,991.0 637.7,991.0 640.7,991.1 643.7,991.0 646.7,991.0 649.7,991.0 652.7,990.9 655.7,990.8 658.7,990.7 661.7,990.6 664.7,990.4 667.7,990.2 670.7,989.9 673.7,989.5 676.6,989.0 679.6,988.4 682.5,987.6 685.3,986.6 688.0,985.5 690.7,984.1 693.3,982.5 695.7,980.8 698.2,979.1 700.6,977.3 703.0,975.5 705.3,973.6 707.5,971.6 709.7,969.5 711.8,967.4 713.9,965.2 715.9,963.0 717.8,960.7 719.6,958.3 721.4,955.9 723.2,953.5 724.9,951.0 726.7,948.6 728.4,946.1 730.2,943.7 732.0,941.3 733.8,938.9 735.5,936.5 737.3,934.1 739.1,931.7 740.9,929.3 742.7,926.9 744.6,924.5 746.4,922.2 748.2,919.8 750.0,917.3 751.8,914.9 753.7,912.6 755.7,910.4 757.8,908.3 760.2,906.5 762.8,905.0 765.5,903.8 768.4,902.9 771.3,902.2 774.3,901.6 777.2,901.2 780.2,901.0 783.2,901.0 786.2,901.1 789.2,901.4 792.2,901.9 795.1,902.5 798.0,903.2 800.9,904.1 803.7,904.9 806.6,905.9 809.5,906.8 812.3,907.7 815.2,908.6 818.0,909.7 820.8,910.7 823.6,911.8 826.4,912.9 829.2,913.9 832.0,914.9 834.9,915.8 837.8,916.6 840.7,917.2 843.7,917.8 846.6,918.4 849.6,918.8 852.5,919.2 855.5,919.6 858.5,919.9 861.5,920.2 864.5,920.4 867.5,920.5 870.5,920.6 873.5,920.6 876.5,920.6 879.5,920.6 882.5,920.5 885.5,920.3 888.5,920.2 891.5,920.1 894.5,919.9 897.4,919.5 900.3,918.7 903.1,917.7 905.9,916.5 908.6,915.1 911.2,913.7 913.8,912.2 916.3,910.6 918.8,908.9 921.3,907.2 923.7,905.5 926.1,903.7 928.5,901.8 930.8,899.9 933.1,898.0 935.3,895.9 937.4,893.8 939.5,891.6 941.4,889.4 943.3,887.0 945.1,884.6 946.8,882.2 948.4,879.6 950.0,877.1 951.5,874.5 953.0,871.9 954.4,869.2 955.8,866.6 957.2,863.9 958.5,861.2 959.8,858.5 961.0,855.8 962.3,853.1 963.5,850.3 964.7,847.6 965.8,844.8 966.9,842.0 967.9,839.2 968.9,836.3 969.9,833.5 970.8,830.6 971.6,827.8 972.5,824.9 973.3,822.0 974.1,819.1 974.9,816.2 975.7,813.3 976.5,810.4 977.2,807.5 977.9,804.6 978.6,801.7 979.2,798.7 979.9,795.8 980.5,792.9 981.2,790.0 981.8,787.0 982.5,784.1 983.1,781.2 983.8,778.2 984.4,775.3 985.0,772.4 985.5,769.4 986.1,766.5 986.7,763.5 987.4,760.7 988.1,758.6 988.6,759.4 988.6,762.1 988.5,765.1 988.3,768.1 988.1,771.1 987.8,774.1 987.6,777.1 987.4,780.1 987.1,783.1 986.9,786.1 986.6,789.1 986.4,792.1 986.1,795.0 985.9,798.0 985.6,801.0 985.4,804.0 985.1,807.0 984.9,810.0 984.6,813.0 984.4,816.0 984.1,819.0 983.8,821.9 983.6,824.9 983.3,827.9 983.0,830.9 982.7,833.9 982.4,836.9 982.0,839.9 981.7,842.8 981.4,845.8 981.0,848.8 980.6,851.8 980.3,854.8 979.9,857.7 979.5,860.7 979.0,863.7 978.6,866.6 978.2,869.6 977.7,872.6 977.3,875.5 976.8,878.5 976.3,881.5 975.8,884.4 975.3,887.4 974.8,890.3 974.3,893.3 973.8,896.3 973.3,899.2 972.8,902.2 972.3,905.1 971.8,908.1 971.3,911.0 970.8,914.0 970.2,916.9 969.6,919.9 969.0,922.8 968.4,925.7 967.7,928.7 966.9,931.6 966.1,934.5 965.3,937.3 964.4,940.2 963.5,943.1 962.6,945.9 961.6,948.8 960.6,951.6 959.5,954.4 958.4,957.1 957.1,959.9 955.7,962.5 954.2,965.1 952.6,967.6 950.8,970.1 949.0,972.4 947.0,974.7 945.0,976.9 942.9,979.1 940.7,981.1 938.4,983.1 936.1,985.0 933.7,986.7 931.2,988.4 928.6,989.9 925.9,991.3 923.2,992.5 920.4,993.6 917.6,994.5 914.7,995.4 911.8,996.2 908.9,997.0 906.0,997.6 903.0,998.1 900.0,998.5 897.1,998.8 894.1,999.1 891.1,999.4 888.1,999.6 885.1,999.8 882.1,1000.0 879.1,1000.2 876.1,1000.3 873.1,1000.5 870.1,1000.6 867.1,1000.8 864.1,1000.9 861.1,1001.0 858.1,1001.1 855.1,1001.3 852.1,1001.4 849.2,1001.5 846.2,1001.7 843.2,1001.8 840.2,1001.9 837.2,1002.0 834.2,1002.1 831.2,1002.2 828.2,1002.3 825.2,1002.4 822.2,1002.5 819.2,1002.6 816.2,1002.7 813.2,1002.8 810.2,1002.9 807.2,1003.0 804.2,1003.1 801.2,1003.2 798.2,1003.3 795.2,1003.4 792.2,1003.5 789.2,1003.5 786.2,1003.6 783.2,1003.7 780.2,1003.8 777.2,1003.9 774.2,1004.0 771.2,1004.1 768.2,1004.2 765.2,1004.3 762.2,1004.3 759.2,1004.4 756.2,1004.5 753.2,1004.5 750.2,1004.6 747.2,1004.6 744.2,1004.7 741.2,1004.8 738.2,1004.8 735.2,1004.9 732.2,1005.0 729.2,1005.0 726.2,1005.1 723.2,1005.2 720.2,1005.3 717.2,1005.4 714.2,1005.6 711.2,1005.7 708.2,1005.9 705.2,1006.1 702.2,1006.3 699.2,1006.6 696.3,1006.8 693.3,1007.1 690.3,1007.4 687.3,1007.7 684.3,1008.0 681.3,1008.3 678.4,1008.7 675.4,1009.1 672.4,1009.5 669.5,1010.0 666.5,1010.5 663.6,1011.1 660.6,1011.7 657.7,1012.5 654.8,1013.2 651.9,1014.1 649.1,1015.0 646.2,1016.0 643.4,1017.0 640.7,1018.2 638.0,1019.5 635.3,1020.9 632.7,1022.4 630.2,1024.0 627.8,1025.8 625.5,1027.7 623.2,1029.7 621.1,1031.8 619.0,1034.0 617.1,1036.2 615.2,1038.6 613.4,1041.0 611.8,1043.5 610.2,1046.0 608.7,1048.7 607.4,1051.3 606.1,1054.0 604.9,1056.8 603.7,1059.5 602.6,1062.3 601.5,1065.1 600.6,1068.0 599.7,1070.9 598.9,1073.7 598.1,1076.6 597.4,1079.5 596.7,1082.5 596.0,1085.4 595.3,1088.3 594.6,1091.2 594.0,1094.2 593.3,1097.1 592.6,1100.0 591.9,1102.9 591.3,1105.8 590.6,1108.8 590.0,1111.7 589.4,1114.6 588.8,1117.6 588.2,1120.5 587.6,1123.5 587.0,1126.4 586.4,1129.3 585.8,1132.3 585.2,1135.2 584.6,1138.2 584.1,1141.1 583.5,1144.1 583.0,1147.0 582.4,1150.0 581.9,1152.9 581.3,1155.9 580.8,1158.8 580.3,1161.8 579.7,1164.7 579.2,1167.7 578.6,1170.6 578.1,1173.6 577.6,1176.5 577.0,1179.5 576.5,1182.4 576.0,1185.4 575.5,1188.3 574.9,1191.3 574.4,1194.3 573.9,1197.2 573.4,1200.2 572.8,1203.1 572.3,1206.1 571.8,1209.0 571.3,1212.0 570.7,1214.9 570.2,1217.9 569.7,1220.8 569.1,1223.8 568.6,1226.7 568.0,1229.7 567.4,1232.6 566.8,1235.6 566.2,1238.5 565.6,1241.4 564.9,1244.3 564.2,1247.3 563.5,1250.2 562.8,1253.1 562.0,1256.0 561.3,1258.9 560.4,1261.8 559.4,1264.6 558.3,1267.4 556.9,1270.0 554.8,1271.9 552.3,1272.3 549.9,1270.9 548.3,1268.5 547.0,1265.8 546.0,1263.0 545.1,1260.1 544.3,1257.3 543.5,1254.3 542.8,1251.4 542.1,1248.5 541.4,1245.6 540.8,1242.7 540.1,1239.7 539.4,1236.8 538.8,1233.9 538.2,1231.0 537.6,1228.0 537.0,1225.1 536.4,1222.1 535.9,1219.2 535.3,1216.2 534.7,1213.3 534.1,1210.3 533.5,1207.4 532.9,1204.5 532.3,1201.5 531.7,1198.6 531.0,1195.7 530.4,1192.7 529.7,1189.8 529.1,1186.9 528.4,1184.0 527.7,1181.0 527.0,1178.1 526.3,1175.2 525.6,1172.3 524.8,1169.4 524.1,1166.5 523.3,1163.6 522.5,1160.7 521.7,1157.8 520.8,1154.9 520.0,1152.1 519.1,1149.2 518.2,1146.3 517.3,1143.5 516.4,1140.6 515.5,1137.7 514.6,1134.9 513.6,1132.1 512.6,1129.2 511.6,1126.4 510.6,1123.6 509.5,1120.8 508.5,1117.9 507.5,1115.1 506.5,1112.3 505.6,1109.4 504.6,1106.6 503.6,1103.8 502.6,1100.9 501.6,1098.1 500.6,1095.3 499.6,1092.5 498.6,1089.6 497.7,1086.8 496.7,1083.9 495.8,1081.1 494.8,1078.2 493.9,1075.4 492.9,1072.6 491.9,1069.7 490.8,1066.9 489.6,1064.2 488.3,1061.5 486.9,1058.9 485.4,1056.2 484.0,1053.6 482.7,1050.9 481.5,1048.1 480.2,1045.4 478.9,1042.7 477.4,1040.1 475.7,1037.6 474.0,1035.2 472.1,1032.9 470.1,1030.6 468.0,1028.5 465.7,1026.6 463.2,1024.9 460.7,1023.3 458.0,1021.9 455.3,1020.7 452.5,1019.7 449.6,1018.8 446.7,1018.1 443.7,1017.5 440.8,1017.1 437.8,1016.7 434.8,1016.4 431.8,1016.1 428.8,1015.9 425.8,1015.7 422.8,1015.5 419.8,1015.3 416.9,1015.1 413.9,1015.0 410.9,1014.9 407.9,1014.9 404.9,1015.0 401.9,1015.1 398.9,1015.3 395.9,1015.6 392.9,1015.9 389.9,1016.3 387.0,1016.8 384.0,1017.3 381.1,1017.8 378.1,1018.4 375.2,1019.0 372.3,1019.7 369.3,1020.4 366.4,1021.2 363.6,1022.0 360.7,1022.9 357.9,1023.9 355.1,1025.0 352.3,1026.1 349.5,1027.3 346.8,1028.5 344.1,1029.7 341.3,1031.0 338.6,1032.2 336.2,1033.4 335.7,1033.6" fill="none" stroke="#62b680" stroke-width="3.5" stroke-linejoin="round" stroke-linecap="round"/><path d="M334.3,1029.7 334.3,1027.4 334.2,1024.5 334.2,1021.5 334.3,1018.5 334.3,1015.5 334.4,1012.5 335.0,1009.7 336.5,1007.2 338.7,1005.1 341.1,1003.3 343.6,1001.7 346.1,1000.1 348.8,998.7 351.5,997.4 354.2,996.2 357.1,995.2 359.9,994.3 362.8,993.6 365.8,993.0 368.7,992.4 371.7,991.9 374.6,991.6 377.6,991.2 380.6,991.0 383.6,990.8 386.6,990.6 389.6,990.5 392.6,990.4 395.6,990.2 398.6,990.1 401.6,990.0 404.6,989.9 407.6,989.8 410.6,989.7 413.6,989.6 416.6,989.5 419.6,989.5 422.6,989.4 425.6,989.3 428.6,989.3 431.6,989.3 434.6,989.2 437.6,989.2 440.6,989.1 443.6,989.1 446.6,989.0 449.6,989.0 452.6,988.9 455.6,988.9 458.6,988.8 461.6,988.8 464.6,988.7 467.6,988.7 470.6,988.6 473.6,988.5 476.6,988.5 479.6,988.4 482.6,988.4 485.6,988.3 488.6,988.3 491.6,988.2 494.6,988.2 497.6,988.2 500.6,988.1 503.6,988.1 506.6,988.1 509.6,988.1 512.6,988.1 515.6,988.1 518.6,988.2 521.6,988.2 524.6,988.3 527.6,988.4 530.6,988.5 533.6,988.7 536.6,988.9 539.6,989.1 542.5,989.3 545.5,989.4 548.5,989.6 551.5,989.7 554.5,989.8 557.5,989.9 560.5,990.0 563.5,990.1 566.5,990.2 569.5,990.2 572.5,990.3 575.5,990.4 578.5,990.5 581.5,990.6 584.5,990.7 587.5,990.8 590.5,990.9 593.5,991.0 596.5,991.1 599.5,991.2 602.5,991.2 605.5,991.3 608.5,991.4 611.5,991.5 614.5,991.5 617.5,991.6 620.5,991.7 623.5,991.7 626.5,991.7 629.5,991.8 632.5,991.8 635.5,991.8 638.5,991.8 641.5,991.8 644.5,991.8 647.5,991.7 650.5,991.7 653.5,991.6 656.5,991.5 659.5,991.4 662.5,991.2 665.5,991.0 668.5,990.8 671.5,990.5 674.4,990.1 677.4,989.7 680.4,989.1 683.3,988.4 686.1,987.5 688.9,986.5 691.7,985.2 694.3,983.8 696.9,982.3 699.4,980.6 701.8,978.9 704.2,977.1 706.5,975.1 708.6,973.0 710.8,970.9 712.8,968.7 714.9,966.6 717.0,964.4 719.0,962.2 721.0,959.9 722.9,957.6 724.8,955.3 726.7,953.0 728.6,950.7 730.5,948.3 732.3,946.0 734.1,943.6 735.9,941.2 737.7,938.7 739.5,936.3 741.2,933.9 743.1,931.5 744.9,929.1 746.7,926.8 748.5,924.3 750.3,921.9 752.1,919.5 753.9,917.2 756.0,915.0 758.2,912.9 760.6,911.3 763.3,910.0 766.1,909.0 769.1,908.4 772.0,908.0 775.0,907.8 778.0,907.9 781.0,908.2 783.9,908.7 786.9,909.4 789.8,910.2 792.6,911.1 795.5,912.1 798.3,913.1 801.0,914.2 803.8,915.4 806.6,916.6 809.3,917.7 812.1,918.8 814.9,920.0 817.7,921.1 820.4,922.3 823.2,923.5 825.9,924.7 828.7,925.8 831.5,926.9 834.3,928.0 837.2,928.9 840.1,929.7 843.0,930.5 845.9,931.2 848.8,931.9 851.7,932.4 854.7,933.0 857.7,933.4 860.6,933.8 863.6,934.1 866.6,934.3 869.6,934.5 872.6,934.6 875.6,934.6 878.6,934.6 881.6,934.5 884.6,934.3 887.6,934.0 890.5,933.5 893.4,932.8 896.3,931.9 899.1,930.9 901.9,929.8 904.7,928.7 907.4,927.5 910.2,926.2 912.8,924.8 915.5,923.4 918.1,921.9 920.7,920.4 923.2,918.8 925.7,917.1 928.1,915.4 930.5,913.6 932.9,911.8 935.2,909.8 937.5,907.9 939.7,905.8 941.8,903.7 943.9,901.5 945.8,899.3 947.8,897.0 949.6,894.6 951.5,892.2 953.2,889.8 955.0,887.4 956.7,884.9 958.3,882.4 959.9,879.8 961.4,877.3 962.9,874.7 964.3,872.0 965.7,869.4 967.0,866.6 968.2,863.9 969.3,861.1 970.4,858.3 971.3,855.5 972.3,852.6 973.2,849.8 974.1,846.9 974.9,844.0 975.7,841.1 976.5,838.2 977.2,835.3 977.9,832.4 978.5,829.5 979.2,826.5 979.8,823.6 980.4,820.7 981.0,817.7 981.6,814.8 982.1,811.8 982.7,808.9 983.3,805.9 983.8,803.0 984.4,800.0 985.0,797.1 985.6,794.2 986.1,791.2 986.7,788.3 987.2,785.3 987.7,782.3 988.2,779.4 988.7,776.4 989.2,773.5 989.7,770.5 990.2,767.6 990.8,764.9 991.5,764.1 991.7,766.2 991.6,769.2 991.5,772.2 991.3,775.2 991.1,778.2 991.0,781.2 990.8,784.2 990.6,787.2 990.4,790.2 990.2,793.2 989.9,796.1 989.7,799.1 989.5,802.1 989.3,805.1 989.1,808.1 988.8,811.1 988.6,814.1 988.4,817.1 988.1,820.1 987.9,823.1 987.6,826.1 987.4,829.0 987.1,832.0 986.8,835.0 986.5,838.0 986.2,841.0 985.9,844.0 985.6,847.0 985.2,849.9 984.9,852.9 984.5,855.9 984.2,858.9 983.8,861.9 983.4,864.8 983.1,867.8 982.7,870.8 982.3,873.8 981.9,876.7 981.4,879.7 981.0,882.7 980.6,885.6 980.1,888.6 979.7,891.6 979.2,894.5 978.7,897.5 978.1,900.4 977.6,903.4 977.1,906.3 976.5,909.3 976.0,912.2 975.4,915.2 974.9,918.1 974.3,921.1 973.7,924.0 973.0,926.9 972.3,929.9 971.6,932.8 970.8,935.7 969.9,938.5 969.0,941.4 968.1,944.2 967.1,947.1 966.0,949.9 964.9,952.7 963.8,955.4 962.6,958.2 961.3,960.9 959.9,963.6 958.5,966.2 956.9,968.7 955.1,971.2 953.3,973.5 951.3,975.8 949.3,978.0 947.2,980.1 945.0,982.1 942.7,984.1 940.3,985.9 937.9,987.7 935.4,989.3 932.8,990.9 930.1,992.2 927.4,993.5 924.6,994.6 921.8,995.6 918.9,996.5 916.1,997.3 913.1,998.1 910.2,998.8 907.3,999.3 904.3,999.7 901.3,999.9 898.3,1000.1 895.3,1000.2 892.3,1000.4 889.3,1000.5 886.3,1000.6 883.3,1000.7 880.3,1000.8 877.3,1000.9 874.3,1001.0 871.3,1001.0 868.3,1001.1 865.3,1001.1 862.3,1001.2 859.3,1001.3 856.3,1001.3 853.3,1001.4 850.3,1001.5 847.3,1001.6 844.3,1001.7 841.3,1001.8 838.3,1001.9 835.3,1002.0 832.3,1002.1 829.4,1002.2 826.4,1002.3 823.4,1002.4 820.4,1002.5 817.4,1002.6 814.4,1002.7 811.4,1002.8 808.4,1002.9 805.4,1003.0 802.4,1003.1 799.4,1003.2 796.4,1003.3 793.4,1003.4 790.4,1003.5 787.4,1003.6 784.4,1003.7 781.4,1003.8 778.4,1003.9 775.4,1004.0 772.4,1004.1 769.4,1004.2 766.4,1004.3 763.4,1004.3 760.4,1004.4 757.4,1004.5 754.4,1004.6 751.4,1004.7 748.4,1004.7 745.4,1004.8 742.4,1004.9 739.4,1005.0 736.4,1005.0 733.4,1005.1 730.4,1005.2 727.4,1005.3 724.4,1005.4 721.4,1005.5 718.4,1005.6 715.4,1005.7 712.4,1005.9 709.4,1006.0 706.4,1006.1 703.4,1006.3 700.4,1006.5 697.4,1006.7 694.4,1006.8 691.4,1007.0 688.4,1007.2 685.5,1007.4 682.5,1007.6 679.5,1007.8 676.5,1008.0 673.5,1008.3 670.5,1008.6 667.5,1008.9 664.5,1009.3 661.6,1009.8 658.6,1010.3 655.7,1010.9 652.8,1011.6 649.9,1012.3 647.0,1013.1 644.1,1014.0 641.3,1015.0 638.5,1016.0 635.7,1017.2 633.0,1018.5 630.4,1019.9 627.8,1021.4 625.2,1023.0 622.7,1024.7 620.3,1026.5 618.0,1028.4 615.8,1030.4 613.7,1032.6 611.8,1034.8 609.9,1037.2 608.2,1039.7 606.6,1042.2 605.1,1044.8 603.7,1047.4 602.3,1050.1 601.0,1052.8 599.8,1055.5 598.6,1058.3 597.6,1061.1 596.6,1063.9 595.7,1066.8 594.8,1069.7 594.0,1072.6 593.2,1075.5 592.4,1078.4 591.7,1081.3 590.9,1084.2 590.1,1087.1 589.3,1090.0 588.6,1092.9 587.9,1095.8 587.1,1098.7 586.4,1101.6 585.8,1104.5 585.1,1107.4 584.4,1110.4 583.8,1113.3 583.1,1116.2 582.5,1119.2 581.9,1122.1 581.2,1125.0 580.6,1128.0 580.0,1130.9 579.5,1133.9 578.9,1136.8 578.3,1139.7 577.8,1142.7 577.2,1145.6 576.7,1148.6 576.2,1151.5 575.6,1154.5 575.1,1157.5 574.6,1160.4 574.0,1163.4 573.5,1166.3 573.0,1169.3 572.5,1172.2 572.0,1175.2 571.5,1178.1 571.0,1181.1 570.5,1184.1 570.0,1187.0 569.5,1190.0 569.0,1192.9 568.5,1195.9 567.9,1198.8 567.4,1201.8 566.9,1204.8 566.4,1207.7 566.0,1210.7 565.5,1213.6 564.9,1216.6 564.4,1219.5 563.8,1222.5 563.2,1225.4 562.6,1228.3 561.8,1231.2 560.9,1234.1 559.9,1236.9 558.9,1239.8 557.6,1242.5 555.9,1244.8 553.6,1246.1 551.0,1245.6 549.0,1243.6 547.6,1240.9 546.5,1238.2 545.5,1235.3 544.6,1232.5 543.8,1229.6 543.0,1226.7 542.4,1223.8 541.7,1220.8 541.2,1217.9 540.6,1214.9 540.0,1212.0 539.5,1209.0 538.9,1206.1 538.4,1203.1 537.9,1200.2 537.3,1197.2 536.8,1194.3 536.3,1191.3 535.9,1188.4 535.4,1185.4 534.9,1182.4 534.3,1179.5 533.8,1176.5 533.2,1173.6 532.6,1170.6 532.0,1167.7 531.3,1164.8 530.7,1161.9 530.0,1159.0 529.2,1156.0 528.5,1153.1 527.7,1150.2 527.0,1147.3 526.2,1144.4 525.4,1141.5 524.6,1138.6 523.9,1135.7 523.1,1132.8 522.3,1129.9 521.5,1127.1 520.7,1124.2 519.9,1121.3 519.0,1118.4 518.1,1115.5 517.2,1112.7 516.2,1109.9 515.1,1107.0 514.0,1104.3 512.9,1101.5 511.7,1098.7 510.5,1096.0 509.3,1093.2 508.1,1090.5 506.9,1087.7 505.7,1085.0 504.5,1082.2 503.4,1079.5 502.2,1076.7 501.0,1073.9 499.9,1071.2 498.7,1068.4 497.5,1065.6 496.4,1062.9 495.3,1060.1 494.3,1057.3 493.2,1054.4 492.1,1051.7 490.9,1048.9 489.7,1046.2 488.4,1043.5 487.0,1040.8 485.5,1038.2 483.8,1035.7 481.9,1033.5 479.7,1031.4 477.3,1029.6 474.9,1027.8 472.4,1026.1 469.9,1024.6 467.3,1023.0 464.7,1021.4 462.2,1019.8 459.6,1018.3 457.0,1016.9 454.2,1015.7 451.4,1014.8 448.5,1014.1 445.5,1013.6 442.5,1013.3 439.5,1013.2 436.5,1013.1 433.5,1013.1 430.5,1013.1 427.5,1013.1 424.5,1013.1 421.5,1013.0 418.5,1012.9 415.5,1012.8 412.6,1012.6 409.6,1012.4 406.6,1012.2 403.6,1012.0 400.6,1011.9 397.6,1011.8 394.6,1011.8 391.6,1011.9 388.6,1012.1 385.6,1012.3 382.6,1012.6 379.6,1013.0 376.7,1013.4 373.7,1013.9 370.7,1014.4 367.8,1015.0 364.9,1015.7 362.0,1016.4 359.1,1017.2 356.2,1018.1 353.4,1019.2 350.7,1020.4 348.1,1021.8 345.5,1023.4 342.9,1024.9 340.4,1026.6 337.9,1028.2 335.8,1029.8 335.3,1030.1" fill="none" stroke="#5f95cf" stroke-width="3.5" stroke-linejoin="round" stroke-linecap="round"/><rect x="287.5" y="752.5" width="748.0" height="531.9" fill="none" stroke="#231f20" stroke-width="2.8"/><line x1="287.5" y1="819.4" x2="303.5" y2="819.4" stroke="#231f20" stroke-width="2.8"/><text x="276.0" y="836.2" text-anchor="end">0.10</text><line x1="287.5" y1="903.7" x2="303.5" y2="903.7" stroke="#231f20" stroke-width="2.8"/><text x="276.0" y="920.5" text-anchor="end">0.05</text><line x1="287.5" y1="988.0" x2="303.5" y2="988.0" stroke="#231f20" stroke-width="2.8"/><text x="276.0" y="1004.8" text-anchor="end">0</text><line x1="287.5" y1="1072.3" x2="303.5" y2="1072.3" stroke="#231f20" stroke-width="2.8"/><text x="276.0" y="1089.1" text-anchor="end">−0.05</text><line x1="287.5" y1="1156.6" x2="303.5" y2="1156.6" stroke="#231f20" stroke-width="2.8"/><text x="276.0" y="1173.4" text-anchor="end">−0.10</text><line x1="287.5" y1="1240.9" x2="303.5" y2="1240.9" stroke="#231f20" stroke-width="2.8"/><text x="276.0" y="1257.7" text-anchor="end">−0.15</text><line x1="335.5" y1="1284.4" x2="335.5" y2="1268.4" stroke="#231f20" stroke-width="2.8"/><text x="335.5" y="1341.5" text-anchor="middle">0</text><line x1="428.9" y1="1284.4" x2="428.9" y2="1268.4" stroke="#231f20" stroke-width="2.8"/><text x="428.9" y="1341.5" text-anchor="middle">0.2</text><line x1="522.4" y1="1284.4" x2="522.4" y2="1268.4" stroke="#231f20" stroke-width="2.8"/><text x="522.4" y="1341.5" text-anchor="middle">0.4</text><line x1="615.8" y1="1284.4" x2="615.8" y2="1268.4" stroke="#231f20" stroke-width="2.8"/><text x="615.8" y="1341.5" text-anchor="middle">0.6</text><line x1="709.2" y1="1284.4" x2="709.2" y2="1268.4" stroke="#231f20" stroke-width="2.8"/><text x="709.2" y="1341.5" text-anchor="middle">0.8</text><line x1="802.6" y1="1284.4" x2="802.6" y2="1268.4" stroke="#231f20" stroke-width="2.8"/><text x="802.6" y="1341.5" text-anchor="middle">1.0</text><line x1="896.1" y1="1284.4" x2="896.1" y2="1268.4" stroke="#231f20" stroke-width="2.8"/><text x="896.1" y="1341.5" text-anchor="middle">1.2</text><line x1="989.5" y1="1284.4" x2="989.5" y2="1268.4" stroke="#231f20" stroke-width="2.8"/><text x="989.5" y="1341.5" text-anchor="middle">1.4</text><text x="661.5" y="1412.0" text-anchor="middle">Potential/V</text><text transform="translate(121.7,1017.9) rotate(-90)" text-anchor="middle">Current/mA</text><text x="312.3" y="812.0" style="font-size:54.5px">(d)</text><line x1="627.5" y1="1057.3" x2="720.0" y2="1057.3" stroke="#6b6c70" stroke-width="4.8"/><text x="722.8" y="1072.3" style="letter-spacing:-0.15px">5.9×10<tspan font-size="33" dy="-18">−6</tspan><tspan dy="18"> cm</tspan><tspan font-size="33" dy="-18">2</tspan></text><line x1="627.5" y1="1113.8" x2="720.0" y2="1113.8" stroke="#d84a64" stroke-width="4.5"/><text x="722.8" y="1128.8" style="letter-spacing:-0.15px">8.3×10<tspan font-size="33" dy="-18">−6</tspan><tspan dy="18"> cm</tspan><tspan font-size="33" dy="-18">2</tspan></text><line x1="627.5" y1="1170.3" x2="720.0" y2="1170.3" stroke="#66b883" stroke-width="4.5"/><text x="722.8" y="1185.3" style="letter-spacing:-0.15px">1.7×10<tspan font-size="33" dy="-18">−5</tspan><tspan dy="18"> cm</tspan><tspan font-size="33" dy="-18">2</tspan></text><line x1="627.5" y1="1226.8" x2="720.0" y2="1226.8" stroke="#5f95cf" stroke-width="4.0"/><text x="722.8" y="1241.8" style="letter-spacing:-0.15px">3.3×10<tspan font-size="33" dy="-18">−5</tspan><tspan dy="18"> cm</tspan><tspan font-size="33" dy="-18">2</tspan></text></g>
<g><path d="M1356.8,1025.1 1356.8,1022.8 1356.8,1019.9 1356.8,1016.9 1356.9,1013.9 1357.3,1011.0 1358.5,1008.3 1360.4,1006.0 1362.7,1004.1 1365.2,1002.5 1367.9,1001.2 1370.7,1000.2 1373.5,999.3 1376.4,998.5 1379.3,997.7 1382.3,997.1 1385.2,996.5 1388.2,995.9 1391.1,995.5 1394.1,995.0 1397.1,994.7 1400.1,994.4 1403.0,994.1 1406.0,993.9 1409.0,993.8 1412.0,993.7 1415.0,993.5 1418.0,993.4 1421.0,993.3 1424.0,993.2 1427.0,993.1 1430.0,993.0 1433.0,992.9 1436.0,992.8 1439.0,992.7 1442.0,992.6 1445.0,992.5 1448.0,992.4 1451.0,992.3 1454.0,992.3 1457.0,992.2 1460.0,992.1 1463.0,992.0 1466.0,991.9 1469.0,991.8 1472.0,991.7 1475.0,991.7 1478.0,991.6 1481.0,991.5 1484.0,991.4 1487.0,991.3 1490.0,991.2 1493.0,991.1 1496.0,991.0 1499.0,990.9 1502.0,990.8 1505.0,990.7 1508.0,990.7 1511.0,990.6 1514.0,990.5 1517.0,990.5 1520.0,990.4 1523.0,990.4 1526.0,990.3 1529.0,990.3 1532.0,990.3 1535.0,990.2 1538.0,990.2 1541.0,990.2 1544.0,990.2 1547.0,990.1 1550.0,990.1 1553.0,990.1 1556.0,990.1 1559.0,990.1 1562.0,990.1 1565.0,990.1 1568.0,990.1 1571.0,990.1 1574.0,990.1 1577.0,990.1 1580.0,990.1 1583.0,990.1 1586.0,990.1 1589.0,990.1 1592.0,990.1 1595.0,990.0 1598.0,990.0 1601.0,990.0 1604.0,990.0 1607.0,990.0 1610.0,990.0 1613.0,990.0 1616.0,990.1 1619.0,990.1 1622.0,990.2 1625.0,990.2 1628.0,990.3 1631.0,990.3 1634.0,990.4 1637.0,990.4 1640.0,990.5 1643.0,990.5 1646.0,990.6 1649.0,990.6 1652.0,990.6 1655.0,990.6 1658.0,990.7 1661.0,990.7 1664.0,990.7 1667.0,990.6 1670.0,990.6 1673.0,990.5 1676.0,990.5 1679.0,990.4 1682.0,990.2 1685.0,990.1 1688.0,989.9 1690.9,989.6 1693.9,989.3 1696.9,988.9 1699.9,988.4 1702.8,987.7 1705.7,986.9 1708.5,986.0 1711.3,984.8 1714.0,983.5 1716.6,982.1 1719.3,980.7 1721.8,979.1 1724.3,977.5 1726.7,975.7 1729.1,973.8 1731.4,971.9 1733.7,970.0 1736.1,968.1 1738.4,966.3 1740.8,964.4 1743.1,962.5 1745.4,960.6 1747.6,958.6 1749.9,956.6 1752.1,954.5 1754.2,952.4 1756.3,950.3 1758.4,948.1 1760.4,946.0 1762.6,943.8 1764.7,941.8 1766.9,939.7 1769.2,937.7 1771.4,935.7 1773.7,933.8 1776.0,931.9 1778.4,930.1 1780.9,928.4 1783.4,926.8 1786.0,925.3 1788.7,923.9 1791.4,922.7 1794.3,921.8 1797.2,921.2 1800.2,920.8 1803.2,920.7 1806.2,920.8 1809.1,921.0 1812.1,921.2 1815.1,921.5 1818.1,921.9 1821.0,922.4 1824.0,923.0 1826.9,923.7 1829.8,924.5 1832.7,925.3 1835.6,926.2 1838.4,927.2 1841.2,928.2 1844.0,929.3 1846.8,930.4 1849.6,931.4 1852.4,932.4 1855.3,933.3 1858.2,934.2 1861.1,934.9 1864.0,935.6 1866.9,936.3 1869.9,936.9 1872.8,937.5 1875.8,938.0 1878.7,938.5 1881.7,938.9 1884.7,939.3 1887.6,939.6 1890.6,940.0 1893.6,940.3 1896.6,940.5 1899.6,940.7 1902.6,940.7 1905.6,940.4 1908.5,939.9 1911.4,939.0 1914.1,937.8 1916.8,936.5 1919.5,935.2 1922.3,934.0 1925.1,933.0 1927.9,932.0 1930.7,931.0 1933.5,929.9 1936.3,928.8 1939.0,927.5 1941.6,926.1 1944.2,924.5 1946.7,922.8 1949.1,921.1 1951.5,919.3 1953.8,917.4 1956.1,915.4 1958.4,913.4 1960.5,911.3 1962.6,909.2 1964.7,907.1 1966.7,904.8 1968.7,902.6 1970.6,900.3 1972.5,897.9 1974.3,895.6 1976.1,893.2 1977.9,890.7 1979.6,888.2 1981.2,885.7 1982.9,883.2 1984.4,880.6 1985.9,878.0 1987.3,875.4 1988.6,872.7 1989.9,870.0 1991.1,867.3 1992.3,864.5 1993.5,861.7 1994.6,859.0 1995.7,856.2 1996.8,853.4 1997.9,850.6 1999.0,847.8 2000.1,845.0 2001.0,842.1 2001.9,839.3 2002.6,836.4 2003.3,833.4 2003.9,830.5 2004.4,827.5 2004.9,824.6 2005.3,821.6 2005.7,818.6 2006.1,815.7 2006.5,812.7 2006.9,809.7 2007.2,806.7 2007.5,803.7 2007.8,800.8 2008.1,797.8 2008.3,794.8 2008.5,791.8 2008.5,788.9 2008.2,787.5 2007.9,789.0 2007.6,791.9 2007.4,794.9 2007.2,797.9 2007.0,800.9 2006.7,803.9 2006.5,806.9 2006.3,809.9 2006.1,812.9 2005.9,815.9 2005.7,818.9 2005.4,821.9 2005.2,824.8 2005.0,827.8 2004.7,830.8 2004.5,833.8 2004.2,836.8 2003.9,839.8 2003.6,842.8 2003.4,845.8 2003.1,848.8 2002.8,851.7 2002.5,854.7 2002.2,857.7 2001.9,860.7 2001.6,863.7 2001.2,866.7 2000.9,869.6 2000.5,872.6 2000.2,875.6 1999.8,878.6 1999.3,881.5 1998.9,884.5 1998.5,887.5 1998.0,890.4 1997.5,893.4 1997.0,896.4 1996.5,899.3 1996.0,902.3 1995.5,905.2 1994.9,908.2 1994.3,911.1 1993.7,914.1 1993.1,917.0 1992.4,919.9 1991.7,922.8 1991.0,925.7 1990.2,928.6 1989.3,931.5 1988.5,934.4 1987.6,937.3 1986.7,940.1 1985.8,943.0 1984.8,945.8 1983.8,948.6 1982.7,951.4 1981.5,954.2 1980.3,956.9 1979.0,959.6 1977.5,962.2 1976.0,964.8 1974.4,967.4 1972.7,969.8 1971.0,972.3 1969.2,974.7 1967.3,977.0 1965.3,979.2 1963.2,981.4 1961.1,983.5 1958.8,985.4 1956.4,987.3 1953.9,989.0 1951.4,990.5 1948.7,991.9 1946.0,993.2 1943.3,994.4 1940.5,995.4 1937.6,996.4 1934.7,997.1 1931.7,997.6 1928.8,997.9 1925.8,998.1 1922.8,998.4 1919.8,998.8 1916.9,999.4 1914.0,1000.2 1911.1,1000.9 1908.1,1001.4 1905.1,1001.7 1902.1,1002.0 1899.2,1002.1 1896.2,1002.2 1893.2,1002.3 1890.2,1002.4 1887.2,1002.4 1884.2,1002.5 1881.2,1002.5 1878.2,1002.5 1875.2,1002.5 1872.2,1002.5 1869.2,1002.5 1866.2,1002.6 1863.2,1002.6 1860.2,1002.6 1857.2,1002.6 1854.2,1002.6 1851.2,1002.6 1848.2,1002.7 1845.2,1002.7 1842.2,1002.8 1839.2,1002.9 1836.2,1003.0 1833.2,1003.0 1830.2,1003.1 1827.2,1003.2 1824.2,1003.3 1821.2,1003.4 1818.2,1003.5 1815.2,1003.5 1812.2,1003.6 1809.2,1003.7 1806.2,1003.8 1803.2,1003.9 1800.2,1004.0 1797.2,1004.1 1794.2,1004.2 1791.2,1004.2 1788.2,1004.3 1785.2,1004.4 1782.2,1004.5 1779.2,1004.6 1776.2,1004.7 1773.2,1004.8 1770.2,1004.9 1767.2,1005.0 1764.2,1005.1 1761.2,1005.1 1758.2,1005.2 1755.2,1005.3 1752.2,1005.4 1749.2,1005.5 1746.2,1005.6 1743.2,1005.7 1740.2,1005.8 1737.2,1005.9 1734.2,1006.0 1731.2,1006.1 1728.2,1006.2 1725.2,1006.3 1722.2,1006.4 1719.2,1006.5 1716.2,1006.6 1713.2,1006.7 1710.2,1006.7 1707.2,1006.8 1704.2,1006.9 1701.2,1007.1 1698.2,1007.4 1695.3,1007.8 1692.3,1008.2 1689.3,1008.7 1686.4,1009.2 1683.4,1009.8 1680.5,1010.4 1677.6,1011.1 1674.7,1011.9 1671.8,1012.7 1668.9,1013.6 1666.1,1014.5 1663.2,1015.5 1660.4,1016.5 1657.6,1017.6 1654.9,1018.8 1652.2,1020.1 1649.5,1021.5 1647.0,1023.1 1644.4,1024.7 1642.0,1026.4 1639.6,1028.3 1637.4,1030.2 1635.2,1032.3 1633.2,1034.5 1631.3,1036.8 1629.4,1039.2 1627.7,1041.6 1626.0,1044.1 1624.5,1046.7 1622.9,1049.3 1621.5,1051.9 1620.1,1054.6 1618.8,1057.2 1617.5,1060.0 1616.3,1062.7 1615.2,1065.5 1614.1,1068.3 1613.0,1071.1 1612.0,1073.9 1611.0,1076.8 1610.1,1079.6 1609.2,1082.5 1608.4,1085.4 1607.6,1088.2 1606.8,1091.1 1606.0,1094.0 1605.2,1096.9 1604.4,1099.8 1603.7,1102.7 1602.9,1105.6 1602.2,1108.6 1601.5,1111.5 1600.8,1114.4 1600.2,1117.3 1599.5,1120.2 1598.8,1123.2 1598.2,1126.1 1597.5,1129.0 1596.9,1132.0 1596.3,1134.9 1595.7,1137.8 1595.0,1140.8 1594.4,1143.7 1593.8,1146.6 1593.3,1149.6 1592.7,1152.5 1592.1,1155.5 1591.5,1158.4 1590.9,1161.4 1590.4,1164.3 1589.8,1167.2 1589.2,1170.2 1588.7,1173.1 1588.1,1176.1 1587.6,1179.0 1587.0,1182.0 1586.4,1184.9 1585.8,1187.9 1585.1,1190.8 1584.3,1193.7 1583.4,1196.5 1582.5,1199.4 1581.4,1202.2 1580.2,1204.9 1578.5,1207.3 1576.1,1208.6 1573.6,1208.1 1571.6,1206.1 1570.1,1203.5 1569.0,1200.7 1568.0,1197.9 1567.1,1195.0 1566.3,1192.2 1565.5,1189.3 1564.9,1186.3 1564.3,1183.4 1563.7,1180.4 1563.2,1177.5 1562.6,1174.5 1562.1,1171.6 1561.5,1168.6 1560.9,1165.7 1560.3,1162.8 1559.8,1159.8 1559.2,1156.9 1558.6,1153.9 1558.1,1151.0 1557.5,1148.0 1556.8,1145.1 1556.2,1142.2 1555.5,1139.3 1554.7,1136.4 1553.9,1133.5 1553.0,1130.6 1552.1,1127.7 1551.2,1124.9 1550.2,1122.1 1549.2,1119.2 1548.1,1116.4 1546.9,1113.7 1545.7,1110.9 1544.5,1108.2 1543.2,1105.5 1541.9,1102.8 1540.5,1100.1 1539.0,1097.5 1537.4,1095.0 1535.7,1092.6 1533.7,1090.3 1531.7,1088.0 1529.8,1085.7 1528.1,1083.3 1526.6,1080.7 1525.3,1078.0 1524.1,1075.2 1523.1,1072.4 1522.1,1069.6 1521.1,1066.8 1520.1,1063.9 1519.1,1061.1 1518.2,1058.2 1517.5,1055.3 1516.8,1052.4 1516.2,1049.5 1515.5,1046.6 1514.6,1043.7 1513.4,1041.0 1511.8,1038.4 1510.0,1036.1 1507.9,1034.0 1505.6,1032.0 1503.3,1030.1 1500.9,1028.3 1498.5,1026.5 1496.0,1024.9 1493.4,1023.3 1490.8,1021.8 1488.2,1020.3 1485.6,1018.9 1482.9,1017.5 1480.2,1016.2 1477.5,1015.0 1474.7,1013.8 1471.9,1012.7 1469.1,1011.7 1466.2,1010.9 1463.3,1010.3 1460.3,1009.9 1457.3,1009.8 1454.3,1009.8 1451.3,1010.0 1448.3,1010.2 1445.3,1010.3 1442.3,1010.4 1439.3,1010.4 1436.3,1010.4 1433.3,1010.3 1430.3,1010.4 1427.3,1010.4 1424.3,1010.4 1421.3,1010.5 1418.3,1010.6 1415.3,1010.7 1412.3,1010.9 1409.3,1011.1 1406.4,1011.4 1403.4,1011.8 1400.4,1012.2 1397.4,1012.6 1394.5,1013.1 1391.5,1013.6 1388.6,1014.1 1385.6,1014.7 1382.7,1015.3 1379.8,1016.0 1376.9,1016.7 1374.0,1017.5 1371.1,1018.3 1368.2,1019.2 1365.3,1020.1 1362.5,1021.0 1360.4,1021.7" fill="none" stroke="#5a5b5f" stroke-width="3.5" stroke-linejoin="round" stroke-linecap="round"/><path d="M1356.8,1029.4 1356.8,1027.1 1356.8,1024.1 1356.8,1021.1 1356.8,1018.1 1356.8,1015.1 1357.0,1012.2 1357.9,1009.4 1359.5,1007.0 1361.7,1004.9 1364.1,1003.1 1366.7,1001.7 1369.5,1000.6 1372.3,999.6 1375.2,998.8 1378.1,998.0 1381.0,997.3 1384.0,996.7 1386.9,996.2 1389.9,995.7 1392.8,995.2 1395.8,994.8 1398.8,994.5 1401.8,994.2 1404.8,994.0 1407.8,993.8 1410.8,993.7 1413.8,993.6 1416.8,993.5 1419.8,993.4 1422.8,993.3 1425.8,993.1 1428.8,993.0 1431.8,992.9 1434.8,992.8 1437.8,992.7 1440.8,992.6 1443.8,992.5 1446.8,992.4 1449.8,992.4 1452.8,992.3 1455.7,992.2 1458.7,992.1 1461.7,992.1 1464.7,992.0 1467.7,991.9 1470.7,991.8 1473.7,991.7 1476.7,991.6 1479.7,991.5 1482.7,991.4 1485.7,991.3 1488.7,991.2 1491.7,991.1 1494.7,991.0 1497.7,990.9 1500.7,990.8 1503.7,990.8 1506.7,990.7 1509.7,990.6 1512.7,990.6 1515.7,990.5 1518.7,990.4 1521.7,990.4 1524.7,990.3 1527.7,990.3 1530.7,990.3 1533.7,990.2 1536.7,990.2 1539.7,990.2 1542.7,990.2 1545.7,990.1 1548.7,990.1 1551.7,990.1 1554.7,990.1 1557.7,990.1 1560.7,990.1 1563.7,990.1 1566.7,990.1 1569.7,990.1 1572.7,990.1 1575.7,990.1 1578.7,990.1 1581.7,990.1 1584.7,990.1 1587.7,990.1 1590.7,990.1 1593.7,990.1 1596.7,990.0 1599.7,990.0 1602.7,990.0 1605.7,990.0 1608.7,990.0 1611.7,990.0 1614.7,990.1 1617.7,990.1 1620.7,990.2 1623.7,990.3 1626.7,990.3 1629.7,990.4 1632.7,990.5 1635.7,990.5 1638.7,990.6 1641.7,990.7 1644.7,990.7 1647.7,990.8 1650.7,990.8 1653.7,990.8 1656.7,990.9 1659.7,990.9 1662.7,990.9 1665.7,990.9 1668.7,990.9 1671.7,990.8 1674.7,990.7 1677.7,990.7 1680.7,990.5 1683.7,990.4 1686.7,990.2 1689.7,989.9 1692.7,989.6 1695.6,989.2 1698.6,988.6 1701.5,988.0 1704.4,987.1 1707.2,986.1 1709.9,984.9 1712.6,983.5 1715.2,982.0 1717.7,980.4 1720.3,978.8 1722.8,977.2 1725.3,975.5 1727.7,973.7 1730.1,971.9 1732.4,970.0 1734.7,968.0 1736.9,966.0 1739.1,964.0 1741.3,961.9 1743.4,959.8 1745.5,957.6 1747.5,955.5 1749.5,953.2 1751.5,951.0 1753.4,948.7 1755.3,946.3 1757.2,944.0 1759.0,941.6 1760.8,939.2 1762.7,936.9 1764.6,934.5 1766.4,932.2 1768.3,929.8 1770.1,927.4 1771.9,925.0 1773.8,922.7 1775.8,920.4 1777.9,918.3 1780.2,916.4 1782.7,914.8 1785.3,913.4 1788.1,912.2 1790.9,911.2 1793.8,910.5 1796.8,910.2 1799.8,910.2 1802.8,910.5 1805.7,911.1 1808.6,911.8 1811.5,912.7 1814.3,913.7 1817.1,914.8 1819.9,915.9 1822.6,917.1 1825.4,918.3 1828.1,919.5 1830.8,920.8 1833.6,922.0 1836.3,923.3 1838.9,924.7 1841.6,926.1 1844.2,927.5 1846.9,928.9 1849.5,930.3 1852.2,931.6 1855.0,932.9 1857.7,934.1 1860.5,935.2 1863.3,936.2 1866.2,937.2 1869.0,938.1 1871.9,939.0 1874.8,939.8 1877.7,940.5 1880.6,941.1 1883.6,941.6 1886.5,942.1 1889.5,942.4 1892.5,942.6 1895.5,942.7 1898.5,942.8 1901.5,942.8 1904.5,942.8 1907.5,942.7 1910.5,942.6 1913.5,942.4 1916.5,942.0 1919.4,941.3 1922.2,940.4 1925.0,939.3 1927.8,938.1 1930.5,936.8 1933.1,935.4 1935.7,933.9 1938.3,932.4 1940.9,930.9 1943.4,929.2 1945.9,927.5 1948.3,925.8 1950.7,924.0 1953.1,922.2 1955.4,920.3 1957.7,918.3 1959.9,916.3 1962.0,914.2 1964.1,912.0 1966.1,909.8 1968.1,907.6 1970.1,905.3 1972.0,902.9 1973.8,900.6 1975.6,898.2 1977.4,895.8 1979.1,893.3 1980.8,890.8 1982.4,888.3 1983.9,885.7 1985.4,883.1 1986.8,880.4 1988.1,877.7 1989.3,875.0 1990.5,872.3 1991.7,869.5 1992.8,866.7 1993.9,863.9 1994.9,861.1 1995.9,858.2 1996.8,855.4 1997.8,852.5 1998.7,849.7 1999.5,846.8 2000.3,843.9 2001.0,841.0 2001.6,838.1 2002.2,835.1 2002.7,832.2 2003.2,829.2 2003.6,826.2 2004.0,823.2 2004.3,820.3 2004.6,817.3 2004.9,814.3 2005.1,811.3 2005.4,808.3 2005.6,805.3 2005.8,802.3 2006.0,799.3 2006.2,796.3 2006.4,793.3 2006.6,790.4 2006.8,787.4 2007.0,784.4 2007.2,781.4 2007.4,778.4 2007.6,775.4 2007.8,772.4 2008.0,769.4 2008.3,766.8 2008.6,766.4 2008.7,768.8 2008.7,771.7 2008.6,774.7 2008.6,777.7 2008.5,780.7 2008.4,783.7 2008.3,786.7 2008.1,789.7 2007.9,792.7 2007.7,795.7 2007.5,798.7 2007.3,801.7 2007.1,804.7 2006.8,807.7 2006.6,810.7 2006.3,813.7 2006.1,816.7 2005.8,819.6 2005.5,822.6 2005.3,825.6 2005.0,828.6 2004.7,831.6 2004.4,834.6 2004.1,837.6 2003.9,840.6 2003.6,843.5 2003.3,846.5 2003.0,849.5 2002.7,852.5 2002.4,855.5 2002.1,858.5 2001.8,861.5 2001.5,864.4 2001.1,867.4 2000.8,870.4 2000.4,873.4 2000.1,876.4 1999.7,879.3 1999.2,882.3 1998.8,885.3 1998.3,888.2 1997.9,891.2 1997.4,894.2 1996.9,897.1 1996.4,900.1 1995.9,903.0 1995.3,906.0 1994.8,908.9 1994.2,911.9 1993.6,914.8 1992.9,917.7 1992.2,920.7 1991.5,923.6 1990.8,926.5 1990.0,929.4 1989.1,932.2 1988.3,935.1 1987.4,938.0 1986.5,940.8 1985.5,943.7 1984.6,946.5 1983.5,949.3 1982.4,952.1 1981.2,954.9 1980.0,957.6 1978.6,960.3 1977.1,962.9 1975.6,965.5 1974.0,968.0 1972.3,970.5 1970.5,972.9 1968.7,975.3 1966.8,977.6 1964.8,979.8 1962.7,981.9 1960.5,984.0 1958.2,985.9 1955.8,987.7 1953.3,989.4 1950.7,990.9 1948.0,992.3 1945.3,993.5 1942.5,994.7 1939.7,995.7 1936.9,996.6 1934.0,997.3 1931.0,997.7 1928.0,998.0 1925.0,998.2 1922.0,998.5 1919.1,998.9 1916.1,999.6 1913.2,1000.4 1910.3,1001.0 1907.4,1001.5 1904.4,1001.8 1901.4,1002.0 1898.4,1002.2 1895.4,1002.3 1892.4,1002.4 1889.4,1002.4 1886.4,1002.5 1883.4,1002.5 1880.4,1002.5 1877.4,1002.5 1874.4,1002.5 1871.4,1002.5 1868.4,1002.5 1865.4,1002.6 1862.4,1002.6 1859.4,1002.6 1856.4,1002.6 1853.4,1002.6 1850.4,1002.7 1847.4,1002.7 1844.4,1002.8 1841.4,1002.8 1838.4,1002.9 1835.4,1003.0 1832.4,1003.1 1829.4,1003.1 1826.4,1003.2 1823.4,1003.3 1820.4,1003.4 1817.4,1003.5 1814.4,1003.6 1811.4,1003.6 1808.4,1003.7 1805.4,1003.8 1802.4,1003.9 1799.4,1004.0 1796.4,1004.1 1793.4,1004.2 1790.4,1004.3 1787.4,1004.4 1784.4,1004.4 1781.4,1004.5 1778.4,1004.6 1775.4,1004.7 1772.4,1004.8 1769.4,1004.9 1766.4,1005.0 1763.4,1005.1 1760.4,1005.2 1757.4,1005.3 1754.4,1005.4 1751.4,1005.4 1748.4,1005.5 1745.4,1005.6 1742.4,1005.7 1739.4,1005.8 1736.4,1005.9 1733.4,1006.0 1730.4,1006.1 1727.4,1006.2 1724.5,1006.3 1721.5,1006.4 1718.5,1006.5 1715.5,1006.6 1712.5,1006.7 1709.5,1006.8 1706.5,1006.8 1703.5,1007.0 1700.5,1007.2 1697.5,1007.5 1694.5,1007.9 1691.5,1008.3 1688.6,1008.8 1685.6,1009.4 1682.7,1010.0 1679.8,1010.6 1676.9,1011.3 1674.0,1012.1 1671.1,1012.9 1668.2,1013.8 1665.4,1014.8 1662.5,1015.7 1659.7,1016.8 1656.9,1017.9 1654.2,1019.1 1651.5,1020.5 1648.9,1021.9 1646.3,1023.4 1643.8,1025.1 1641.3,1026.8 1639.0,1028.7 1636.8,1030.7 1634.7,1032.9 1632.8,1035.2 1631.0,1037.6 1629.4,1040.1 1627.8,1042.6 1626.3,1045.3 1624.9,1047.9 1623.5,1050.6 1622.1,1053.2 1620.8,1055.9 1619.6,1058.7 1618.4,1061.4 1617.3,1064.2 1616.2,1067.0 1615.1,1069.8 1614.1,1072.6 1613.2,1075.5 1612.3,1078.3 1611.4,1081.2 1610.5,1084.1 1609.8,1087.0 1609.0,1089.9 1608.3,1092.8 1607.6,1095.7 1606.9,1098.6 1606.2,1101.5 1605.5,1104.5 1604.9,1107.4 1604.2,1110.3 1603.6,1113.2 1602.9,1116.2 1602.3,1119.1 1601.7,1122.1 1601.1,1125.0 1600.5,1127.9 1600.0,1130.9 1599.4,1133.8 1598.8,1136.8 1598.3,1139.7 1597.7,1142.7 1597.1,1145.6 1596.5,1148.5 1596.0,1151.5 1595.4,1154.4 1594.8,1157.4 1594.2,1160.3 1593.6,1163.3 1593.1,1166.2 1592.5,1169.2 1591.9,1172.1 1591.3,1175.0 1590.7,1178.0 1590.1,1180.9 1589.5,1183.9 1588.9,1186.8 1588.2,1189.7 1587.6,1192.6 1586.9,1195.6 1586.3,1198.5 1585.6,1201.4 1584.9,1204.4 1584.2,1207.3 1583.4,1210.2 1582.5,1213.0 1581.5,1215.8 1580.2,1218.5 1578.5,1220.9 1576.2,1222.4 1573.7,1221.9 1571.6,1220.0 1570.2,1217.4 1569.1,1214.6 1568.1,1211.8 1567.2,1208.9 1566.4,1206.0 1565.7,1203.1 1565.0,1200.2 1564.3,1197.3 1563.6,1194.3 1562.9,1191.4 1562.3,1188.5 1561.7,1185.5 1561.1,1182.6 1560.6,1179.6 1560.2,1176.7 1559.8,1173.7 1559.4,1170.7 1558.9,1167.8 1558.4,1164.8 1557.9,1161.9 1557.2,1158.9 1556.5,1156.0 1555.8,1153.1 1555.0,1150.2 1554.2,1147.3 1553.4,1144.4 1552.5,1141.6 1551.6,1138.7 1550.7,1135.8 1549.7,1133.0 1548.8,1130.1 1547.8,1127.3 1546.8,1124.5 1545.8,1121.7 1544.7,1118.9 1543.6,1116.1 1542.5,1113.3 1541.3,1110.5 1540.1,1107.8 1538.9,1105.1 1537.5,1102.4 1536.2,1099.7 1534.8,1097.1 1533.4,1094.4 1532.0,1091.7 1530.6,1089.0 1529.4,1086.3 1528.2,1083.6 1527.0,1080.8 1525.9,1078.0 1524.8,1075.2 1523.8,1072.4 1522.8,1069.6 1521.8,1066.8 1520.8,1063.9 1519.8,1061.1 1518.8,1058.3 1517.7,1055.5 1516.7,1052.6 1515.7,1049.8 1514.6,1047.0 1513.5,1044.2 1512.4,1041.5 1511.2,1038.7 1509.9,1036.0 1508.5,1033.3 1507.0,1030.7 1505.5,1028.1 1503.9,1025.6 1502.0,1023.3 1500.0,1021.1 1497.7,1019.2 1495.2,1017.6 1492.5,1016.3 1489.7,1015.2 1486.8,1014.4 1483.9,1013.7 1480.9,1013.0 1478.0,1012.4 1475.0,1011.9 1472.1,1011.5 1469.1,1011.1 1466.1,1010.9 1463.1,1010.8 1460.1,1010.6 1457.1,1010.6 1454.1,1010.5 1451.1,1010.4 1448.1,1010.3 1445.1,1010.2 1442.1,1010.0 1439.1,1009.9 1436.1,1009.8 1433.1,1009.8 1430.1,1009.8 1427.1,1009.8 1424.1,1009.9 1421.1,1010.0 1418.1,1010.2 1415.2,1010.6 1412.2,1011.0 1409.2,1011.4 1406.3,1011.9 1403.3,1012.5 1400.4,1013.1 1397.5,1013.8 1394.6,1014.5 1391.7,1015.3 1388.8,1016.1 1385.9,1017.0 1383.0,1017.9 1380.2,1018.9 1377.4,1020.0 1374.7,1021.2 1371.9,1022.4 1369.2,1023.6 1366.5,1024.9 1363.8,1026.2 1361.1,1027.5 1359.1,1028.5" fill="none" stroke="#d84a64" stroke-width="3.5" stroke-linejoin="round" stroke-linecap="round"/><path d="M1356.8,1036.3 1356.7,1034.0 1356.7,1031.1 1356.7,1028.1 1356.7,1025.1 1356.8,1022.1 1356.8,1019.1 1356.8,1016.1 1356.8,1013.1 1357.0,1010.1 1357.7,1007.2 1359.1,1004.7 1361.1,1002.5 1363.4,1000.5 1365.9,998.9 1368.6,997.6 1371.4,996.5 1374.2,995.6 1377.1,994.8 1380.0,994.0 1382.9,993.4 1385.9,992.8 1388.8,992.3 1391.8,991.9 1394.8,991.4 1397.8,991.1 1400.8,990.8 1403.7,990.6 1406.7,990.4 1409.7,990.3 1412.7,990.1 1415.7,990.0 1418.7,989.9 1421.7,989.8 1424.7,989.7 1427.7,989.6 1430.7,989.4 1433.7,989.3 1436.7,989.2 1439.7,989.1 1442.7,989.1 1445.7,989.0 1448.7,988.9 1451.7,988.8 1454.7,988.7 1457.7,988.7 1460.7,988.6 1463.7,988.5 1466.7,988.4 1469.7,988.3 1472.7,988.2 1475.7,988.1 1478.7,988.0 1481.7,987.9 1484.7,987.8 1487.7,987.7 1490.7,987.7 1493.7,987.6 1496.7,987.5 1499.7,987.4 1502.7,987.3 1505.7,987.2 1508.7,987.1 1511.7,987.1 1514.7,987.0 1517.7,987.0 1520.7,986.9 1523.7,986.9 1526.7,986.8 1529.7,986.8 1532.7,986.7 1535.7,986.7 1538.7,986.7 1541.7,986.7 1544.7,986.6 1547.7,986.6 1550.7,986.6 1553.7,986.6 1556.7,986.6 1559.7,986.6 1562.7,986.6 1565.7,986.6 1568.7,986.6 1571.7,986.5 1574.7,986.5 1577.7,986.5 1580.7,986.5 1583.7,986.5 1586.7,986.5 1589.7,986.5 1592.7,986.5 1595.7,986.5 1598.7,986.5 1601.7,986.5 1604.7,986.5 1607.7,986.6 1610.7,986.7 1613.7,986.7 1616.7,986.9 1619.7,987.0 1622.7,987.1 1625.7,987.2 1628.7,987.3 1631.7,987.5 1634.7,987.6 1637.7,987.7 1640.7,987.9 1643.6,988.0 1646.6,988.1 1649.6,988.2 1652.6,988.3 1655.6,988.4 1658.6,988.5 1661.6,988.6 1664.6,988.6 1667.6,988.7 1670.6,988.7 1673.6,988.7 1676.6,988.6 1679.6,988.6 1682.6,988.4 1685.6,988.3 1688.6,988.1 1691.6,987.8 1694.6,987.4 1697.5,986.9 1700.4,986.2 1703.3,985.3 1706.1,984.2 1708.8,982.9 1711.4,981.4 1713.9,979.7 1716.3,978.0 1718.7,976.2 1721.1,974.4 1723.5,972.6 1725.8,970.6 1728.0,968.6 1730.2,966.5 1732.3,964.4 1734.3,962.2 1736.3,960.0 1738.2,957.7 1740.1,955.3 1741.9,952.9 1743.7,950.5 1745.4,948.0 1747.1,945.6 1748.9,943.1 1750.6,940.7 1752.3,938.2 1753.9,935.7 1755.6,933.2 1757.2,930.7 1758.9,928.2 1760.5,925.7 1762.2,923.2 1763.8,920.7 1765.6,918.2 1767.3,915.7 1768.9,913.2 1770.6,910.8 1772.3,908.3 1774.1,905.9 1775.9,903.5 1777.9,901.2 1780.0,899.1 1782.2,897.0 1784.4,895.1 1786.8,893.3 1789.3,891.6 1792.0,890.2 1794.8,889.2 1797.7,888.7 1800.7,888.6 1803.6,888.9 1806.6,889.5 1809.5,890.2 1812.4,890.9 1815.3,891.8 1818.1,892.8 1820.9,893.8 1823.7,895.0 1826.4,896.2 1829.2,897.4 1831.9,898.7 1834.5,900.1 1837.2,901.5 1839.8,903.0 1842.3,904.6 1844.8,906.2 1847.4,907.8 1849.9,909.5 1852.5,911.0 1855.0,912.6 1857.6,914.1 1860.2,915.5 1862.9,917.0 1865.5,918.5 1868.1,919.9 1870.7,921.4 1873.4,922.7 1876.1,924.0 1878.9,925.2 1881.7,926.2 1884.6,927.1 1887.5,927.9 1890.4,928.6 1893.3,929.2 1896.3,929.6 1899.3,930.0 1902.2,930.2 1905.2,930.3 1908.2,930.1 1911.2,929.5 1914.0,928.6 1916.8,927.6 1919.6,926.5 1922.4,925.5 1925.3,924.5 1928.1,923.5 1930.9,922.5 1933.7,921.4 1936.5,920.2 1939.2,918.9 1941.8,917.5 1944.3,915.9 1946.8,914.2 1949.3,912.5 1951.7,910.7 1954.0,908.8 1956.3,906.8 1958.5,904.8 1960.6,902.7 1962.8,900.6 1964.8,898.4 1966.8,896.2 1968.8,893.9 1970.7,891.6 1972.6,889.3 1974.4,886.9 1976.2,884.5 1977.9,882.0 1979.6,879.6 1981.3,877.1 1982.9,874.5 1984.5,872.0 1985.9,869.4 1987.3,866.7 1988.7,864.0 1989.9,861.3 1991.1,858.5 1992.2,855.8 1993.3,853.0 1994.3,850.1 1995.3,847.3 1996.3,844.5 1997.2,841.6 1998.0,838.7 1998.8,835.8 1999.6,832.9 2000.3,830.0 2001.0,827.1 2001.7,824.2 2002.3,821.2 2002.9,818.3 2003.4,815.4 2003.9,812.4 2004.4,809.4 2004.8,806.5 2005.2,803.5 2005.6,800.5 2006.0,797.5 2006.3,794.6 2006.7,791.6 2007.0,788.6 2007.4,785.6 2007.7,782.6 2008.1,779.9 2008.4,779.1 2008.5,781.1 2008.4,784.1 2008.2,787.1 2008.0,790.1 2007.8,793.1 2007.6,796.1 2007.4,799.0 2007.2,802.0 2007.0,805.0 2006.7,808.0 2006.5,811.0 2006.2,814.0 2006.0,817.0 2005.7,820.0 2005.5,823.0 2005.2,826.0 2004.9,828.9 2004.7,831.9 2004.4,834.9 2004.1,837.9 2003.8,840.9 2003.5,843.9 2003.3,846.9 2003.0,849.9 2002.7,852.8 2002.4,855.8 2002.1,858.8 2001.8,861.8 2001.4,864.8 2001.1,867.8 2000.8,870.7 2000.4,873.7 2000.0,876.7 1999.6,879.7 1999.2,882.6 1998.7,885.6 1998.3,888.6 1997.8,891.5 1997.3,894.5 1996.8,897.4 1996.3,900.4 1995.8,903.4 1995.3,906.3 1994.7,909.3 1994.1,912.2 1993.5,915.1 1992.9,918.1 1992.2,921.0 1991.4,923.9 1990.7,926.8 1989.9,929.7 1989.0,932.6 1988.2,935.4 1987.3,938.3 1986.4,941.2 1985.4,944.0 1984.4,946.8 1983.4,949.6 1982.3,952.4 1981.1,955.2 1979.8,957.9 1978.4,960.6 1977.0,963.2 1975.4,965.8 1973.8,968.3 1972.1,970.7 1970.3,973.2 1968.5,975.5 1966.6,977.8 1964.5,980.0 1962.4,982.2 1960.2,984.2 1957.9,986.1 1955.5,987.9 1953.0,989.5 1950.4,991.0 1947.7,992.4 1945.0,993.7 1942.2,994.8 1939.4,995.8 1936.5,996.7 1933.6,997.3 1930.7,997.7 1927.7,998.0 1924.7,998.2 1921.7,998.5 1918.7,999.0 1915.8,999.7 1912.9,1000.4 1910.0,1001.1 1907.0,1001.5 1904.0,1001.8 1901.0,1002.0 1898.1,1002.2 1895.1,1002.3 1892.1,1002.4 1889.1,1002.4 1886.1,1002.5 1883.1,1002.5 1880.1,1002.5 1877.1,1002.5 1874.1,1002.5 1871.1,1002.5 1868.1,1002.5 1865.1,1002.6 1862.1,1002.6 1859.1,1002.6 1856.1,1002.6 1853.1,1002.6 1850.1,1002.7 1847.1,1002.7 1844.1,1002.8 1841.1,1002.8 1838.1,1002.9 1835.1,1003.0 1832.1,1003.1 1829.1,1003.2 1826.1,1003.2 1823.1,1003.3 1820.1,1003.4 1817.1,1003.5 1814.1,1003.6 1811.1,1003.7 1808.1,1003.7 1805.1,1003.8 1802.1,1003.9 1799.1,1004.0 1796.1,1004.1 1793.1,1004.2 1790.1,1004.3 1787.1,1004.4 1784.1,1004.5 1781.1,1004.5 1778.1,1004.6 1775.1,1004.7 1772.1,1004.8 1769.1,1004.9 1766.1,1005.0 1763.1,1005.1 1760.1,1005.2 1757.1,1005.3 1754.1,1005.4 1751.1,1005.5 1748.1,1005.6 1745.1,1005.7 1742.1,1005.8 1739.1,1005.9 1736.1,1006.0 1733.1,1006.1 1730.1,1006.2 1727.1,1006.3 1724.1,1006.4 1721.1,1006.5 1718.1,1006.5 1715.1,1006.5 1712.1,1006.5 1709.1,1006.5 1706.1,1006.5 1703.1,1006.7 1700.1,1007.0 1697.2,1007.5 1694.3,1008.1 1691.3,1008.9 1688.5,1009.7 1685.6,1010.6 1682.8,1011.5 1679.9,1012.5 1677.1,1013.6 1674.3,1014.6 1671.5,1015.7 1668.7,1016.8 1666.0,1018.0 1663.3,1019.3 1660.6,1020.7 1658.0,1022.2 1655.5,1023.8 1653.0,1025.6 1650.6,1027.4 1648.3,1029.3 1646.1,1031.2 1643.9,1033.3 1641.8,1035.5 1639.8,1037.7 1638.0,1040.1 1636.2,1042.5 1634.5,1045.0 1632.9,1047.5 1631.4,1050.1 1629.9,1052.7 1628.5,1055.4 1627.2,1058.0 1625.9,1060.8 1624.7,1063.5 1623.6,1066.3 1622.6,1069.1 1621.6,1071.9 1620.7,1074.8 1619.8,1077.7 1618.9,1080.5 1618.1,1083.4 1617.3,1086.3 1616.5,1089.2 1615.7,1092.1 1615.0,1095.0 1614.3,1097.9 1613.6,1100.8 1613.0,1103.8 1612.4,1106.7 1611.8,1109.7 1611.2,1112.6 1610.6,1115.5 1610.0,1118.5 1609.5,1121.4 1608.9,1124.4 1608.3,1127.3 1607.7,1130.3 1607.1,1133.2 1606.6,1136.2 1606.0,1139.1 1605.5,1142.0 1604.9,1145.0 1604.4,1147.9 1603.8,1150.9 1603.3,1153.8 1602.7,1156.8 1602.2,1159.8 1601.7,1162.7 1601.1,1165.7 1600.6,1168.6 1600.1,1171.6 1599.5,1174.5 1599.0,1177.5 1598.5,1180.4 1598.0,1183.4 1597.5,1186.3 1596.9,1189.3 1596.4,1192.2 1595.9,1195.2 1595.3,1198.1 1594.8,1201.1 1594.3,1204.0 1593.7,1207.0 1593.2,1209.9 1592.7,1212.9 1592.1,1215.9 1591.6,1218.8 1591.0,1221.7 1590.4,1224.7 1589.8,1227.6 1589.2,1230.6 1588.5,1233.5 1587.9,1236.4 1587.2,1239.3 1586.4,1242.2 1585.7,1245.2 1585.0,1248.1 1584.2,1251.0 1583.4,1253.8 1582.5,1256.7 1581.5,1259.5 1580.3,1262.3 1578.6,1264.7 1576.3,1266.1 1573.7,1265.7 1571.7,1263.7 1570.2,1261.2 1569.1,1258.4 1568.1,1255.6 1567.3,1252.7 1566.5,1249.8 1565.8,1246.9 1565.0,1244.0 1564.3,1241.0 1563.6,1238.1 1562.9,1235.2 1562.2,1232.3 1561.5,1229.4 1560.9,1226.4 1560.2,1223.5 1559.5,1220.6 1558.9,1217.7 1558.2,1214.7 1557.6,1211.8 1556.9,1208.9 1556.3,1206.0 1555.7,1203.0 1555.0,1200.1 1554.4,1197.2 1553.8,1194.2 1553.2,1191.3 1552.6,1188.3 1552.0,1185.4 1551.4,1182.5 1550.8,1179.5 1550.2,1176.6 1549.5,1173.7 1548.9,1170.7 1548.2,1167.8 1547.5,1164.9 1546.7,1162.0 1545.9,1159.1 1545.2,1156.2 1544.3,1153.3 1543.5,1150.4 1542.7,1147.6 1541.8,1144.7 1540.9,1141.8 1540.0,1138.9 1539.1,1136.1 1538.2,1133.2 1537.2,1130.4 1536.3,1127.6 1535.3,1124.7 1534.3,1121.9 1533.2,1119.1 1532.2,1116.2 1531.2,1113.4 1530.2,1110.6 1529.2,1107.8 1528.2,1104.9 1527.3,1102.1 1526.3,1099.2 1525.3,1096.4 1524.4,1093.6 1523.3,1090.7 1522.3,1087.9 1521.3,1085.1 1520.2,1082.3 1519.2,1079.5 1518.2,1076.7 1517.1,1073.9 1516.1,1071.0 1515.0,1068.2 1514.0,1065.4 1512.9,1062.6 1511.9,1059.8 1510.8,1057.0 1509.7,1054.2 1508.6,1051.4 1507.4,1048.7 1506.3,1045.9 1505.1,1043.1 1503.9,1040.4 1502.6,1037.7 1501.2,1035.0 1499.9,1032.3 1498.4,1029.7 1496.8,1027.2 1494.9,1024.9 1492.7,1022.9 1490.2,1021.4 1487.4,1020.2 1484.6,1019.2 1481.7,1018.4 1478.8,1017.8 1475.8,1017.1 1472.9,1016.6 1469.9,1016.2 1466.9,1015.9 1463.9,1015.7 1460.9,1015.5 1457.9,1015.3 1454.9,1015.2 1451.9,1015.1 1448.9,1015.0 1445.9,1014.9 1442.9,1014.8 1439.9,1014.7 1436.9,1014.7 1433.9,1014.6 1430.9,1014.7 1427.9,1014.7 1424.9,1014.8 1422.0,1015.0 1419.0,1015.3 1416.0,1015.6 1413.0,1015.9 1410.0,1016.4 1407.1,1016.8 1404.1,1017.3 1401.2,1017.9 1398.2,1018.5 1395.3,1019.2 1392.4,1019.9 1389.5,1020.8 1386.7,1021.7 1383.8,1022.7 1381.1,1023.8 1378.4,1025.1 1375.7,1026.5 1373.1,1028.0 1370.5,1029.5 1368.0,1031.1 1365.4,1032.7 1362.9,1034.3 1360.4,1036.0 1358.2,1037.4 1357.7,1037.8" fill="none" stroke="#62b680" stroke-width="3.5" stroke-linejoin="round" stroke-linecap="round"/><path d="M1356.8,1033.1 1356.8,1030.8 1356.7,1027.9 1356.7,1024.9 1356.8,1021.9 1356.8,1018.9 1356.8,1015.9 1356.9,1012.9 1357.2,1009.9 1358.2,1007.2 1360.0,1004.8 1362.2,1002.8 1364.6,1001.0 1367.2,999.6 1370.0,998.5 1372.8,997.5 1375.7,996.7 1378.6,995.9 1381.5,995.2 1384.5,994.6 1387.4,994.1 1390.4,993.6 1393.3,993.1 1396.3,992.8 1399.3,992.4 1402.3,992.2 1405.3,992.0 1408.3,991.8 1411.3,991.7 1414.3,991.6 1417.3,991.5 1420.3,991.3 1423.3,991.2 1426.3,991.1 1429.3,991.0 1432.3,990.9 1435.3,990.8 1438.3,990.7 1441.3,990.6 1444.3,990.5 1447.3,990.4 1450.3,990.4 1453.3,990.3 1456.3,990.2 1459.3,990.1 1462.3,990.0 1465.3,990.0 1468.3,989.9 1471.3,989.8 1474.2,989.7 1477.2,989.6 1480.2,989.5 1483.2,989.4 1486.2,989.3 1489.2,989.2 1492.2,989.1 1495.2,989.0 1498.2,988.9 1501.2,988.8 1504.2,988.8 1507.2,988.7 1510.2,988.6 1513.2,988.5 1516.2,988.5 1519.2,988.4 1522.2,988.4 1525.2,988.3 1528.2,988.3 1531.2,988.3 1534.2,988.2 1537.2,988.2 1540.2,988.2 1543.2,988.2 1546.2,988.1 1549.2,988.1 1552.2,988.1 1555.2,988.1 1558.2,988.1 1561.2,988.1 1564.2,988.1 1567.2,988.1 1570.2,988.1 1573.2,988.1 1576.2,988.1 1579.2,988.1 1582.2,988.1 1585.2,988.1 1588.2,988.0 1591.2,988.0 1594.2,988.0 1597.2,988.0 1600.2,988.0 1603.2,988.0 1606.2,988.0 1609.2,988.1 1612.2,988.1 1615.2,988.2 1618.2,988.3 1621.2,988.4 1624.2,988.5 1627.2,988.6 1630.2,988.7 1633.2,988.8 1636.2,988.9 1639.2,989.0 1642.2,989.1 1645.2,989.2 1648.2,989.3 1651.2,989.4 1654.2,989.5 1657.2,989.6 1660.2,989.6 1663.2,989.7 1666.2,989.7 1669.2,989.7 1672.2,989.7 1675.2,989.6 1678.2,989.5 1681.2,989.4 1684.2,989.3 1687.2,989.1 1690.2,988.8 1693.2,988.4 1696.1,988.0 1699.1,987.4 1702.0,986.6 1704.8,985.6 1707.5,984.5 1710.2,983.1 1712.8,981.5 1715.2,979.8 1717.7,978.1 1720.1,976.4 1722.6,974.7 1725.0,972.9 1727.3,971.0 1729.6,969.0 1731.8,967.0 1734.0,965.0 1736.1,962.8 1738.2,960.7 1740.2,958.5 1742.2,956.2 1744.1,953.9 1746.0,951.6 1747.9,949.2 1749.7,946.8 1751.5,944.4 1753.2,942.0 1754.8,939.4 1756.5,936.9 1758.0,934.4 1759.7,931.8 1761.3,929.3 1763.0,926.8 1764.7,924.4 1766.5,922.0 1768.3,919.6 1770.1,917.2 1772.0,914.8 1773.9,912.5 1775.9,910.3 1778.0,908.2 1780.3,906.3 1782.8,904.5 1785.3,902.9 1787.9,901.5 1790.7,900.3 1793.5,899.4 1796.5,898.9 1799.4,898.7 1802.4,898.9 1805.4,899.3 1808.3,899.9 1811.3,900.6 1814.1,901.4 1817.0,902.4 1819.8,903.5 1822.5,904.6 1825.3,905.8 1828.0,907.0 1830.8,908.2 1833.5,909.5 1836.2,910.8 1838.9,912.1 1841.6,913.5 1844.2,914.9 1846.9,916.3 1849.5,917.7 1852.2,919.0 1854.9,920.3 1857.7,921.6 1860.4,922.7 1863.2,923.8 1866.0,924.9 1868.8,926.0 1871.6,927.0 1874.5,927.9 1877.3,928.8 1880.2,929.6 1883.1,930.4 1886.1,931.1 1889.0,931.8 1891.9,932.4 1894.9,932.9 1897.8,933.4 1900.8,933.7 1903.8,934.0 1906.8,934.0 1909.8,933.7 1912.7,933.1 1915.5,932.2 1918.4,931.2 1921.2,930.2 1924.1,929.3 1926.9,928.3 1929.7,927.3 1932.5,926.2 1935.3,925.1 1938.0,923.8 1940.7,922.4 1943.3,920.9 1945.8,919.3 1948.2,917.6 1950.6,915.8 1953.0,913.9 1955.3,912.0 1957.5,910.0 1959.7,907.9 1961.9,905.8 1964.0,903.7 1966.0,901.5 1968.0,899.2 1969.9,896.9 1971.8,894.6 1973.7,892.3 1975.5,889.9 1977.3,887.4 1979.0,885.0 1980.6,882.5 1982.2,880.0 1983.8,877.4 1985.2,874.8 1986.6,872.1 1987.9,869.4 1989.1,866.6 1990.2,863.8 1991.2,861.0 1992.3,858.2 1993.3,855.4 1994.3,852.6 1995.2,849.7 1996.2,846.9 1997.1,844.0 1998.0,841.2 1998.9,838.3 1999.7,835.4 2000.5,832.5 2001.2,829.6 2001.9,826.7 2002.6,823.8 2003.3,820.8 2003.9,817.9 2004.4,814.9 2005.0,812.0 2005.5,809.0 2006.0,806.1 2006.5,803.1 2006.9,800.2 2007.4,797.2 2007.8,794.2 2008.2,791.2 2008.4,788.5 2008.2,787.5 2007.7,789.4 2007.4,792.3 2007.2,795.3 2006.9,798.3 2006.7,801.3 2006.5,804.3 2006.3,807.3 2006.1,810.2 2005.9,813.2 2005.7,816.2 2005.5,819.2 2005.3,822.2 2005.1,825.2 2004.9,828.2 2004.7,831.2 2004.4,834.2 2004.2,837.2 2003.9,840.2 2003.6,843.2 2003.3,846.1 2003.0,849.1 2002.7,852.1 2002.4,855.1 2002.1,858.1 2001.8,861.1 2001.5,864.0 2001.2,867.0 2000.8,870.0 2000.5,873.0 2000.1,876.0 1999.7,878.9 1999.3,881.9 1998.9,884.9 1998.4,887.8 1997.9,890.8 1997.4,893.8 1997.0,896.7 1996.5,899.7 1995.9,902.6 1995.4,905.6 1994.9,908.5 1994.3,911.5 1993.7,914.4 1993.0,917.3 1992.3,920.3 1991.6,923.2 1990.9,926.1 1990.1,929.0 1989.2,931.9 1988.4,934.7 1987.5,937.6 1986.6,940.5 1985.7,943.3 1984.7,946.2 1983.6,949.0 1982.6,951.8 1981.4,954.5 1980.1,957.2 1978.8,959.9 1977.3,962.6 1975.8,965.1 1974.2,967.7 1972.5,970.2 1970.8,972.6 1968.9,975.0 1967.0,977.3 1965.0,979.5 1963.0,981.7 1960.8,983.7 1958.5,985.7 1956.1,987.5 1953.6,989.2 1951.0,990.7 1948.4,992.1 1945.7,993.4 1942.9,994.5 1940.1,995.6 1937.2,996.5 1934.3,997.2 1931.4,997.7 1928.4,997.9 1925.4,998.2 1922.4,998.4 1919.5,998.9 1916.5,999.5 1913.6,1000.3 1910.7,1000.9 1907.7,1001.4 1904.8,1001.8 1901.8,1002.0 1898.8,1002.1 1895.8,1002.3 1892.8,1002.3 1889.8,1002.4 1886.8,1002.5 1883.8,1002.5 1880.8,1002.5 1877.8,1002.5 1874.8,1002.5 1871.8,1002.5 1868.8,1002.5 1865.8,1002.6 1862.8,1002.6 1859.8,1002.6 1856.8,1002.6 1853.8,1002.6 1850.8,1002.6 1847.8,1002.7 1844.8,1002.8 1841.8,1002.8 1838.8,1002.9 1835.8,1003.0 1832.8,1003.1 1829.8,1003.1 1826.8,1003.2 1823.8,1003.3 1820.8,1003.4 1817.8,1003.5 1814.8,1003.5 1811.8,1003.6 1808.8,1003.7 1805.8,1003.8 1802.8,1003.9 1799.8,1004.0 1796.8,1004.1 1793.8,1004.2 1790.8,1004.3 1787.8,1004.3 1784.8,1004.4 1781.8,1004.5 1778.8,1004.6 1775.8,1004.7 1772.8,1004.8 1769.8,1004.9 1766.8,1004.9 1763.8,1005.0 1760.8,1005.1 1757.8,1005.2 1754.8,1005.3 1751.8,1005.4 1748.8,1005.5 1745.8,1005.5 1742.8,1005.6 1739.8,1005.7 1736.8,1005.8 1733.8,1005.9 1730.8,1006.0 1727.8,1006.2 1724.8,1006.3 1721.8,1006.4 1718.8,1006.6 1715.9,1006.7 1712.9,1006.8 1709.9,1007.0 1706.9,1007.1 1703.9,1007.3 1700.9,1007.6 1697.9,1008.0 1694.9,1008.4 1692.0,1008.8 1689.0,1009.3 1686.1,1009.8 1683.1,1010.4 1680.2,1011.1 1677.3,1011.9 1674.4,1012.7 1671.5,1013.6 1668.7,1014.5 1665.8,1015.4 1663.0,1016.5 1660.2,1017.5 1657.5,1018.7 1654.7,1020.0 1652.1,1021.3 1649.5,1022.9 1646.9,1024.5 1644.5,1026.2 1642.1,1028.0 1639.8,1029.9 1637.6,1031.9 1635.5,1034.1 1633.5,1036.3 1631.7,1038.7 1630.0,1041.2 1628.4,1043.7 1627.0,1046.4 1625.6,1049.0 1624.4,1051.8 1623.2,1054.5 1622.1,1057.3 1621.0,1060.1 1619.9,1062.9 1618.8,1065.7 1617.8,1068.5 1616.9,1071.4 1616.0,1074.2 1615.2,1077.1 1614.4,1080.0 1613.6,1082.9 1612.8,1085.8 1612.1,1088.7 1611.4,1091.6 1610.7,1094.6 1610.0,1097.5 1609.3,1100.4 1608.7,1103.3 1608.1,1106.3 1607.5,1109.2 1607.0,1112.2 1606.5,1115.1 1606.0,1118.1 1605.4,1121.0 1604.9,1124.0 1604.4,1126.9 1603.9,1129.9 1603.4,1132.8 1602.8,1135.8 1602.3,1138.7 1601.7,1141.7 1601.1,1144.6 1600.5,1147.6 1599.9,1150.5 1599.3,1153.4 1598.7,1156.4 1598.1,1159.3 1597.5,1162.3 1596.9,1165.2 1596.3,1168.1 1595.7,1171.1 1595.2,1174.0 1594.6,1177.0 1594.1,1179.9 1593.6,1182.9 1593.1,1185.9 1592.6,1188.8 1592.1,1191.8 1591.6,1194.7 1591.1,1197.7 1590.6,1200.6 1590.0,1203.6 1589.5,1206.5 1588.9,1209.5 1588.3,1212.4 1587.7,1215.4 1587.0,1218.3 1586.4,1221.2 1585.7,1224.1 1585.0,1227.1 1584.2,1230.0 1583.4,1232.8 1582.4,1235.7 1581.4,1238.5 1580.1,1241.2 1578.4,1243.6 1576.1,1244.9 1573.5,1244.3 1571.5,1242.3 1570.1,1239.7 1569.0,1236.9 1568.0,1234.1 1567.1,1231.2 1566.3,1228.3 1565.6,1225.4 1564.9,1222.5 1564.3,1219.6 1563.6,1216.6 1563.0,1213.7 1562.4,1210.8 1561.8,1207.8 1561.2,1204.9 1560.6,1202.0 1560.0,1199.0 1559.5,1196.1 1558.9,1193.1 1558.4,1190.2 1557.8,1187.2 1557.2,1184.3 1556.5,1181.4 1555.9,1178.4 1555.2,1175.5 1554.6,1172.6 1553.9,1169.7 1553.2,1166.7 1552.5,1163.8 1551.7,1160.9 1551.0,1158.0 1550.2,1155.1 1549.4,1152.2 1548.5,1149.3 1547.7,1146.5 1546.7,1143.6 1545.8,1140.8 1544.8,1137.9 1543.8,1135.1 1542.8,1132.3 1541.7,1129.5 1540.7,1126.7 1539.5,1123.9 1538.4,1121.1 1537.2,1118.4 1535.9,1115.7 1534.7,1112.9 1533.4,1110.2 1532.2,1107.5 1531.0,1104.7 1529.8,1102.0 1528.6,1099.2 1527.5,1096.4 1526.4,1093.6 1525.4,1090.8 1524.3,1088.0 1523.2,1085.2 1522.2,1082.4 1521.1,1079.6 1520.1,1076.8 1519.1,1073.9 1518.2,1071.1 1517.3,1068.2 1516.3,1065.4 1515.4,1062.5 1514.5,1059.7 1513.6,1056.8 1512.6,1054.0 1511.7,1051.1 1510.7,1048.3 1509.6,1045.5 1508.6,1042.7 1507.4,1039.9 1506.2,1037.2 1504.8,1034.5 1503.3,1031.9 1501.7,1029.4 1500.0,1027.0 1498.0,1024.7 1495.8,1022.6 1493.4,1020.9 1490.8,1019.4 1488.1,1018.2 1485.2,1017.4 1482.3,1016.7 1479.4,1016.1 1476.4,1015.5 1473.4,1015.1 1470.5,1014.7 1467.5,1014.5 1464.5,1014.3 1461.5,1014.1 1458.5,1014.0 1455.5,1013.9 1452.5,1013.8 1449.5,1013.7 1446.5,1013.6 1443.5,1013.5 1440.5,1013.4 1437.5,1013.3 1434.5,1013.3 1431.5,1013.2 1428.5,1013.2 1425.5,1013.3 1422.5,1013.4 1419.5,1013.6 1416.5,1013.8 1413.5,1014.1 1410.6,1014.5 1407.6,1014.9 1404.6,1015.3 1401.7,1015.8 1398.7,1016.3 1395.8,1016.9 1392.8,1017.6 1389.9,1018.3 1387.0,1019.2 1384.2,1020.1 1381.4,1021.1 1378.6,1022.2 1375.9,1023.5 1373.2,1024.8 1370.5,1026.2 1367.9,1027.7 1365.3,1029.1 1362.7,1030.6 1360.2,1032.1 1358.2,1033.3" fill="none" stroke="#5f95cf" stroke-width="3.5" stroke-linejoin="round" stroke-linecap="round"/><rect x="1307.5" y="752.5" width="748.0" height="531.9" fill="none" stroke="#231f20" stroke-width="2.8"/><line x1="1307.5" y1="819.4" x2="1323.5" y2="819.4" stroke="#231f20" stroke-width="2.8"/><text x="1296.0" y="836.2" text-anchor="end">0.10</text><line x1="1307.5" y1="903.7" x2="1323.5" y2="903.7" stroke="#231f20" stroke-width="2.8"/><text x="1296.0" y="920.5" text-anchor="end">0.05</text><line x1="1307.5" y1="988.0" x2="1323.5" y2="988.0" stroke="#231f20" stroke-width="2.8"/><text x="1296.0" y="1004.8" text-anchor="end">0</text><line x1="1307.5" y1="1072.3" x2="1323.5" y2="1072.3" stroke="#231f20" stroke-width="2.8"/><text x="1296.0" y="1089.1" text-anchor="end">−0.05</text><line x1="1307.5" y1="1156.6" x2="1323.5" y2="1156.6" stroke="#231f20" stroke-width="2.8"/><text x="1296.0" y="1173.4" text-anchor="end">−0.10</text><line x1="1307.5" y1="1240.9" x2="1323.5" y2="1240.9" stroke="#231f20" stroke-width="2.8"/><text x="1296.0" y="1257.7" text-anchor="end">−0.15</text><line x1="1355.5" y1="1284.4" x2="1355.5" y2="1268.4" stroke="#231f20" stroke-width="2.8"/><text x="1355.5" y="1341.5" text-anchor="middle">0</text><line x1="1448.9" y1="1284.4" x2="1448.9" y2="1268.4" stroke="#231f20" stroke-width="2.8"/><text x="1448.9" y="1341.5" text-anchor="middle">0.2</text><line x1="1542.4" y1="1284.4" x2="1542.4" y2="1268.4" stroke="#231f20" stroke-width="2.8"/><text x="1542.4" y="1341.5" text-anchor="middle">0.4</text><line x1="1635.8" y1="1284.4" x2="1635.8" y2="1268.4" stroke="#231f20" stroke-width="2.8"/><text x="1635.8" y="1341.5" text-anchor="middle">0.6</text><line x1="1729.2" y1="1284.4" x2="1729.2" y2="1268.4" stroke="#231f20" stroke-width="2.8"/><text x="1729.2" y="1341.5" text-anchor="middle">0.8</text><line x1="1822.6" y1="1284.4" x2="1822.6" y2="1268.4" stroke="#231f20" stroke-width="2.8"/><text x="1822.6" y="1341.5" text-anchor="middle">1.0</text><line x1="1916.1" y1="1284.4" x2="1916.1" y2="1268.4" stroke="#231f20" stroke-width="2.8"/><text x="1916.1" y="1341.5" text-anchor="middle">1.2</text><line x1="2009.5" y1="1284.4" x2="2009.5" y2="1268.4" stroke="#231f20" stroke-width="2.8"/><text x="2009.5" y="1341.5" text-anchor="middle">1.4</text><text x="1681.5" y="1412.0" text-anchor="middle">Potential/V</text><text transform="translate(1141.7,1017.9) rotate(-90)" text-anchor="middle">Current/mA</text><text x="1333.6" y="812.0" style="font-size:54.5px">(e)</text><line x1="1647.5" y1="1057.3" x2="1740.0" y2="1057.3" stroke="#6b6c70" stroke-width="4.8"/><text x="1744.3" y="1072.3" style="letter-spacing:-0.15px">5.9×10<tspan font-size="33" dy="-18">−6</tspan><tspan dy="18"> cm</tspan><tspan font-size="33" dy="-18">2</tspan></text><line x1="1647.5" y1="1113.8" x2="1740.0" y2="1113.8" stroke="#d84a64" stroke-width="4.5"/><text x="1744.3" y="1128.8" style="letter-spacing:-0.15px">8.3×10<tspan font-size="33" dy="-18">−6</tspan><tspan dy="18"> cm</tspan><tspan font-size="33" dy="-18">2</tspan></text><line x1="1647.5" y1="1170.3" x2="1740.0" y2="1170.3" stroke="#66b883" stroke-width="4.5"/><text x="1744.3" y="1185.3" style="letter-spacing:-0.15px">1.7×10<tspan font-size="33" dy="-18">−5</tspan><tspan dy="18"> cm</tspan><tspan font-size="33" dy="-18">2</tspan></text><line x1="1647.5" y1="1226.8" x2="1740.0" y2="1226.8" stroke="#5f95cf" stroke-width="4.0"/><text x="1744.3" y="1241.8" style="letter-spacing:-0.15px">3.3×10<tspan font-size="33" dy="-18">−5</tspan><tspan dy="18"> cm</tspan><tspan font-size="33" dy="-18">2</tspan></text></g>
<g><path d="M2372.5,1025.1 2372.5,1022.8 2372.5,1019.8 2372.4,1016.8 2372.4,1013.9 2373.0,1011.0 2374.5,1008.5 2376.6,1006.4 2379.0,1004.6 2381.6,1003.0 2384.3,1001.8 2387.1,1000.9 2390.0,1000.1 2392.9,999.3 2395.8,998.6 2398.8,997.9 2401.7,997.2 2404.6,996.6 2407.6,996.0 2410.5,995.5 2413.5,995.1 2416.5,994.7 2419.4,994.4 2422.4,994.2 2425.4,994.0 2428.4,993.8 2431.4,993.7 2434.4,993.6 2437.4,993.5 2440.4,993.4 2443.4,993.4 2446.4,993.3 2449.4,993.1 2452.4,993.0 2455.4,992.9 2458.4,992.8 2461.4,992.7 2464.4,992.6 2467.4,992.5 2470.4,992.4 2473.4,992.3 2476.4,992.3 2479.4,992.2 2482.4,992.1 2485.4,992.0 2488.4,992.0 2491.4,991.9 2494.4,991.8 2497.4,991.8 2500.4,991.7 2503.4,991.6 2506.4,991.6 2509.4,991.5 2512.4,991.5 2515.4,991.4 2518.4,991.4 2521.4,991.3 2524.4,991.3 2527.4,991.2 2530.4,991.2 2533.4,991.1 2536.4,991.1 2539.4,991.1 2542.4,991.1 2545.4,991.0 2548.4,991.0 2551.4,991.0 2554.4,991.0 2557.4,991.0 2560.4,991.1 2563.4,991.1 2566.4,991.1 2569.4,991.1 2572.4,991.2 2575.4,991.2 2578.4,991.2 2581.4,991.3 2584.4,991.3 2587.4,991.3 2590.4,991.3 2593.4,991.3 2596.4,991.3 2599.4,991.3 2602.4,991.3 2605.4,991.3 2608.4,991.3 2611.4,991.3 2614.4,991.4 2617.4,991.4 2620.4,991.4 2623.4,991.5 2626.4,991.5 2629.4,991.5 2632.4,991.6 2635.4,991.6 2638.4,991.7 2641.4,991.7 2644.4,991.7 2647.4,991.7 2650.4,991.8 2653.4,991.8 2656.4,991.8 2659.4,991.8 2662.4,991.8 2665.4,991.8 2668.4,991.8 2671.4,991.7 2674.4,991.7 2677.4,991.6 2680.4,991.6 2683.4,991.5 2686.4,991.4 2689.4,991.3 2692.4,991.1 2695.4,990.9 2698.4,990.7 2701.3,990.4 2704.3,990.1 2707.3,989.7 2710.3,989.3 2713.2,988.8 2716.2,988.3 2719.1,987.6 2722.0,987.0 2724.9,986.2 2727.8,985.3 2730.6,984.3 2733.4,983.2 2736.1,981.9 2738.7,980.4 2741.2,978.8 2743.6,976.9 2745.8,974.9 2748.0,972.9 2750.1,970.8 2752.3,968.7 2754.5,966.7 2756.7,964.6 2758.9,962.5 2761.0,960.4 2763.1,958.3 2765.1,956.1 2767.1,953.8 2769.0,951.5 2770.8,949.1 2772.5,946.6 2774.2,944.2 2775.9,941.7 2777.7,939.3 2779.5,936.9 2781.5,934.6 2783.5,932.4 2785.7,930.3 2787.9,928.3 2790.1,926.3 2792.5,924.5 2795.0,922.8 2797.5,921.3 2800.2,919.9 2803.0,918.7 2805.8,917.8 2808.7,917.0 2811.7,916.6 2814.6,916.5 2817.6,916.8 2820.6,917.3 2823.5,918.0 2826.4,918.8 2829.2,919.8 2832.0,920.9 2834.8,922.1 2837.5,923.3 2840.2,924.6 2842.9,926.0 2845.6,927.2 2848.3,928.5 2851.1,929.7 2853.8,930.8 2856.6,932.0 2859.4,933.2 2862.1,934.4 2864.9,935.5 2867.7,936.6 2870.5,937.6 2873.3,938.6 2876.2,939.5 2879.1,940.4 2881.9,941.3 2884.8,942.1 2887.7,942.8 2890.6,943.5 2893.6,944.2 2896.5,944.7 2899.5,945.2 2902.4,945.6 2905.4,946.0 2908.4,946.3 2911.4,946.5 2914.4,946.7 2917.4,946.7 2920.4,946.7 2923.4,946.6 2926.4,946.3 2929.4,946.0 2932.3,945.6 2935.3,945.1 2938.2,944.6 2941.2,943.9 2944.1,943.2 2947.0,942.3 2949.8,941.4 2952.6,940.4 2955.4,939.3 2958.2,938.1 2960.9,936.8 2963.6,935.5 2966.2,934.1 2968.8,932.6 2971.4,931.0 2973.9,929.4 2976.4,927.7 2978.8,925.9 2981.1,924.0 2983.4,922.1 2985.7,920.1 2987.9,918.1 2990.1,916.1 2992.3,914.0 2994.4,911.9 2996.5,909.7 2998.5,907.5 3000.5,905.3 3002.5,903.0 3004.4,900.7 3006.2,898.3 3008.0,895.9 3009.6,893.3 3011.0,890.7 3012.4,888.1 3013.6,885.3 3014.7,882.5 3015.7,879.7 3016.7,876.9 3017.6,874.0 3018.5,871.1 3019.3,868.3 3020.2,865.4 3021.1,862.5 3021.9,859.6 3022.8,856.8 3023.7,853.9 3024.7,851.3 3025.6,850.5 3025.9,852.6 3025.8,855.5 3025.5,858.5 3025.1,861.5 3024.7,864.4 3024.4,867.4 3024.0,870.4 3023.5,873.4 3023.1,876.3 3022.7,879.3 3022.3,882.3 3021.8,885.2 3021.4,888.2 3020.9,891.2 3020.4,894.1 3020.0,897.1 3019.5,900.0 3018.9,903.0 3018.4,906.0 3017.9,908.9 3017.3,911.8 3016.7,914.8 3016.0,917.7 3015.3,920.6 3014.6,923.5 3013.9,926.4 3013.1,929.3 3012.3,932.2 3011.4,935.1 3010.6,938.0 3009.6,940.8 3008.7,943.7 3007.6,946.5 3006.5,949.3 3005.4,952.0 3004.1,954.8 3002.8,957.5 3001.4,960.1 2999.9,962.7 2998.4,965.3 2996.7,967.8 2995.0,970.2 2993.1,972.6 2991.2,974.9 2989.1,977.0 2986.9,979.1 2984.6,981.1 2982.3,982.9 2979.8,984.6 2977.3,986.3 2974.7,987.8 2972.1,989.2 2969.4,990.4 2966.6,991.6 2963.8,992.6 2960.9,993.5 2958.0,994.4 2955.1,995.1 2952.2,995.6 2949.2,996.1 2946.3,996.6 2943.3,997.0 2940.3,997.3 2937.3,997.7 2934.4,998.1 2931.4,998.5 2928.4,998.8 2925.4,999.1 2922.4,999.4 2919.4,999.7 2916.5,999.9 2913.5,1000.1 2910.5,1000.3 2907.5,1000.5 2904.5,1000.7 2901.5,1000.8 2898.5,1001.0 2895.5,1001.1 2892.5,1001.2 2889.5,1001.3 2886.5,1001.4 2883.5,1001.5 2880.5,1001.6 2877.5,1001.7 2874.5,1001.8 2871.5,1001.8 2868.5,1001.9 2865.5,1002.0 2862.5,1002.1 2859.5,1002.1 2856.5,1002.2 2853.5,1002.3 2850.5,1002.4 2847.5,1002.5 2844.5,1002.5 2841.5,1002.6 2838.5,1002.7 2835.5,1002.8 2832.5,1002.9 2829.5,1002.9 2826.5,1003.0 2823.5,1003.1 2820.5,1003.1 2817.5,1003.2 2814.5,1003.2 2811.5,1003.3 2808.5,1003.3 2805.5,1003.4 2802.5,1003.4 2799.5,1003.5 2796.5,1003.5 2793.5,1003.6 2790.5,1003.6 2787.5,1003.7 2784.5,1003.7 2781.5,1003.8 2778.5,1003.8 2775.5,1003.9 2772.5,1003.9 2769.5,1004.0 2766.5,1004.1 2763.5,1004.2 2760.5,1004.2 2757.5,1004.3 2754.5,1004.4 2751.5,1004.5 2748.5,1004.7 2745.5,1004.8 2742.5,1004.9 2739.5,1005.1 2736.5,1005.3 2733.6,1005.5 2730.6,1005.7 2727.6,1005.9 2724.6,1006.1 2721.6,1006.3 2718.6,1006.5 2715.6,1006.7 2712.6,1007.0 2709.6,1007.3 2706.6,1007.6 2703.7,1007.9 2700.7,1008.3 2697.7,1008.7 2694.7,1009.2 2691.8,1009.7 2688.8,1010.2 2685.9,1010.9 2683.0,1011.5 2680.1,1012.2 2677.2,1013.0 2674.3,1013.8 2671.5,1014.8 2668.7,1015.9 2665.9,1017.1 2663.2,1018.4 2660.6,1019.9 2658.1,1021.5 2655.6,1023.2 2653.2,1025.0 2650.9,1026.9 2648.7,1028.9 2646.5,1031.0 2644.5,1033.3 2642.7,1035.6 2640.9,1038.0 2639.2,1040.5 2637.6,1043.0 2636.1,1045.6 2634.6,1048.2 2633.3,1050.9 2632.0,1053.6 2630.8,1056.4 2629.7,1059.2 2628.7,1062.0 2627.6,1064.8 2626.6,1067.6 2625.7,1070.5 2624.7,1073.3 2623.8,1076.2 2623.0,1079.1 2622.1,1081.9 2621.3,1084.8 2620.6,1087.7 2619.8,1090.6 2619.1,1093.5 2618.4,1096.5 2617.6,1099.4 2616.9,1102.3 2616.2,1105.2 2615.5,1108.1 2614.8,1111.0 2614.0,1113.9 2613.3,1116.8 2612.6,1119.8 2611.9,1122.7 2611.3,1125.6 2610.6,1128.5 2610.0,1131.5 2609.4,1134.4 2608.8,1137.3 2608.2,1140.3 2607.7,1143.2 2607.3,1146.2 2606.8,1149.2 2606.4,1152.1 2606.0,1155.1 2605.5,1158.1 2605.1,1161.0 2604.6,1164.0 2604.1,1167.0 2603.5,1169.9 2602.9,1172.9 2602.4,1175.8 2601.8,1178.7 2601.1,1181.7 2600.5,1184.6 2599.8,1187.5 2599.0,1190.4 2598.1,1193.3 2597.2,1196.1 2596.2,1199.0 2595.0,1201.7 2593.5,1204.2 2591.3,1205.9 2588.7,1205.9 2586.5,1204.2 2585.0,1201.7 2583.8,1199.0 2582.8,1196.1 2581.9,1193.3 2581.0,1190.4 2580.2,1187.5 2579.5,1184.6 2578.9,1181.7 2578.3,1178.7 2577.7,1175.8 2577.1,1172.8 2576.5,1169.9 2576.0,1167.0 2575.4,1164.0 2574.9,1161.1 2574.4,1158.1 2574.0,1155.1 2573.5,1152.2 2573.0,1149.2 2572.5,1146.2 2572.0,1143.3 2571.3,1140.4 2570.6,1137.4 2569.8,1134.5 2569.0,1131.7 2568.2,1128.8 2567.3,1125.9 2566.4,1123.1 2565.5,1120.2 2564.5,1117.4 2563.6,1114.5 2562.6,1111.7 2561.7,1108.8 2560.7,1106.0 2559.6,1103.2 2558.6,1100.4 2557.4,1097.6 2556.2,1094.9 2554.8,1092.2 2553.4,1089.5 2551.9,1086.9 2550.4,1084.3 2548.9,1081.8 2547.3,1079.2 2545.7,1076.7 2544.1,1074.1 2542.5,1071.6 2540.8,1069.1 2539.1,1066.6 2537.5,1064.1 2535.9,1061.6 2534.4,1059.0 2533.0,1056.3 2531.7,1053.6 2530.4,1050.9 2529.1,1048.2 2527.8,1045.5 2526.5,1042.8 2525.1,1040.2 2523.8,1037.5 2522.6,1034.7 2521.4,1031.9 2520.2,1029.2 2518.6,1026.7 2516.8,1024.3 2514.6,1022.3 2512.1,1020.6 2509.5,1019.2 2506.8,1017.9 2504.0,1016.8 2501.2,1015.8 2498.3,1014.9 2495.5,1014.0 2492.6,1013.2 2489.6,1012.5 2486.7,1011.9 2483.8,1011.2 2480.8,1010.6 2477.9,1010.1 2474.9,1009.6 2472.0,1009.2 2469.0,1008.9 2466.0,1008.7 2463.0,1008.7 2460.0,1008.7 2457.0,1008.8 2454.0,1008.9 2451.0,1009.0 2448.0,1009.1 2445.0,1009.2 2442.0,1009.3 2439.0,1009.4 2436.0,1009.5 2433.0,1009.6 2430.0,1009.8 2427.0,1010.0 2424.0,1010.2 2421.0,1010.5 2418.1,1010.9 2415.1,1011.2 2412.1,1011.7 2409.2,1012.2 2406.2,1012.8 2403.3,1013.4 2400.4,1014.1 2397.5,1014.8 2394.6,1015.6 2391.7,1016.5 2388.9,1017.5 2386.1,1018.5 2383.3,1019.7 2380.6,1020.9 2377.9,1022.2 2375.5,1023.4 2375.0,1023.6" fill="none" stroke="#5a5b5f" stroke-width="3.5" stroke-linejoin="round" stroke-linecap="round"/><path d="M2372.5,1025.1 2372.5,1022.8 2372.5,1019.8 2372.4,1016.8 2372.4,1013.9 2373.0,1011.0 2374.5,1008.5 2376.6,1006.4 2379.0,1004.6 2381.6,1003.0 2384.3,1001.8 2387.1,1000.9 2390.0,1000.1 2392.9,999.3 2395.8,998.6 2398.8,997.9 2401.7,997.2 2404.6,996.6 2407.6,996.0 2410.5,995.5 2413.5,995.1 2416.5,994.7 2419.4,994.4 2422.4,994.2 2425.4,994.0 2428.4,993.8 2431.4,993.7 2434.4,993.6 2437.4,993.5 2440.4,993.4 2443.4,993.4 2446.4,993.3 2449.4,993.1 2452.4,993.0 2455.4,992.9 2458.4,992.8 2461.4,992.7 2464.4,992.6 2467.4,992.5 2470.4,992.4 2473.4,992.3 2476.4,992.3 2479.4,992.2 2482.4,992.1 2485.4,992.0 2488.4,992.0 2491.4,991.9 2494.4,991.8 2497.4,991.8 2500.4,991.7 2503.4,991.6 2506.4,991.6 2509.4,991.5 2512.4,991.5 2515.4,991.4 2518.4,991.4 2521.4,991.3 2524.4,991.3 2527.4,991.2 2530.4,991.2 2533.4,991.1 2536.4,991.1 2539.4,991.1 2542.4,991.1 2545.4,991.0 2548.4,991.0 2551.4,991.0 2554.4,991.0 2557.4,991.0 2560.4,991.1 2563.4,991.1 2566.4,991.1 2569.4,991.1 2572.4,991.2 2575.4,991.2 2578.4,991.2 2581.4,991.3 2584.4,991.3 2587.4,991.3 2590.4,991.3 2593.4,991.3 2596.4,991.3 2599.4,991.3 2602.4,991.3 2605.4,991.3 2608.4,991.3 2611.4,991.3 2614.4,991.4 2617.4,991.4 2620.4,991.4 2623.4,991.5 2626.4,991.5 2629.4,991.5 2632.4,991.6 2635.4,991.6 2638.4,991.7 2641.4,991.7 2644.4,991.7 2647.4,991.7 2650.4,991.8 2653.4,991.8 2656.4,991.8 2659.4,991.8 2662.4,991.8 2665.4,991.8 2668.4,991.8 2671.4,991.7 2674.4,991.7 2677.4,991.6 2680.4,991.6 2683.4,991.5 2686.4,991.4 2689.4,991.3 2692.4,991.1 2695.4,990.9 2698.4,990.7 2701.3,990.4 2704.3,990.1 2707.3,989.7 2710.3,989.3 2713.2,988.8 2716.2,988.3 2719.1,987.7 2722.1,987.0 2725.0,986.3 2727.8,985.4 2730.6,984.4 2733.4,983.3 2736.1,981.9 2738.7,980.4 2741.1,978.7 2743.4,976.7 2745.5,974.6 2747.6,972.4 2749.6,970.2 2751.7,968.1 2753.8,965.9 2755.9,963.8 2758.0,961.6 2760.0,959.4 2762.0,957.2 2764.0,955.0 2766.0,952.7 2767.9,950.4 2769.7,948.0 2771.5,945.6 2773.3,943.1 2775.0,940.7 2776.7,938.3 2778.5,935.9 2780.4,933.5 2782.3,931.2 2784.2,928.9 2786.2,926.6 2788.2,924.4 2790.3,922.3 2792.5,920.2 2794.7,918.2 2797.2,916.5 2799.7,914.9 2802.3,913.5 2805.1,912.3 2807.9,911.3 2810.8,910.5 2813.8,910.1 2816.8,910.0 2819.8,910.2 2822.7,910.6 2825.7,911.2 2828.5,912.0 2831.4,913.0 2834.2,914.1 2836.9,915.3 2839.6,916.6 2842.3,917.9 2845.0,919.3 2847.7,920.6 2850.4,921.9 2853.1,923.2 2855.7,924.6 2858.4,926.0 2861.0,927.4 2863.7,928.8 2866.4,930.2 2869.0,931.5 2871.8,932.8 2874.5,934.0 2877.3,935.2 2880.0,936.3 2882.8,937.4 2885.6,938.5 2888.4,939.5 2891.3,940.5 2894.2,941.3 2897.1,942.1 2900.0,942.8 2902.9,943.4 2905.9,943.9 2908.8,944.4 2911.8,944.7 2914.8,945.0 2917.8,945.2 2920.8,945.2 2923.8,945.2 2926.8,945.2 2929.8,945.0 2932.8,944.7 2935.8,944.4 2938.7,944.0 2941.7,943.5 2944.6,942.8 2947.5,942.1 2950.4,941.2 2953.2,940.2 2956.0,939.1 2958.7,937.8 2961.4,936.5 2964.1,935.2 2966.7,933.7 2969.3,932.2 2971.9,930.6 2974.4,929.0 2976.9,927.4 2979.4,925.7 2981.8,924.0 2984.3,922.2 2986.6,920.4 2989.0,918.5 2991.3,916.6 2993.6,914.7 2995.8,912.6 2998.0,910.6 3000.0,908.4 3002.0,906.1 3003.9,903.8 3005.7,901.4 3007.4,898.9 3009.0,896.4 3010.6,893.8 3012.1,891.3 3013.5,888.6 3014.9,886.0 3016.2,883.2 3017.4,880.5 3018.6,877.8 3019.9,875.0 3021.1,872.3 3022.3,869.6 3023.7,866.9 3025.1,865.3 3025.9,866.4 3025.9,869.2 3025.6,872.2 3025.1,875.2 3024.7,878.1 3024.2,881.1 3023.7,884.0 3023.2,887.0 3022.7,890.0 3022.2,892.9 3021.7,895.9 3021.2,898.8 3020.7,901.8 3020.2,904.8 3019.7,907.7 3019.1,910.7 3018.6,913.6 3018.0,916.6 3017.4,919.5 3016.8,922.4 3016.1,925.3 3015.4,928.3 3014.6,931.2 3013.8,934.0 3012.9,936.9 3012.0,939.8 3011.1,942.6 3010.1,945.5 3009.1,948.3 3008.0,951.1 3006.9,953.9 3005.6,956.6 3004.3,959.3 3002.9,962.0 3001.5,964.6 2999.9,967.1 2998.3,969.7 2996.6,972.1 2994.8,974.5 2992.8,976.8 2990.8,979.0 2988.6,981.0 2986.3,982.9 2983.9,984.7 2981.4,986.4 2978.8,987.9 2976.2,989.4 2973.5,990.7 2970.7,991.8 2967.9,992.8 2965.0,993.7 2962.1,994.6 2959.2,995.3 2956.3,995.9 2953.4,996.5 2950.4,996.9 2947.4,997.3 2944.4,997.7 2941.5,998.0 2938.5,998.3 2935.5,998.7 2932.5,998.9 2929.5,999.2 2926.5,999.4 2923.5,999.6 2920.5,999.8 2917.5,1000.0 2914.6,1000.1 2911.6,1000.3 2908.6,1000.4 2905.6,1000.6 2902.6,1000.7 2899.6,1000.8 2896.6,1000.9 2893.6,1001.0 2890.6,1001.1 2887.6,1001.2 2884.6,1001.3 2881.6,1001.4 2878.6,1001.5 2875.6,1001.6 2872.6,1001.7 2869.6,1001.8 2866.6,1001.9 2863.6,1002.0 2860.6,1002.1 2857.6,1002.2 2854.6,1002.2 2851.6,1002.3 2848.6,1002.4 2845.6,1002.5 2842.6,1002.6 2839.6,1002.7 2836.6,1002.8 2833.6,1002.8 2830.6,1002.9 2827.6,1003.0 2824.6,1003.1 2821.6,1003.1 2818.6,1003.2 2815.6,1003.2 2812.6,1003.3 2809.6,1003.3 2806.6,1003.4 2803.6,1003.4 2800.6,1003.5 2797.6,1003.5 2794.6,1003.6 2791.6,1003.6 2788.6,1003.6 2785.6,1003.7 2782.6,1003.8 2779.6,1003.8 2776.6,1003.9 2773.6,1003.9 2770.6,1004.0 2767.6,1004.1 2764.6,1004.1 2761.6,1004.2 2758.6,1004.3 2755.6,1004.4 2752.6,1004.5 2749.6,1004.6 2746.6,1004.7 2743.6,1004.9 2740.6,1005.0 2737.6,1005.2 2734.6,1005.4 2731.6,1005.6 2728.7,1005.8 2725.7,1006.0 2722.7,1006.2 2719.7,1006.4 2716.7,1006.6 2713.7,1006.9 2710.7,1007.1 2707.7,1007.4 2704.7,1007.7 2701.8,1008.1 2698.8,1008.5 2695.8,1008.9 2692.9,1009.5 2689.9,1010.0 2687.0,1010.7 2684.1,1011.3 2681.1,1012.0 2678.3,1012.8 2675.4,1013.7 2672.5,1014.7 2669.8,1015.8 2667.0,1017.0 2664.4,1018.4 2661.8,1019.9 2659.2,1021.4 2656.7,1023.1 2654.3,1024.9 2652.0,1026.8 2649.7,1028.8 2647.6,1030.9 2645.6,1033.1 2643.7,1035.4 2642.0,1037.9 2640.4,1040.4 2639.0,1043.1 2637.6,1045.7 2636.3,1048.5 2635.1,1051.2 2634.0,1054.0 2632.8,1056.7 2631.7,1059.5 2630.7,1062.3 2629.7,1065.2 2628.7,1068.0 2627.8,1070.9 2627.0,1073.8 2626.1,1076.6 2625.3,1079.5 2624.5,1082.4 2623.8,1085.3 2623.0,1088.2 2622.2,1091.1 2621.5,1094.0 2620.7,1096.9 2620.0,1099.8 2619.3,1102.8 2618.6,1105.7 2618.0,1108.6 2617.3,1111.5 2616.7,1114.5 2616.1,1117.4 2615.5,1120.3 2614.8,1123.3 2614.2,1126.2 2613.6,1129.2 2613.0,1132.1 2612.5,1135.0 2611.9,1138.0 2611.3,1140.9 2610.8,1143.9 2610.2,1146.8 2609.7,1149.8 2609.2,1152.7 2608.6,1155.7 2608.1,1158.6 2607.6,1161.6 2607.1,1164.6 2606.6,1167.5 2606.1,1170.5 2605.6,1173.4 2605.1,1176.4 2604.6,1179.3 2604.0,1182.3 2603.4,1185.2 2602.7,1188.2 2602.1,1191.1 2601.4,1194.0 2600.7,1196.9 2600.0,1199.8 2599.2,1202.7 2598.5,1205.6 2597.6,1208.5 2596.7,1211.4 2595.6,1214.2 2594.3,1216.8 2592.4,1219.0 2589.9,1219.9 2587.5,1218.9 2585.7,1216.7 2584.3,1214.0 2583.3,1211.2 2582.3,1208.4 2581.5,1205.5 2580.7,1202.6 2579.9,1199.7 2579.1,1196.8 2578.4,1193.9 2577.7,1191.0 2577.0,1188.1 2576.4,1185.1 2575.8,1182.2 2575.4,1179.2 2574.9,1176.3 2574.5,1173.3 2574.1,1170.3 2573.7,1167.3 2573.3,1164.4 2572.8,1161.4 2572.2,1158.5 2571.5,1155.6 2570.9,1152.6 2570.2,1149.7 2569.5,1146.8 2568.7,1143.9 2568.0,1141.0 2567.2,1138.1 2566.4,1135.2 2565.6,1132.3 2564.8,1129.4 2564.0,1126.5 2563.2,1123.6 2562.4,1120.7 2561.6,1117.8 2560.8,1115.0 2559.9,1112.1 2559.0,1109.2 2558.0,1106.4 2557.0,1103.6 2555.9,1100.8 2554.7,1098.0 2553.6,1095.3 2552.3,1092.5 2551.1,1089.8 2549.8,1087.1 2548.4,1084.4 2547.0,1081.8 2545.5,1079.2 2544.0,1076.6 2542.5,1074.0 2541.0,1071.4 2539.5,1068.8 2538.1,1066.1 2536.8,1063.4 2535.6,1060.7 2534.4,1057.9 2533.3,1055.1 2532.2,1052.3 2531.1,1049.5 2530.1,1046.8 2529.0,1044.0 2527.8,1041.2 2526.6,1038.5 2525.3,1035.8 2523.8,1033.1 2522.3,1030.5 2520.7,1028.0 2519.0,1025.6 2517.1,1023.2 2515.1,1021.0 2512.9,1018.9 2510.6,1017.1 2508.0,1015.5 2505.4,1014.1 2502.6,1013.0 2499.8,1012.0 2496.9,1011.2 2493.9,1010.6 2491.0,1010.2 2488.0,1009.8 2485.0,1009.5 2482.0,1009.2 2479.0,1009.0 2476.0,1008.8 2473.1,1008.6 2470.1,1008.4 2467.1,1008.3 2464.1,1008.2 2461.1,1008.1 2458.1,1008.1 2455.1,1008.2 2452.1,1008.2 2449.1,1008.3 2446.1,1008.3 2443.1,1008.4 2440.1,1008.5 2437.1,1008.6 2434.1,1008.7 2431.1,1008.9 2428.1,1009.0 2425.1,1009.3 2422.1,1009.5 2419.1,1009.9 2416.1,1010.2 2413.2,1010.7 2410.2,1011.2 2407.3,1011.8 2404.4,1012.5 2401.4,1013.2 2398.5,1013.9 2395.7,1014.8 2392.8,1015.7 2390.0,1016.6 2387.2,1017.7 2384.4,1018.9 2381.7,1020.2 2379.0,1021.5 2376.4,1022.9 2374.4,1023.9" fill="none" stroke="#d84a64" stroke-width="3.5" stroke-linejoin="round" stroke-linecap="round"/><path d="M2372.5,1033.0 2372.5,1030.7 2372.5,1027.7 2372.5,1024.7 2372.5,1021.7 2372.5,1018.7 2372.5,1015.7 2372.4,1012.8 2372.7,1009.8 2373.8,1007.1 2375.5,1004.7 2377.6,1002.6 2380.0,1000.8 2382.6,999.3 2385.3,998.1 2388.2,997.2 2391.1,996.3 2394.0,995.6 2396.9,994.8 2399.8,994.1 2402.7,993.5 2405.7,992.9 2408.6,992.3 2411.6,991.9 2414.5,991.4 2417.5,991.1 2420.5,990.8 2423.5,990.6 2426.5,990.4 2429.5,990.3 2432.5,990.2 2435.5,990.1 2438.5,990.0 2441.5,989.9 2444.5,989.8 2447.5,989.7 2450.5,989.6 2453.5,989.5 2456.5,989.4 2459.5,989.3 2462.5,989.2 2465.5,989.1 2468.5,989.0 2471.5,988.9 2474.5,988.8 2477.5,988.7 2480.5,988.7 2483.5,988.6 2486.5,988.5 2489.5,988.4 2492.5,988.4 2495.5,988.3 2498.5,988.2 2501.5,988.2 2504.5,988.1 2507.5,988.1 2510.5,988.0 2513.5,987.9 2516.5,987.9 2519.5,987.8 2522.5,987.8 2525.5,987.7 2528.5,987.7 2531.5,987.7 2534.5,987.6 2537.5,987.6 2540.5,987.6 2543.5,987.6 2546.5,987.5 2549.5,987.5 2552.5,987.5 2555.5,987.5 2558.5,987.5 2561.5,987.6 2564.5,987.6 2567.5,987.6 2570.5,987.6 2573.5,987.7 2576.5,987.7 2579.5,987.7 2582.5,987.8 2585.5,987.8 2588.5,987.8 2591.5,987.8 2594.5,987.8 2597.5,987.8 2600.5,987.8 2603.5,987.8 2606.5,987.8 2609.5,987.8 2612.5,987.9 2615.5,987.9 2618.5,987.9 2621.5,988.0 2624.5,988.0 2627.5,988.0 2630.5,988.1 2633.5,988.1 2636.5,988.2 2639.5,988.2 2642.5,988.2 2645.5,988.3 2648.5,988.3 2651.5,988.3 2654.5,988.3 2657.5,988.4 2660.5,988.4 2663.5,988.4 2666.5,988.4 2669.5,988.3 2672.5,988.3 2675.5,988.3 2678.5,988.2 2681.5,988.2 2684.4,988.1 2687.4,988.0 2690.4,987.9 2693.4,987.7 2696.4,987.5 2699.4,987.3 2702.4,987.1 2705.4,986.7 2708.4,986.4 2711.4,986.0 2714.3,985.6 2717.3,985.1 2720.2,984.6 2723.2,984.0 2726.1,983.3 2729.0,982.5 2731.8,981.5 2734.5,980.3 2737.2,978.8 2739.6,977.1 2741.9,975.2 2744.0,973.0 2745.9,970.7 2747.7,968.3 2749.5,965.9 2751.4,963.6 2753.2,961.2 2755.0,958.8 2756.8,956.4 2758.6,954.0 2760.3,951.5 2762.0,949.1 2763.7,946.6 2765.3,944.1 2767.0,941.5 2768.6,939.0 2770.1,936.4 2771.6,933.9 2773.1,931.3 2774.6,928.7 2776.1,926.1 2777.7,923.5 2779.2,920.9 2780.8,918.4 2782.4,915.8 2784.1,913.3 2785.7,910.8 2787.4,908.3 2789.0,905.8 2790.8,903.4 2792.6,901.0 2794.6,898.8 2796.8,896.7 2799.1,894.9 2801.6,893.2 2804.2,891.7 2806.9,890.4 2809.8,889.5 2812.7,889.1 2815.7,889.1 2818.6,889.6 2821.5,890.5 2824.3,891.6 2827.0,892.8 2829.6,894.2 2832.2,895.8 2834.6,897.6 2837.0,899.4 2839.3,901.3 2841.7,903.2 2844.0,905.0 2846.4,906.8 2848.9,908.6 2851.4,910.2 2853.9,911.9 2856.4,913.5 2858.9,915.1 2861.4,916.7 2864.0,918.3 2866.6,919.8 2869.2,921.3 2871.9,922.7 2874.6,924.0 2877.3,925.3 2880.0,926.5 2882.8,927.6 2885.6,928.7 2888.4,929.7 2891.3,930.6 2894.2,931.5 2897.1,932.2 2900.0,932.8 2903.0,933.3 2905.9,933.7 2908.9,934.0 2911.9,934.3 2914.9,934.4 2917.9,934.4 2920.9,934.2 2923.9,934.0 2926.9,933.7 2929.8,933.3 2932.8,932.8 2935.7,932.2 2938.6,931.5 2941.5,930.7 2944.4,929.7 2947.2,928.7 2950.0,927.5 2952.7,926.3 2955.4,924.9 2958.0,923.5 2960.6,922.0 2963.1,920.4 2965.6,918.7 2968.0,916.9 2970.4,915.1 2972.7,913.1 2974.9,911.1 2977.0,909.0 2979.1,906.9 2981.1,904.6 2983.1,902.4 2985.0,900.1 2986.9,897.7 2988.7,895.3 2990.5,892.9 2992.2,890.5 2993.9,888.0 2995.5,885.5 2997.1,882.9 2998.7,880.4 3000.2,877.8 3001.6,875.1 3003.0,872.5 3004.3,869.8 3005.6,867.0 3006.7,864.3 3007.8,861.5 3008.8,858.7 3009.8,855.8 3010.7,853.0 3011.6,850.1 3012.5,847.2 3013.3,844.3 3014.0,841.4 3014.7,838.5 3015.3,835.6 3015.9,832.6 3016.5,829.7 3017.1,826.8 3017.7,823.8 3018.2,820.9 3018.8,817.9 3019.3,815.0 3019.9,812.0 3020.4,809.1 3020.9,806.1 3021.5,803.2 3022.0,800.2 3022.5,797.2 3023.0,794.3 3023.6,791.3 3024.1,788.4 3024.7,785.5 3025.3,783.2 3025.8,783.7 3025.7,786.3 3025.5,789.3 3025.2,792.3 3024.9,795.3 3024.6,798.3 3024.3,801.3 3024.0,804.3 3023.7,807.2 3023.4,810.2 3023.1,813.2 3022.7,816.2 3022.4,819.2 3022.0,822.1 3021.7,825.1 3021.4,828.1 3021.0,831.1 3020.7,834.1 3020.3,837.0 3020.0,840.0 3019.6,843.0 3019.3,846.0 3018.9,849.0 3018.6,851.9 3018.2,854.9 3017.9,857.9 3017.5,860.9 3017.1,863.9 3016.8,866.8 3016.4,869.8 3016.0,872.8 3015.6,875.8 3015.2,878.7 3014.8,881.7 3014.4,884.7 3013.9,887.6 3013.4,890.6 3013.0,893.6 3012.4,896.5 3011.9,899.5 3011.4,902.4 3010.8,905.4 3010.3,908.3 3009.7,911.3 3009.1,914.2 3008.5,917.1 3007.9,920.1 3007.2,923.0 3006.5,925.9 3005.8,928.8 3005.0,931.7 3004.2,934.6 3003.3,937.5 3002.4,940.3 3001.4,943.2 3000.3,946.0 2999.2,948.7 2998.0,951.5 2996.7,954.2 2995.3,956.9 2993.9,959.5 2992.4,962.1 2990.8,964.6 2989.0,967.1 2987.2,969.4 2985.2,971.7 2983.2,973.9 2981.0,976.0 2978.8,978.0 2976.5,979.9 2974.1,981.7 2971.7,983.5 2969.2,985.2 2966.6,986.7 2964.0,988.2 2961.4,989.5 2958.6,990.8 2955.8,991.9 2953.0,992.9 2950.1,993.7 2947.2,994.4 2944.3,995.1 2941.3,995.6 2938.4,996.2 2935.5,996.8 2932.5,997.4 2929.6,997.9 2926.6,998.4 2923.6,998.9 2920.7,999.3 2917.7,999.7 2914.7,1000.0 2911.7,1000.3 2908.7,1000.5 2905.7,1000.7 2902.7,1000.9 2899.7,1001.1 2896.7,1001.2 2893.8,1001.3 2890.8,1001.5 2887.8,1001.6 2884.8,1001.6 2881.8,1001.7 2878.8,1001.8 2875.8,1001.9 2872.8,1001.9 2869.8,1002.0 2866.8,1002.1 2863.8,1002.1 2860.8,1002.2 2857.8,1002.3 2854.8,1002.3 2851.8,1002.4 2848.8,1002.5 2845.8,1002.5 2842.8,1002.6 2839.8,1002.7 2836.8,1002.8 2833.8,1002.8 2830.8,1002.9 2827.8,1003.0 2824.8,1003.1 2821.8,1003.1 2818.8,1003.2 2815.8,1003.2 2812.8,1003.3 2809.8,1003.3 2806.8,1003.4 2803.8,1003.5 2800.8,1003.5 2797.8,1003.6 2794.8,1003.6 2791.8,1003.7 2788.8,1003.7 2785.8,1003.8 2782.8,1003.8 2779.8,1003.9 2776.8,1003.9 2773.8,1004.0 2770.8,1004.1 2767.8,1004.1 2764.8,1004.2 2761.8,1004.3 2758.8,1004.4 2755.8,1004.4 2752.8,1004.5 2749.8,1004.7 2746.8,1004.8 2743.8,1004.9 2740.8,1005.0 2737.8,1005.2 2734.8,1005.4 2731.8,1005.5 2728.8,1005.7 2725.8,1005.9 2722.8,1006.1 2719.8,1006.3 2716.8,1006.5 2713.9,1006.8 2710.9,1007.1 2707.9,1007.4 2704.9,1007.9 2702.0,1008.4 2699.0,1009.0 2696.1,1009.6 2693.2,1010.4 2690.3,1011.2 2687.5,1012.1 2684.6,1013.1 2681.9,1014.3 2679.1,1015.5 2676.4,1016.8 2673.8,1018.2 2671.2,1019.7 2668.6,1021.3 2666.1,1022.9 2663.7,1024.7 2661.4,1026.6 2659.1,1028.5 2656.9,1030.6 2654.9,1032.8 2652.9,1035.0 2651.0,1037.3 2649.2,1039.7 2647.4,1042.2 2645.8,1044.7 2644.2,1047.2 2642.7,1049.8 2641.3,1052.5 2640.0,1055.2 2638.7,1057.9 2637.6,1060.7 2636.5,1063.5 2635.6,1066.3 2634.6,1069.2 2633.7,1072.0 2632.9,1074.9 2632.0,1077.8 2631.2,1080.7 2630.4,1083.6 2629.6,1086.5 2628.8,1089.4 2628.1,1092.3 2627.4,1095.2 2626.7,1098.1 2626.1,1101.0 2625.5,1104.0 2624.9,1106.9 2624.3,1109.9 2623.7,1112.8 2623.1,1115.7 2622.5,1118.7 2621.9,1121.6 2621.3,1124.6 2620.7,1127.5 2620.2,1130.5 2619.6,1133.4 2619.0,1136.3 2618.5,1139.3 2617.9,1142.2 2617.4,1145.2 2616.8,1148.1 2616.3,1151.1 2615.7,1154.0 2615.2,1157.0 2614.7,1159.9 2614.1,1162.9 2613.6,1165.8 2613.1,1168.8 2612.5,1171.7 2612.0,1174.7 2611.4,1177.6 2610.9,1180.6 2610.3,1183.5 2609.8,1186.5 2609.3,1189.5 2608.8,1192.4 2608.3,1195.4 2607.8,1198.3 2607.3,1201.3 2606.9,1204.3 2606.5,1207.2 2606.1,1210.2 2605.8,1213.2 2605.4,1216.2 2605.1,1219.1 2604.7,1222.1 2604.2,1225.1 2603.7,1228.0 2603.1,1231.0 2602.5,1233.9 2601.7,1236.8 2600.9,1239.7 2600.1,1242.6 2599.3,1245.5 2598.4,1248.3 2597.5,1251.2 2596.6,1254.1 2595.5,1256.9 2594.2,1259.5 2592.2,1261.6 2589.7,1262.4 2587.3,1261.3 2585.5,1259.0 2584.2,1256.3 2583.2,1253.5 2582.3,1250.7 2581.4,1247.8 2580.6,1244.9 2579.8,1242.0 2579.0,1239.1 2578.2,1236.2 2577.5,1233.3 2576.7,1230.4 2576.1,1227.5 2575.4,1224.6 2574.8,1221.6 2574.2,1218.7 2573.6,1215.7 2573.1,1212.8 2572.5,1209.9 2571.9,1206.9 2571.3,1204.0 2570.7,1201.0 2570.1,1198.1 2569.5,1195.2 2568.8,1192.2 2568.2,1189.3 2567.5,1186.4 2566.9,1183.4 2566.2,1180.5 2565.5,1177.6 2564.9,1174.7 2564.2,1171.8 2563.5,1168.8 2562.7,1165.9 2562.0,1163.0 2561.3,1160.1 2560.5,1157.2 2559.7,1154.3 2558.9,1151.4 2558.2,1148.5 2557.3,1145.6 2556.5,1142.7 2555.7,1139.9 2554.8,1137.0 2554.0,1134.1 2553.1,1131.2 2552.2,1128.4 2551.4,1125.5 2550.4,1122.6 2549.5,1119.8 2548.6,1116.9 2547.6,1114.1 2546.7,1111.3 2545.7,1108.4 2544.7,1105.6 2543.7,1102.8 2542.7,1099.9 2541.6,1097.1 2540.6,1094.3 2539.5,1091.5 2538.4,1088.7 2537.4,1085.9 2536.3,1083.1 2535.1,1080.3 2534.0,1077.6 2533.0,1074.8 2531.9,1072.0 2530.8,1069.1 2529.8,1066.3 2528.7,1063.5 2527.7,1060.7 2526.6,1057.9 2525.5,1055.1 2524.4,1052.3 2523.3,1049.5 2522.2,1046.8 2521.0,1044.0 2519.7,1041.3 2518.5,1038.6 2517.1,1035.9 2515.6,1033.3 2514.1,1030.7 2512.3,1028.3 2510.3,1026.1 2508.1,1024.0 2505.8,1022.2 2503.2,1020.6 2500.6,1019.1 2497.9,1017.9 2495.1,1016.9 2492.2,1016.0 2489.3,1015.4 2486.3,1014.8 2483.4,1014.3 2480.4,1013.8 2477.4,1013.4 2474.4,1013.2 2471.4,1012.9 2468.5,1012.8 2465.5,1012.6 2462.5,1012.6 2459.5,1012.5 2456.5,1012.5 2453.5,1012.5 2450.5,1012.6 2447.5,1012.6 2444.5,1012.8 2441.5,1012.9 2438.5,1013.1 2435.5,1013.3 2432.5,1013.5 2429.5,1013.9 2426.5,1014.2 2423.6,1014.7 2420.6,1015.1 2417.6,1015.7 2414.7,1016.2 2411.8,1016.9 2408.8,1017.5 2405.9,1018.3 2403.0,1019.1 2400.2,1020.0 2397.3,1020.9 2394.6,1022.0 2391.8,1023.2 2389.1,1024.6 2386.5,1026.1 2383.9,1027.6 2381.4,1029.2 2378.9,1030.8 2376.4,1032.4 2374.2,1033.9 2373.7,1034.3" fill="none" stroke="#62b680" stroke-width="3.5" stroke-linejoin="round" stroke-linecap="round"/><path d="M2372.5,1028.9 2372.5,1026.6 2372.5,1023.6 2372.5,1020.6 2372.5,1017.6 2372.4,1014.6 2372.5,1011.7 2373.4,1008.9 2375.0,1006.4 2377.1,1004.3 2379.5,1002.5 2382.0,1001.0 2384.8,999.7 2387.6,998.8 2390.5,998.0 2393.4,997.2 2396.3,996.5 2399.2,995.8 2402.2,995.1 2405.1,994.5 2408.0,993.9 2411.0,993.4 2414.0,993.0 2416.9,992.7 2419.9,992.4 2422.9,992.2 2425.9,992.0 2428.9,991.8 2431.9,991.7 2434.9,991.6 2437.9,991.5 2440.9,991.4 2443.9,991.3 2446.9,991.2 2449.9,991.1 2452.9,991.0 2455.9,990.9 2458.9,990.8 2461.9,990.7 2464.9,990.6 2467.9,990.5 2470.9,990.4 2473.9,990.3 2476.9,990.2 2479.9,990.2 2482.9,990.1 2485.9,990.0 2488.9,989.9 2491.9,989.9 2494.9,989.8 2497.9,989.7 2500.9,989.7 2503.9,989.6 2506.9,989.6 2509.9,989.5 2512.9,989.5 2515.9,989.4 2518.9,989.3 2521.9,989.3 2524.9,989.3 2527.9,989.2 2530.9,989.2 2533.9,989.1 2536.9,989.1 2539.9,989.1 2542.9,989.1 2545.9,989.0 2548.9,989.0 2551.9,989.0 2554.9,989.0 2557.9,989.0 2560.9,989.1 2563.9,989.1 2566.9,989.1 2569.9,989.1 2572.9,989.2 2575.9,989.2 2578.9,989.2 2581.9,989.3 2584.9,989.3 2587.9,989.3 2590.9,989.3 2593.9,989.3 2596.9,989.3 2599.9,989.3 2602.9,989.3 2605.9,989.3 2608.9,989.3 2611.9,989.3 2614.9,989.4 2617.9,989.4 2620.9,989.4 2623.9,989.5 2626.9,989.5 2629.9,989.6 2632.9,989.6 2635.9,989.6 2638.9,989.7 2641.9,989.7 2644.9,989.7 2647.9,989.8 2650.9,989.8 2653.9,989.8 2656.9,989.8 2659.9,989.8 2662.9,989.8 2665.9,989.8 2668.9,989.8 2671.9,989.8 2674.9,989.7 2677.9,989.7 2680.9,989.6 2683.9,989.5 2686.9,989.4 2689.9,989.3 2692.9,989.1 2695.9,989.0 2698.8,988.8 2701.8,988.5 2704.8,988.2 2707.8,987.8 2710.8,987.4 2713.7,987.0 2716.7,986.5 2719.7,986.0 2722.6,985.4 2725.5,984.7 2728.4,983.9 2731.2,982.9 2734.0,981.7 2736.7,980.4 2739.2,978.8 2741.5,976.9 2743.7,974.9 2745.7,972.7 2747.7,970.4 2749.6,968.1 2751.5,965.8 2753.5,963.5 2755.5,961.2 2757.4,958.9 2759.3,956.6 2761.1,954.3 2763.0,951.9 2764.8,949.5 2766.6,947.1 2768.3,944.6 2770.0,942.1 2771.6,939.6 2773.2,937.1 2774.8,934.5 2776.4,932.0 2778.0,929.5 2779.7,927.0 2781.5,924.6 2783.4,922.3 2785.3,920.0 2787.3,917.7 2789.3,915.5 2791.5,913.4 2793.7,911.4 2796.1,909.6 2798.7,908.1 2801.4,906.8 2804.2,905.7 2807.0,904.9 2810.0,904.3 2813.0,904.0 2815.9,904.1 2818.9,904.5 2821.8,905.1 2824.7,905.9 2827.6,906.7 2830.4,907.7 2833.2,908.9 2835.9,910.1 2838.7,911.4 2841.4,912.7 2844.1,914.0 2846.8,915.3 2849.5,916.5 2852.3,917.7 2855.0,918.9 2857.8,920.0 2860.6,921.2 2863.3,922.3 2866.1,923.5 2868.9,924.5 2871.7,925.6 2874.6,926.5 2877.4,927.4 2880.3,928.3 2883.2,929.2 2886.1,930.0 2889.0,930.7 2891.9,931.4 2894.8,932.0 2897.8,932.5 2900.8,932.9 2903.7,933.2 2906.7,933.4 2909.7,933.5 2912.7,933.5 2915.7,933.4 2918.7,933.3 2921.7,933.0 2924.7,932.7 2927.7,932.3 2930.6,931.8 2933.6,931.3 2936.5,930.6 2939.4,929.9 2942.3,929.1 2945.2,928.1 2948.0,927.1 2950.7,926.0 2953.5,924.7 2956.2,923.4 2958.9,922.1 2961.5,920.6 2964.1,919.1 2966.6,917.5 2969.0,915.8 2971.4,914.0 2973.8,912.1 2976.0,910.1 2978.2,908.1 2980.4,905.9 2982.4,903.8 2984.4,901.6 2986.4,899.3 2988.3,897.0 2990.2,894.6 2992.0,892.3 2993.8,889.9 2995.6,887.4 2997.3,884.9 2998.9,882.4 3000.5,879.9 3002.0,877.3 3003.4,874.6 3004.7,871.9 3006.0,869.2 3007.2,866.5 3008.3,863.7 3009.4,860.9 3010.5,858.1 3011.5,855.3 3012.5,852.5 3013.5,849.6 3014.4,846.8 3015.3,843.9 3016.1,841.0 3017.0,838.1 3017.8,835.2 3018.6,832.3 3019.3,829.5 3020.1,826.6 3020.9,823.7 3021.7,820.8 3022.5,817.9 3023.3,815.0 3024.1,812.1 3024.9,809.2 3025.9,806.5 3026.8,805.5 3027.1,807.3 3027.0,810.2 3026.7,813.2 3026.3,816.2 3026.0,819.2 3025.6,822.2 3025.2,825.1 3024.8,828.1 3024.4,831.1 3024.0,834.1 3023.6,837.0 3023.2,840.0 3022.7,843.0 3022.3,845.9 3021.9,848.9 3021.4,851.9 3021.0,854.8 3020.6,857.8 3020.1,860.8 3019.7,863.7 3019.2,866.7 3018.7,869.7 3018.3,872.6 3017.8,875.6 3017.3,878.6 3016.8,881.5 3016.3,884.5 3015.8,887.4 3015.2,890.4 3014.7,893.3 3014.1,896.3 3013.5,899.2 3012.9,902.2 3012.3,905.1 3011.7,908.0 3011.0,911.0 3010.4,913.9 3009.7,916.8 3009.0,919.7 3008.3,922.6 3007.6,925.6 3006.9,928.5 3006.1,931.4 3005.2,934.2 3004.4,937.1 3003.4,940.0 3002.4,942.8 3001.4,945.6 3000.3,948.4 2999.1,951.2 2997.9,953.9 2996.7,956.6 2995.3,959.3 2993.9,962.0 2992.4,964.5 2990.8,967.1 2989.1,969.5 2987.2,971.9 2985.3,974.2 2983.3,976.4 2981.1,978.5 2978.9,980.5 2976.6,982.4 2974.2,984.2 2971.7,985.9 2969.1,987.4 2966.4,988.8 2963.7,990.1 2961.0,991.2 2958.2,992.3 2955.3,993.3 2952.4,994.1 2949.5,994.8 2946.6,995.4 2943.6,995.9 2940.7,996.4 2937.7,996.9 2934.8,997.4 2931.8,997.9 2928.8,998.3 2925.9,998.7 2922.9,999.1 2919.9,999.5 2916.9,999.8 2913.9,1000.1 2911.0,1000.3 2908.0,1000.5 2905.0,1000.7 2902.0,1000.9 2899.0,1001.0 2896.0,1001.2 2893.0,1001.3 2890.0,1001.4 2887.0,1001.5 2884.0,1001.6 2881.0,1001.7 2878.0,1001.8 2875.0,1001.8 2872.0,1001.9 2869.0,1002.0 2866.0,1002.0 2863.0,1002.1 2860.0,1002.2 2857.0,1002.2 2854.0,1002.3 2851.0,1002.4 2848.0,1002.5 2845.0,1002.5 2842.0,1002.6 2839.0,1002.7 2836.0,1002.8 2833.0,1002.9 2830.0,1002.9 2827.0,1003.0 2824.0,1003.1 2821.0,1003.2 2818.0,1003.2 2815.0,1003.3 2812.0,1003.3 2809.0,1003.4 2806.0,1003.5 2803.0,1003.5 2800.0,1003.6 2797.0,1003.6 2794.0,1003.7 2791.0,1003.7 2788.0,1003.8 2785.0,1003.9 2782.0,1003.9 2779.0,1004.0 2776.0,1004.1 2773.0,1004.1 2770.0,1004.2 2767.0,1004.3 2764.0,1004.3 2761.0,1004.4 2758.0,1004.5 2755.0,1004.6 2752.0,1004.7 2749.0,1004.8 2746.0,1004.9 2743.0,1005.0 2740.0,1005.1 2737.0,1005.2 2734.0,1005.4 2731.0,1005.5 2728.0,1005.6 2725.0,1005.8 2722.0,1005.9 2719.0,1006.0 2716.1,1006.2 2713.1,1006.4 2710.1,1006.6 2707.1,1007.0 2704.1,1007.3 2701.2,1007.8 2698.2,1008.4 2695.3,1009.0 2692.4,1009.7 2689.5,1010.5 2686.6,1011.4 2683.8,1012.4 2681.0,1013.5 2678.2,1014.7 2675.5,1016.0 2672.8,1017.3 2670.2,1018.7 2667.6,1020.2 2665.0,1021.8 2662.5,1023.5 2660.2,1025.3 2657.9,1027.2 2655.7,1029.3 2653.6,1031.5 2651.7,1033.7 2649.8,1036.1 2648.1,1038.5 2646.4,1041.0 2644.8,1043.5 2643.3,1046.1 2641.9,1048.8 2640.5,1051.4 2639.3,1054.2 2638.2,1057.0 2637.1,1059.8 2636.1,1062.6 2635.1,1065.4 2634.2,1068.3 2633.2,1071.1 2632.3,1074.0 2631.5,1076.9 2630.6,1079.7 2629.7,1082.6 2628.9,1085.5 2628.2,1088.4 2627.4,1091.3 2626.7,1094.2 2626.0,1097.1 2625.3,1100.0 2624.6,1103.0 2624.0,1105.9 2623.3,1108.8 2622.7,1111.8 2622.0,1114.7 2621.4,1117.6 2620.8,1120.5 2620.2,1123.5 2619.6,1126.4 2619.0,1129.4 2618.4,1132.3 2617.8,1135.3 2617.3,1138.2 2616.7,1141.2 2616.1,1144.1 2615.6,1147.0 2615.0,1150.0 2614.4,1152.9 2613.8,1155.9 2613.3,1158.8 2612.7,1161.8 2612.1,1164.7 2611.5,1167.7 2611.0,1170.6 2610.4,1173.5 2609.9,1176.5 2609.3,1179.4 2608.8,1182.4 2608.3,1185.4 2607.8,1188.3 2607.3,1191.3 2606.8,1194.2 2606.3,1197.2 2605.9,1200.2 2605.4,1203.1 2604.8,1206.1 2604.3,1209.0 2603.7,1212.0 2603.1,1214.9 2602.5,1217.8 2601.8,1220.8 2601.2,1223.7 2600.5,1226.6 2599.8,1229.5 2599.0,1232.4 2598.2,1235.3 2597.4,1238.2 2596.4,1241.0 2595.2,1243.8 2593.8,1246.4 2591.7,1248.3 2589.1,1248.6 2586.8,1247.1 2585.2,1244.6 2584.0,1241.9 2582.9,1239.1 2582.0,1236.2 2581.2,1233.3 2580.4,1230.4 2579.7,1227.5 2579.1,1224.6 2578.4,1221.7 2577.8,1218.7 2577.1,1215.8 2576.5,1212.9 2575.9,1209.9 2575.3,1207.0 2574.7,1204.1 2574.1,1201.1 2573.6,1198.2 2573.0,1195.2 2572.5,1192.3 2571.9,1189.3 2571.3,1186.4 2570.7,1183.4 2570.1,1180.5 2569.4,1177.6 2568.8,1174.7 2568.1,1171.7 2567.4,1168.8 2566.6,1165.9 2565.9,1163.0 2565.1,1160.1 2564.4,1157.2 2563.6,1154.3 2562.9,1151.4 2562.1,1148.5 2561.4,1145.6 2560.6,1142.7 2559.9,1139.8 2559.1,1136.9 2558.4,1134.0 2557.6,1131.1 2556.7,1128.2 2555.9,1125.3 2555.0,1122.5 2554.0,1119.6 2553.0,1116.8 2551.9,1114.0 2550.9,1111.2 2549.7,1108.4 2548.6,1105.6 2547.4,1102.9 2546.3,1100.1 2545.1,1097.3 2543.9,1094.6 2542.6,1091.9 2541.4,1089.2 2540.1,1086.4 2538.8,1083.7 2537.6,1081.0 2536.4,1078.2 2535.2,1075.5 2534.1,1072.7 2533.0,1069.9 2532.0,1067.1 2531.1,1064.2 2530.1,1061.4 2529.2,1058.5 2528.2,1055.7 2527.3,1052.8 2526.3,1050.0 2525.3,1047.1 2524.3,1044.3 2523.3,1041.5 2522.2,1038.7 2521.0,1036.0 2519.6,1033.3 2518.2,1030.7 2516.5,1028.2 2514.6,1025.9 2512.6,1023.7 2510.3,1021.7 2507.8,1020.0 2505.3,1018.5 2502.5,1017.2 2499.7,1016.2 2496.9,1015.4 2493.9,1014.7 2491.0,1014.2 2488.0,1013.7 2485.1,1013.2 2482.1,1012.8 2479.1,1012.4 2476.1,1012.1 2473.1,1011.8 2470.2,1011.6 2467.2,1011.5 2464.2,1011.4 2461.2,1011.3 2458.2,1011.2 2455.2,1011.2 2452.2,1011.2 2449.2,1011.3 2446.2,1011.3 2443.2,1011.4 2440.2,1011.5 2437.2,1011.7 2434.2,1011.9 2431.2,1012.1 2428.2,1012.4 2425.2,1012.7 2422.2,1013.1 2419.3,1013.6 2416.3,1014.0 2413.4,1014.6 2410.4,1015.1 2407.5,1015.7 2404.5,1016.3 2401.6,1017.0 2398.7,1017.7 2395.8,1018.5 2393.0,1019.4 2390.1,1020.4 2387.4,1021.6 2384.6,1022.9 2382.0,1024.3 2379.4,1025.7 2376.8,1027.3 2374.4,1028.8 2373.2,1029.5" fill="none" stroke="#5f95cf" stroke-width="3.5" stroke-linejoin="round" stroke-linecap="round"/><rect x="2324.5" y="752.5" width="748.0" height="531.9" fill="none" stroke="#231f20" stroke-width="2.8"/><line x1="2324.5" y1="819.4" x2="2340.5" y2="819.4" stroke="#231f20" stroke-width="2.8"/><text x="2313.0" y="836.2" text-anchor="end">0.10</text><line x1="2324.5" y1="903.7" x2="2340.5" y2="903.7" stroke="#231f20" stroke-width="2.8"/><text x="2313.0" y="920.5" text-anchor="end">0.05</text><line x1="2324.5" y1="988.0" x2="2340.5" y2="988.0" stroke="#231f20" stroke-width="2.8"/><text x="2313.0" y="1004.8" text-anchor="end">0</text><line x1="2324.5" y1="1072.3" x2="2340.5" y2="1072.3" stroke="#231f20" stroke-width="2.8"/><text x="2313.0" y="1089.1" text-anchor="end">−0.05</text><line x1="2324.5" y1="1156.6" x2="2340.5" y2="1156.6" stroke="#231f20" stroke-width="2.8"/><text x="2313.0" y="1173.4" text-anchor="end">−0.10</text><line x1="2324.5" y1="1240.9" x2="2340.5" y2="1240.9" stroke="#231f20" stroke-width="2.8"/><text x="2313.0" y="1257.7" text-anchor="end">−0.15</text><line x1="2372.5" y1="1284.4" x2="2372.5" y2="1268.4" stroke="#231f20" stroke-width="2.8"/><text x="2372.5" y="1341.5" text-anchor="middle">0</text><line x1="2465.9" y1="1284.4" x2="2465.9" y2="1268.4" stroke="#231f20" stroke-width="2.8"/><text x="2465.9" y="1341.5" text-anchor="middle">0.2</text><line x1="2559.4" y1="1284.4" x2="2559.4" y2="1268.4" stroke="#231f20" stroke-width="2.8"/><text x="2559.4" y="1341.5" text-anchor="middle">0.4</text><line x1="2652.8" y1="1284.4" x2="2652.8" y2="1268.4" stroke="#231f20" stroke-width="2.8"/><text x="2652.8" y="1341.5" text-anchor="middle">0.6</text><line x1="2746.2" y1="1284.4" x2="2746.2" y2="1268.4" stroke="#231f20" stroke-width="2.8"/><text x="2746.2" y="1341.5" text-anchor="middle">0.8</text><line x1="2839.6" y1="1284.4" x2="2839.6" y2="1268.4" stroke="#231f20" stroke-width="2.8"/><text x="2839.6" y="1341.5" text-anchor="middle">1.0</text><line x1="2933.1" y1="1284.4" x2="2933.1" y2="1268.4" stroke="#231f20" stroke-width="2.8"/><text x="2933.1" y="1341.5" text-anchor="middle">1.2</text><line x1="3026.5" y1="1284.4" x2="3026.5" y2="1268.4" stroke="#231f20" stroke-width="2.8"/><text x="3026.5" y="1341.5" text-anchor="middle">1.4</text><text x="2698.5" y="1412.0" text-anchor="middle">Potential/V</text><text transform="translate(2158.7,1017.9) rotate(-90)" text-anchor="middle">Current/mA</text><text x="2347.4" y="812.0" style="font-size:54.5px">(f)</text><line x1="2664.5" y1="1057.3" x2="2757.0" y2="1057.3" stroke="#6b6c70" stroke-width="4.8"/><text x="2760.3" y="1072.3" style="letter-spacing:-0.15px">5.9×10<tspan font-size="33" dy="-18">−6</tspan><tspan dy="18"> cm</tspan><tspan font-size="33" dy="-18">2</tspan></text><line x1="2664.5" y1="1113.8" x2="2757.0" y2="1113.8" stroke="#d84a64" stroke-width="4.5"/><text x="2760.3" y="1128.8" style="letter-spacing:-0.15px">8.3×10<tspan font-size="33" dy="-18">−6</tspan><tspan dy="18"> cm</tspan><tspan font-size="33" dy="-18">2</tspan></text><line x1="2664.5" y1="1170.3" x2="2757.0" y2="1170.3" stroke="#66b883" stroke-width="4.5"/><text x="2760.3" y="1185.3" style="letter-spacing:-0.15px">1.7×10<tspan font-size="33" dy="-18">−5</tspan><tspan dy="18"> cm</tspan><tspan font-size="33" dy="-18">2</tspan></text><line x1="2664.5" y1="1226.8" x2="2757.0" y2="1226.8" stroke="#5f95cf" stroke-width="4.0"/><text x="2760.3" y="1241.8" style="letter-spacing:-0.15px">3.3×10<tspan font-size="33" dy="-18">−5</tspan><tspan dy="18"> cm</tspan><tspan font-size="33" dy="-18">2</tspan></text></g>
</svg>
</body></html>
